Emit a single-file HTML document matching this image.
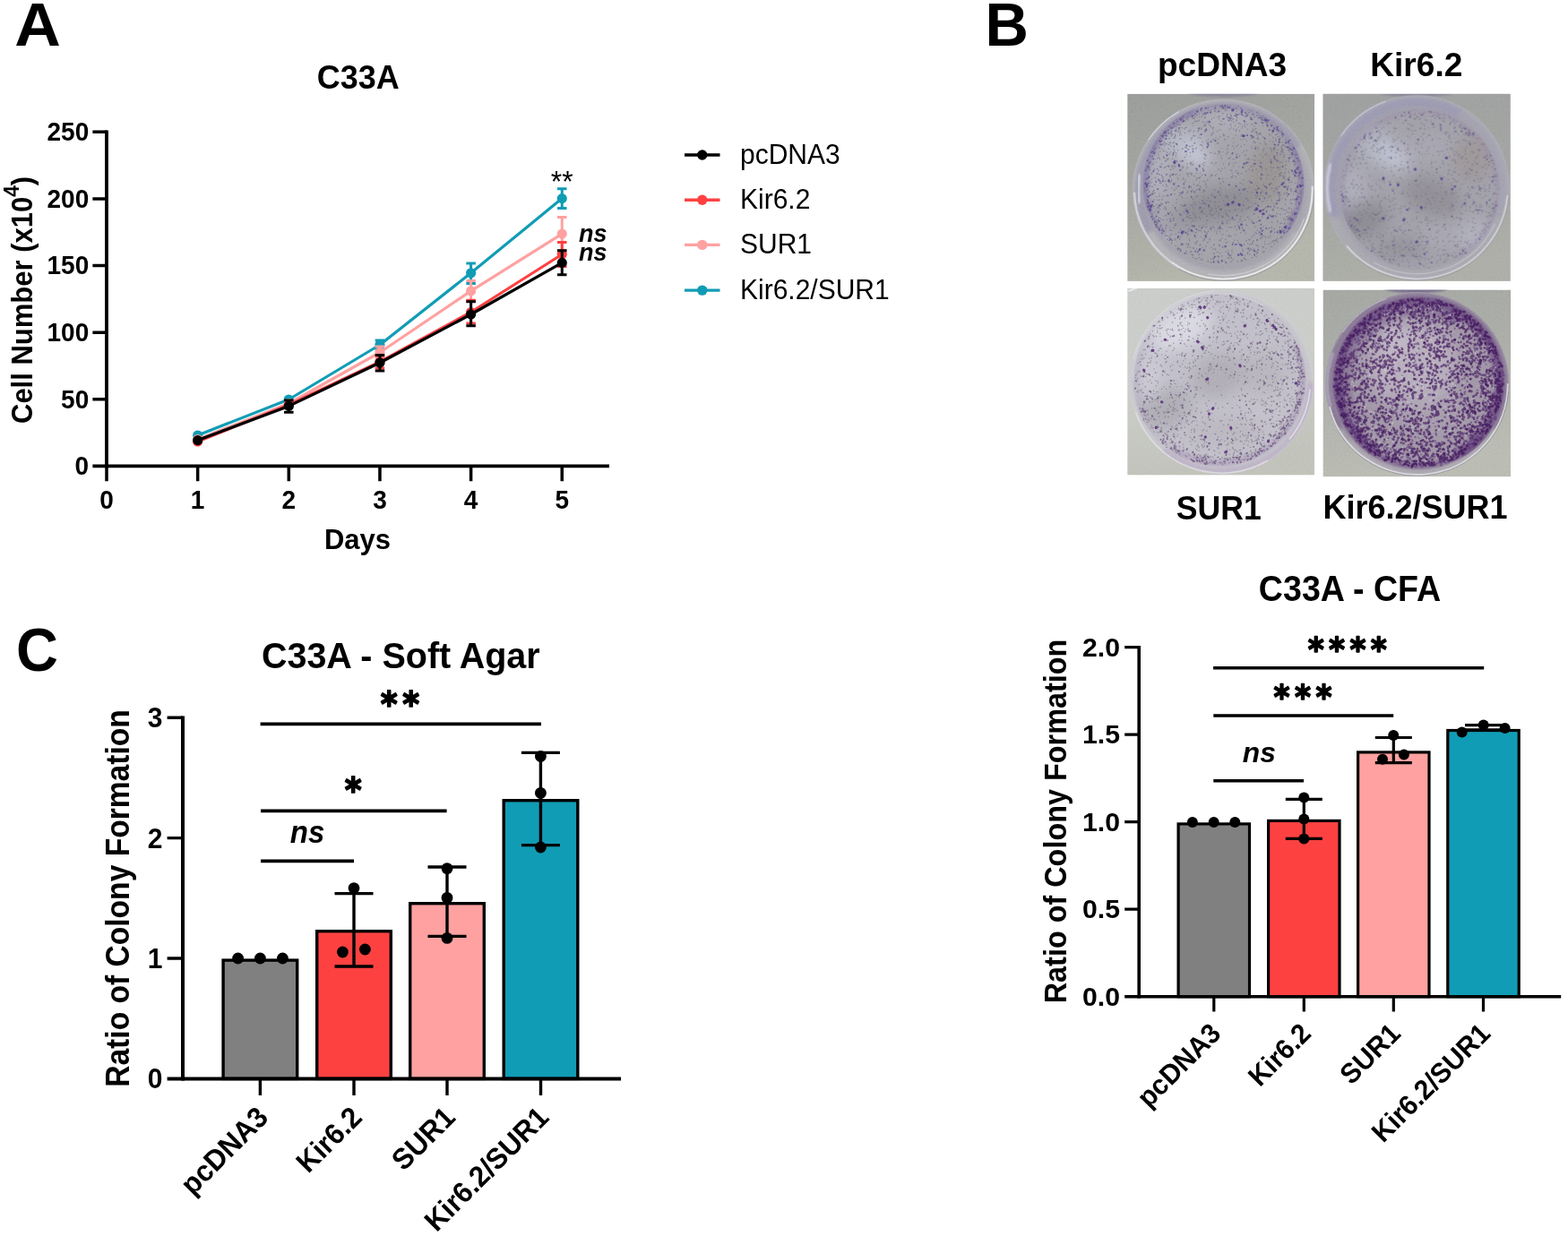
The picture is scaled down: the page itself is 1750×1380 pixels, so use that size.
<!DOCTYPE html>
<html lang="en">
<head>
<meta charset="utf-8">
<title>C33A proliferation and colony formation</title>
<style>
html,body{margin:0;padding:0;background:#fff;width:1750px;height:1380px;overflow:hidden}
svg{display:block;position:absolute;left:0;top:0}
text{font-family:"Liberation Sans",Arial,Helvetica,sans-serif;fill:#000;stroke:none}
.b{font-weight:bold}
.r{font-weight:normal}
.bi{font-weight:bold;font-style:italic}
.st{font-family:"DejaVu Sans","Liberation Sans",sans-serif;font-weight:bold;stroke:#000;stroke-linejoin:round;stroke-linecap:round}
</style>
</head>
<body>
<svg width="1750" height="1380" viewBox="0 0 1750 1380">
<rect width="1750" height="1380" fill="#fff"/>
<g id="panel-a">
<text class="b" transform="translate(16.2 51.4) scale(1.067 1.033)" font-size="67">A</text>
<text class="b" transform="translate(399.7 99) scale(1 1.04)" font-size="36" text-anchor="middle">C33A</text>
<g stroke="#000" stroke-width="3.8" fill="none">
<path d="M119 145.55V522.3"/>
<path d="M103.4 520.4H680"/>
</g>
<g stroke="#000" stroke-width="3.5" fill="none">
<path d="M103.4 445.78H119M103.4 371.16H119M103.4 296.54H119M103.4 221.92H119M103.4 147.3H119M119 520.4V537.3M220.65 520.4V537.3M322.3 520.4V537.3M423.95 520.4V537.3M525.6 520.4V537.3M627.25 520.4V537.3"/>
</g>
<text class="b" transform="translate(99.2 530.3) scale(1 1.04)" font-size="28" text-anchor="end">0</text>
<text class="b" transform="translate(99.2 455.68) scale(1 1.04)" font-size="28" text-anchor="end">50</text>
<text class="b" transform="translate(99.2 381.06) scale(1 1.04)" font-size="28" text-anchor="end">100</text>
<text class="b" transform="translate(99.2 306.44) scale(1 1.04)" font-size="28" text-anchor="end">150</text>
<text class="b" transform="translate(99.2 231.82) scale(1 1.04)" font-size="28" text-anchor="end">200</text>
<text class="b" transform="translate(99.2 157.2) scale(1 1.04)" font-size="28" text-anchor="end">250</text>
<text class="b" transform="translate(119 568) scale(1 1.04)" font-size="28" text-anchor="middle">0</text>
<text class="b" transform="translate(220.65 568) scale(1 1.04)" font-size="28" text-anchor="middle">1</text>
<text class="b" transform="translate(322.3 568) scale(1 1.04)" font-size="28" text-anchor="middle">2</text>
<text class="b" transform="translate(423.95 568) scale(1 1.04)" font-size="28" text-anchor="middle">3</text>
<text class="b" transform="translate(525.6 568) scale(1 1.04)" font-size="28" text-anchor="middle">4</text>
<text class="b" transform="translate(627.25 568) scale(1 1.04)" font-size="28" text-anchor="middle">5</text>
<text class="b" transform="translate(399 612.5) scale(1 1.04)" font-size="31" text-anchor="middle">Days</text>
<text class="b" transform="translate(36 335) rotate(-90) scale(1 1.08)" font-size="31" text-anchor="middle">Cell Number (x10<tspan font-size="22.5" dy="-13.6">4</tspan><tspan dy="13.6">)</tspan></text>
<g stroke="#119cb5" fill="#119cb5" stroke-width="3.2">
<polyline fill="none" stroke-linejoin="round" points="220.65,486 322.3,446 423.95,385 525.6,304.8 627.25,221.6"/>
<path d="M418.7 380H429.2M418.7 390H429.2M423.95 380V390" fill="none" stroke-width="3"/>
<path d="M520.35 294.1H530.85M520.35 316.5H530.85M525.6 294.1V316.5" fill="none" stroke-width="3"/>
<path d="M622 210.8H632.5M622 232.5H632.5M627.25 210.8V232.5" fill="none" stroke-width="3"/>
<circle cx="220.65" cy="486" r="5.6" stroke="none"/>
<circle cx="322.3" cy="446" r="5.6" stroke="none"/>
<circle cx="423.95" cy="385" r="5.6" stroke="none"/>
<circle cx="525.6" cy="304.8" r="5.6" stroke="none"/>
<circle cx="627.25" cy="221.6" r="5.6" stroke="none"/>
</g>
<g stroke="#ffa1a1" fill="#ffa1a1" stroke-width="3.2">
<polyline fill="none" stroke-linejoin="round" points="220.65,490.5 322.3,450.5 423.95,393.5 525.6,324.9 627.25,261.1"/>
<path d="M418.7 387H429.2M418.7 399.5H429.2M423.95 387V399.5" fill="none" stroke-width="3"/>
<path d="M520.35 313.5H530.85M520.35 336.3H530.85M525.6 313.5V336.3" fill="none" stroke-width="3"/>
<path d="M622 242.6H632.5M622 279.6H632.5M627.25 242.6V279.6" fill="none" stroke-width="3"/>
<circle cx="220.65" cy="490.5" r="5.6" stroke="none"/>
<circle cx="322.3" cy="450.5" r="5.6" stroke="none"/>
<circle cx="423.95" cy="393.5" r="5.6" stroke="none"/>
<circle cx="525.6" cy="324.9" r="5.6" stroke="none"/>
<circle cx="627.25" cy="261.1" r="5.6" stroke="none"/>
</g>
<g stroke="#fd4141" fill="#fd4141" stroke-width="3.2">
<polyline fill="none" stroke-linejoin="round" points="220.65,493 322.3,452 423.95,404 525.6,348.5 627.25,284"/>
<path d="M418.7 397H429.2M418.7 411H429.2M423.95 397V411" fill="none" stroke-width="3"/>
<path d="M520.35 335.2H530.85M520.35 361H530.85M525.6 335.2V361" fill="none" stroke-width="3"/>
<path d="M622 270.5H632.5M622 297.5H632.5M627.25 270.5V297.5" fill="none" stroke-width="3"/>
<circle cx="220.65" cy="493" r="5.6" stroke="none"/>
<circle cx="322.3" cy="452" r="5.6" stroke="none"/>
<circle cx="423.95" cy="404" r="5.6" stroke="none"/>
<circle cx="525.6" cy="348.5" r="5.6" stroke="none"/>
<circle cx="627.25" cy="284" r="5.6" stroke="none"/>
</g>
<g stroke="#000" fill="#000" stroke-width="3.2">
<polyline fill="none" stroke-linejoin="round" points="220.65,491.6 322.3,453.4 423.95,405 525.6,351 627.25,293.4"/>
<path d="M317.05 447H327.55M317.05 460.3H327.55M322.3 447V460.3" fill="none" stroke-width="3"/>
<path d="M418.7 396.5H429.2M418.7 414H429.2M423.95 396.5V414" fill="none" stroke-width="3"/>
<path d="M520.35 336.8H530.85M520.35 363.7H530.85M525.6 336.8V363.7" fill="none" stroke-width="3"/>
<path d="M622 279.8H632.5M622 306.7H632.5M627.25 279.8V306.7" fill="none" stroke-width="3"/>
<circle cx="220.65" cy="491.6" r="5.6" stroke="none"/>
<circle cx="322.3" cy="453.4" r="5.6" stroke="none"/>
<circle cx="423.95" cy="405" r="5.6" stroke="none"/>
<circle cx="525.6" cy="351" r="5.6" stroke="none"/>
<circle cx="627.25" cy="293.4" r="5.6" stroke="none"/>
</g>
<text class="r" transform="translate(627.2 214) scale(1 1.04)" font-size="32" text-anchor="middle">**</text>
<text class="bi" transform="translate(646 269.5) scale(1 1.04)" font-size="27">ns</text>
<text class="bi" transform="translate(646 290.6) scale(1 1.04)" font-size="27">ns</text>
</g>
<g id="legend">
<g stroke="#000" fill="#000">
<path d="M764 173H803.5" stroke-width="3.4" fill="none"/>
<circle cx="783.75" cy="173" r="5.7" stroke="none"/>
</g>
<text class="r" transform="translate(826 183) scale(1 1.04)" font-size="30">pcDNA3</text>
<g stroke="#fd4141" fill="#fd4141">
<path d="M764 223.2H803.5" stroke-width="3.4" fill="none"/>
<circle cx="783.75" cy="223.2" r="5.7" stroke="none"/>
</g>
<text class="r" transform="translate(826 233.2) scale(1 1.04)" font-size="30">Kir6.2</text>
<g stroke="#ffa1a1" fill="#ffa1a1">
<path d="M764 273.4H803.5" stroke-width="3.4" fill="none"/>
<circle cx="783.75" cy="273.4" r="5.7" stroke="none"/>
</g>
<text class="r" transform="translate(826 283.4) scale(1 1.04)" font-size="30">SUR1</text>
<g stroke="#119cb5" fill="#119cb5">
<path d="M764 324.1H803.5" stroke-width="3.4" fill="none"/>
<circle cx="783.75" cy="324.1" r="5.7" stroke="none"/>
</g>
<text class="r" transform="translate(826 334.1) scale(1 1.04)" font-size="30">Kir6.2/SUR1</text>
</g>
<g id="panel-b">
<text class="b" transform="translate(1099.4 51.3) scale(1 1.03)" font-size="67">B</text>
<g id="photos">
<defs>
<filter id="bl05" x="-30%" y="-30%" width="160%" height="160%"><feGaussianBlur stdDeviation="0.5"/></filter>
<filter id="bl06" x="-30%" y="-30%" width="160%" height="160%"><feGaussianBlur stdDeviation="0.6"/></filter>
<filter id="bl07" x="-30%" y="-30%" width="160%" height="160%"><feGaussianBlur stdDeviation="0.75"/></filter>
<filter id="bl09" x="-30%" y="-30%" width="160%" height="160%"><feGaussianBlur stdDeviation="0.95"/></filter>
<filter id="bl1" x="-30%" y="-30%" width="160%" height="160%"><feGaussianBlur stdDeviation="1"/></filter>
<filter id="bl2" x="-30%" y="-30%" width="160%" height="160%"><feGaussianBlur stdDeviation="2"/></filter>
<filter id="bl8" x="-30%" y="-30%" width="160%" height="160%"><feGaussianBlur stdDeviation="8"/></filter>
<filter id="grain" x="0" y="0" width="100%" height="100%" color-interpolation-filters="sRGB"><feTurbulence type="fractalNoise" baseFrequency="0.45" numOctaves="3" seed="7"/><feColorMatrix type="matrix" values="0.6 0.6 0.6 0 -0.4  0.6 0.6 0.6 0 -0.4  0.6 0.6 0.6 0 -0.4  0 0 0 0 1"/></filter>
<linearGradient id="pbg0" x1="0" y1="0" x2="0.3" y2="1"><stop offset="0" stop-color="#9c9e9c"/><stop offset="0.5" stop-color="#a5a7a2"/><stop offset="1" stop-color="#b5b7ac"/></linearGradient>
<radialGradient id="pwall0" gradientUnits="userSpaceOnUse" cx="107.3" cy="107.4" r="101.6"><stop offset="0" stop-color="#a3a2aa"/><stop offset="0.88" stop-color="#a5a3ad"/><stop offset="0.95" stop-color="#aeadb3"/><stop offset="1" stop-color="#b6b6b9"/></radialGradient>
<clipPath id="pclip0"><rect width="208.9" height="209.1"/></clipPath>
<clipPath id="pfl0"><circle cx="107.2" cy="100.8" r="90.2"/></clipPath>
<clipPath id="pout0"><circle cx="107.3" cy="107.4" r="101.6"/></clipPath>
<linearGradient id="pbg1" x1="0" y1="0" x2="0.2" y2="1"><stop offset="0" stop-color="#9fa2a1"/><stop offset="0.55" stop-color="#a3a6a2"/><stop offset="1" stop-color="#adafa8"/></linearGradient>
<radialGradient id="pwall1" gradientUnits="userSpaceOnUse" cx="104.7" cy="104.9" r="103.6"><stop offset="0" stop-color="#a2a2ab"/><stop offset="0.84" stop-color="#a3a2ad"/><stop offset="0.93" stop-color="#a9a8b1"/><stop offset="1" stop-color="#b0b0b5"/></radialGradient>
<clipPath id="pclip1"><rect width="209.5" height="209.1"/></clipPath>
<clipPath id="pfl1"><circle cx="108" cy="106.6" r="89.5"/></clipPath>
<clipPath id="pout1"><circle cx="104.7" cy="104.9" r="103.6"/></clipPath>
<linearGradient id="pbg2" x1="0" y1="0" x2="0.2" y2="1"><stop offset="0" stop-color="#cacdca"/><stop offset="0.5" stop-color="#cbcec9"/><stop offset="1" stop-color="#c2c4bc"/></linearGradient>
<radialGradient id="pwall2" gradientUnits="userSpaceOnUse" cx="105.2" cy="104.7" r="102.8"><stop offset="0" stop-color="#c1c0c8"/><stop offset="0.9" stop-color="#c3c1ca"/><stop offset="0.96" stop-color="#c8c7cd"/><stop offset="1" stop-color="#cfcfd1"/></radialGradient>
<clipPath id="pclip2"><rect width="208.9" height="208.7"/></clipPath>
<clipPath id="pfl2"><circle cx="102.8" cy="102.4" r="96.5"/></clipPath>
<clipPath id="pout2"><circle cx="105.2" cy="104.7" r="102.8"/></clipPath>
<linearGradient id="pbg3" x1="0" y1="0" x2="0.2" y2="1"><stop offset="0" stop-color="#a6a8a4"/><stop offset="0.5" stop-color="#adafaa"/><stop offset="1" stop-color="#bbbdb4"/></linearGradient>
<radialGradient id="pwall3" gradientUnits="userSpaceOnUse" cx="105.2" cy="105.2" r="102.6"><stop offset="0" stop-color="#8a7c92"/><stop offset="0.9" stop-color="#8d8095"/><stop offset="0.96" stop-color="#a39ea8"/><stop offset="1" stop-color="#b3b1b7"/></radialGradient>
<clipPath id="pclip3"><rect width="209.5" height="208.7"/></clipPath>
<clipPath id="pfl3"><circle cx="107" cy="103.5" r="97"/></clipPath>
<clipPath id="pout3"><circle cx="105.2" cy="105.2" r="102.6"/></clipPath>
</defs>
<g transform="translate(1258.2 104.8)" clip-path="url(#pclip0)"><rect width="208.9" height="209.1" fill="url(#pbg0)"/><ellipse cx="108" cy="-3" rx="42" ry="6.5" fill="#8a8399" opacity="0.85" filter="url(#bl1)"/><circle cx="107.3" cy="107.4" r="101.6" fill="url(#pwall0)"/><g clip-path="url(#pout0)"><path d="M24.2 155.4A96 96 0 0 1 190.4 59.4" fill="none" stroke="#9290ad" stroke-width="9" opacity="0.5" filter="url(#bl2)"/><path d="M189.6 154.9A95 95 0 0 1 25 154.9" fill="none" stroke="#b6b6b9" stroke-width="9" opacity="0.8" filter="url(#bl2)"/></g><g clip-path="url(#pfl0)"><circle cx="107.2" cy="100.8" r="91.2" fill="#a5a4ab"/><g filter="url(#bl8)"><ellipse cx="74" cy="67" rx="20" ry="11" transform="rotate(40 74 67)" fill="#d0d3e2" opacity="0.95"/><ellipse cx="66" cy="58" rx="30" ry="20" transform="rotate(30 66 58)" fill="#bcbfce" opacity="0.6"/><ellipse cx="112" cy="30" rx="30" ry="12" transform="rotate(0 112 30)" fill="#b4b4c0" opacity="0.6"/><ellipse cx="34" cy="90" rx="14" ry="30" transform="rotate(0 34 90)" fill="#b6b6c4" opacity="0.6"/><ellipse cx="40" cy="150" rx="20" ry="16" transform="rotate(0 40 150)" fill="#b1b0bc" opacity="0.6"/><ellipse cx="103" cy="124" rx="44" ry="20" transform="rotate(-12 103 124)" fill="#8b8990" opacity="0.85"/><ellipse cx="156" cy="90" rx="22" ry="36" transform="rotate(10 156 90)" fill="#96918f" opacity="0.75"/><ellipse cx="60" cy="141" rx="22" ry="14" transform="rotate(-20 60 141)" fill="#929097" opacity="0.6"/><ellipse cx="150" cy="150" rx="26" ry="16" transform="rotate(20 150 150)" fill="#a09ea5" opacity="0.6"/></g><path d="M40.6 156.7A87 87 0 1 1 173.8 156.7" fill="none" stroke="#877aad" stroke-width="6" opacity="0.4" filter="url(#bl2)"/><path d="M183.4 56.8A88 88 0 0 1 179.3 151.3" fill="none" stroke="#7361a0" stroke-width="5" opacity="0.35" filter="url(#bl2)"/><path d="M24.5 130.9A88 88 0 0 1 77.1 18.1" fill="none" stroke="#7361a0" stroke-width="5" opacity="0.35" filter="url(#bl2)"/></g><g clip-path="url(#pout0)"><g filter="url(#bl06)"><path d="M25.2 126.1l-0.2 0.8M136.4 167.9l-0.1 0.1M134.3 119l0.4 0.1M181 92.5l-0.4 0.9M154.7 173.1l0 0M169.1 112.6l-0.2 0.4M43.2 100.9l0.5 0.5M189.7 99.6l0.1 0.1M58.8 135.8l1.3 0M123.4 163.5l-0.4 0M42.2 149.6l0.9 0.2M68 169.4l0.4 0.1M147.4 116.7l-0.1 0.3M33.5 126.1l0.6 0.2M62.1 125.3l-0.7 0.1M135 21.2l-0.2 0.1M55.2 36.5l-0.1 0.1M93 127.1l0.5 0.1M44.9 65.2l-0.5 0.1M24.1 109.3l0.5 0.3M153.4 168l0 0M188 69l-0.4 0.2M79.7 79.9l1.3 1.2M84.2 22.3l-0.1 0.4M86.3 175.3l-0.1 0.4M138.5 59l-0.2 0.1M132.3 185l0.6 0.4M81.3 128.8l-1 0.1M68.1 41.7l1 0.5M185.8 118.4l0.6 0M56.2 42l1.1 0.3M25.8 76.6l-1.7 1.8M82.7 18.9l-0.6 0.2M162.7 42.6l-0.8 0.4M53.9 74.6l0.8 0.2M53.4 36.2l-0.3 0.4M53.1 146.4l1.2 0.3M107.3 16.4l-0.3 0.4M21.5 102.3l0 0M182.5 106.2l-0.1 0M61.9 29.4l0.2 0.3M75.7 46.9l-0.5 0.2M66.1 137.3l1.3 0.6M24.4 102.6l0.3 0.3M132.4 146.1l1.3 1M50.5 134.8l-0.5 0M32.8 123.7l-0.1 0.1M34.5 66.3l0.1 0M119.7 115.1l0.2 0.1M167.9 119.2l-0.2 0.4M58.2 28.7l0 0.2M95.7 50.5l0 0.6M62 61.2l-0.7 0.5M173.4 56.6l0.1 0.5M65.6 58.9l-1 0.8M176.9 75.3l0.5 0.4M94.3 28.2l-0.1 0M175.1 92.4l-0.4 0.3M71.6 175.9l0 0.2M44.7 80.4l0.2 0M139 19.3l-0.3 0.3M82.6 39.5l-0.1 0M165.4 135.7l-0.1 0.3M38.3 90.9l0.6 0.9M44.9 158.5l-0.4 0M62.3 93.9l-0.1 1.3M87.3 100.4l0.3 0.8M128 38.2l-0.1 0.1M163.4 125.5l1 1.1M23.5 115.1l0 0.6M77.5 167l-1.3 0.3M119.8 114.1l-0.1 0.1M75.4 166.1l0.4 0.2M97.1 17.4l0 0M50.6 124.5l0.3 0.2M61 50.8l-0.1 0M70.3 69.6l-0.1 0M72.7 179.3l1 0.8M145.6 100.4l0.1 0.1M157.9 136.2l-0.9 0.7M160.4 154.7l-0.3 0.4M137.8 81.7l0 0.1M111.1 25.1l0.1 0M172.6 116.5l-0.1 0.2M134.9 137.2l-1.1 0.3M167.3 141.8l0.6 1M46.1 113.7l-0.1 0.3M189.6 107.7l-0.2 0.2M72.5 124.3l0 0.7M187.7 108.6l-0.2 0.4M52.2 138.5l-1.3 0.1M136 20.5l0 0M37.5 147.8l-0.7 1M113.8 40.2l0 0M22.5 117.6l0.5 0.4M160.3 81.6l-0.4 0.7M52.9 75.4l-0.6 0.8M108.6 82.5l0 0M102.9 40.3l0.2 0.4M176.5 150.2l0 0.1M37.2 97.4l-0.8 0.6M177.4 137.2l0 0M165.9 73.2l-0.1 0.4M164.9 123l-0.1 0.7M64.2 70.4l0.3 0.4M104.1 86.1l0.5 0.5M183.3 121.7l-0.8 0.8M189.5 127.6l0.9 0.2M161.2 64.3l0 0.5M166.9 76l-0.1 0M121.9 67.9l0.4 0.3M142.4 112.8l0.1 0.5M82.2 56.6l-0.5 0.4M21.9 84.1l-0.2 0.3M59.2 159.4l-0.2 0.7M41.1 57.9l-0.2 0M127.1 89.1l0.5 0.1M97.6 173l0.7 0.2M166.4 136.6l-0.2 0.5M74.8 133.9l-0.6 0.3M178.8 136.9l0.7 0.5M35 138l0.3 0.8M75.6 55.1l-1.1 0.3M77.1 115.5l-0.3 0.1M179.5 139.7l0.2 0.3M121 15.3l0.6 0.8M99 49l-0.3 0.3M51 163.4l-1.4 0.3M176.5 58.9l0.4 0.5M71.7 179.4l0.2 0.4M67.2 145.9l0.1 0.3M134.6 176.7l-0.3 1.3M144.6 176.1l0.2 0.3M175.4 110.4l-0.8 1.5M134.7 23.5l0.1 0M104.6 69.2l-0.1 0.3M153 159l0 0M47.6 92.7l0.2 0.4M172 87.7l-0.7 0.9M177.7 59.1l-0.1 0.2M157 35.4l-0.6 1.2M27.2 88.7l0.3 1.1M30.3 142.8l1.9 1.1M122.2 151.7l0.1 0.2M167.1 153.5l0 0M172.7 127.9l0.2 0.1M126.6 145.3l-0.1 0.1M70.8 76.2l-0.1 0.1M76.4 176.3l0 0.4M101.6 186.1l-0.5 0.1M82 103.6l-0.7 0.1M128.8 36.4l-0.6 0M99.8 89.5l0 0.1M53.9 156.4l0.3 0.2M70.7 176.1l0 0.3M73.9 62l-0.3 0.3M189.9 101.5l-0.1 0M174.3 139l0.1 0.7M187.2 77.8l0.3 0.4M128.1 17.9l0.9 0.7M67.6 89.7l-0.6 0.4M95.8 128.9l-0.2 0.2M85.1 127.6l0.2 0.7M27.5 120.3l0 0.1M89.8 33.1l0 0.1M187.8 106.1l0.2 0.2M69.1 138.4l0.5 0.8M68 132.3l0.2 0.3M180.1 74.6l0.5 0.9M147.6 23.8l-0.1 0.2M142.3 175.3l0.2 0.2M163 128.2l-0.7 0.7M131.4 50.3l0 0.1M183.3 108.2l-0.6 1.1M39.3 45.6l0.5 0.2M49.5 156.7l-0.7 0.4M46.5 49.6l0.3 0.6M23 100.6l-0.5 0.7M151.5 26.4l0 0.1M79.5 151.8l0.1 0.9M134.6 127.9l-0.1 0.7M28 69.2l-0.5 0M122.4 67.1l-0.2 0.1M111.9 182.8l0.4 0.3M26.1 75.7l-0.1 0M66.3 37.8l0 0.1M134.6 22.8l0.1 0.4M46 72.2l0.1 0.1M40.1 70.2l0.9 0.4M169.9 84.4l0.1 0.2M50.9 45.3l0 0M139.4 48.8l0.2 0.8M45.1 73.5l-0.7 0.2M165.1 58.8l0 0M182.7 136.2l0.7 0.1M90.6 54.8l0 0M84.2 118.5l-0.8 1.3M161.4 40.5l0.7 0.6M105.4 15.8l0.9 0.4M103.3 99.9l0.5 0.5M98.7 127.4l0.3 1M92 120.1l0.8 0.1M160.5 61.3l0.2 1.8M130.3 183.4l-0.7 0.2M126.5 155l-0.4 0.2M180.5 98.7l0.1 0M166.2 45.5l-0.7 0.2M133.5 72.7l0.1 0.5M154.9 126.6l-1 1.2M123.2 146.6l0.2 0.6M69.8 40.2l0.8 0.7M83.6 171.9l0.2 0M174.8 93.6l-0.1 1M157.6 115.6l0 0M96.4 149l0.8 1M26.3 75.6l0 0.2M107.5 14.8l0 0M138.7 167.6l-0.5 0.4M25 92.1l-0.4 0.7M64.8 95.3l0 0.1M114.5 180.1l-0.3 0.3M124 37.1l0 0.2M182.4 117.8l-0.2 0.9M135.4 71.8l0.2 0.8M31.8 129.7l0.1 0M164.6 63l0.1 0.1M70.3 65.6l-0.2 0.1M126.7 137.2l-0.1 0.1M120.7 76.6l0.4 0.4M191.3 85.1l0.1 0.1M85.1 107.2l1.5 1.4M172.4 46.9l0.4 0.1M184.6 117.7l0 0M46.3 80.2l-0.5 0.1M49.4 167.2l0 0.1M55.6 30l-0.1 0.5M152.6 61.4l-1.2 0.6M72.9 132.6l0 0.3M131.3 140.8l0 0.4M75.4 183.3l0.5 0.4M49.7 152.8l0.4 0M132.1 155.5l-0.4 0.1M94.6 44.2l0.4 0.8M115.6 16l1.3 0.1M93.4 129.1l-0.3 0.3M22.8 90.5l0 0M35.4 51.8l0.7 0.3M86.3 26.1l-0.2 0.3M138.6 142.5l0.1 0.2M142.6 61.2l0.3 0.6M126.5 50.8l-0.1 0.1M173.5 63.8l-0.8 0.4M110.3 133.2l0.3 1.5M41.2 153.7l0.3 0.3M142.5 155.4l0.4 0.4M158.8 135l0.8 0.4M47 66.4l0 0M49.7 166.6l-0.2 0.7M58.1 110.5l0.3 0M67.1 158.1l0.1 0M21.8 117.5l0.4 0.9M36.5 64.1l0.2 0.7M36.4 142.3l-0.7 0.3M90.4 116.2l0.3 0.5M81.5 131.7l0.5 0.4M113.7 148.8l0.3 0.8M112.2 174.8l0 0M48.9 43l0.3 0.5M165.5 50.3l-0.1 0.1M75.4 25.4l0 0.5M58.7 80.3l-0.6 0.6M58.6 90.3l0 0.2M167.1 161.4l0.8 0.3M44.8 120.4l0.6 0.3M124.7 81.3l0 0M68.3 132.1l-0.5 0.6M70.5 170.8l-0.2 0.7M43.3 135.6l-0.9 0.6M133.2 22.9l0.6 0.4M193.4 108.2l-0.2 0.3M54.4 130.1l-0.1 0M195 94.6l0.2 0.3M102.9 64.4l0 0.1M53.1 106.6l-0.1 0.1M138.9 49.9l-0.9 0.1M54.3 145l-0.7 0.5M128.3 128.7l0 0.5M119.6 112.5l0 0.2M139.2 141.4l0 0.1M102.3 182.3l0.5 0.1M143.7 181.5l0.3 0.2M148.5 55.3l0.2 0M38 78.1l0.4 0.5M189.2 67.6l-0.8 0.9M145.2 176.4l0.1 0.2M108.7 33.6l0.2 0M110.6 113.9l-1 0.8M99.8 20.2l-0.2 0.1M111 66.9l-0.4 0.5M107.1 119.4l-0.1 0.2M115.6 158.8l0.3 0.6M73.5 61l-1 0.3M70.9 176l-0.7 0.7M65.9 88.4l0.1 0.3M28.7 137.3l-0.1 0.5M187.6 76l0.2 0.3M109.3 18.7l0 0M71 124.4l-0.2 0M81.9 152.7l-1 0M142.5 148.2l-0.1 0.3M162.8 53.4l0 0.4M30.9 66.2l-0.5 0.8M65.2 124.1l0 0.7M169.3 113.5l-0.2 0.5M73.7 78.2l-1.5 1.6M73.2 182.3l0.1 0.4M162 40.5l0 0M58.7 34.7l-0.2 0M177.9 131.3l0.6 0.6M131.3 36.7l0.2 0.2M54.2 33.6l0.1 0.1M131.8 25.1l-0.1 0.8M140.7 78.2l0.2 0M60.6 168.6l0.2 0.1M141.7 176.1l1.1 0.3M180.1 95.2l-0.9 0.4M96.7 26.5l0.1 0.1M86.4 148.5l0 0M94.4 65.4l0.2 0.1M161 148.9l0.3 0.7M132.4 172.6l0 0M37.7 146l0.3 1.1M23.9 124l0.3 0.5M86.9 33.1l0.2 0.2M146.2 50.2l-1.4 0.3M52.6 147.4l0.1 0.2M90.2 186.1l0 0.1M90.5 54.4l-0.3 0.1M106.6 157.5l-0.2 0.1M147.8 45.1l1.2 0.3M56.5 159.4l-0.4 0.8M58.9 172.9l0.1 1M71.8 142.7l-0.1 0.1M38 46.7l-0.6 0.4M55.1 29.1l0 0M34.9 118.3l0.3 0.3M59.1 152.1l0 0M60.7 37.7l0.2 0.2M137.2 26.8l0.6 0M161.1 35.4l0.5 0M66.7 155.8l0.6 0.8M25.6 97l0 0.2M93.7 148.4l0.1 0.2M167.2 122.1l-0.6 0.3M139.5 125.7l-0.3 0M35.8 89.5l0.3 1.1M188.6 106.3l-0.9 1M91.3 34.5l0.2 0.3M188.1 83.4l0.1 0M30.7 145.3l0.2 0.3M23 106.6l0 0.9M151.4 70.3l-0.2 0.2M104 163.1l0.1 0.6M23.5 127.5l-0.1 0.8M79.8 120.8l0.1 0.3M88.3 145l0 0M97.8 107l-0.2 0.8M176.6 83.3l-0.1 0.4M51.1 65.5l0 0.4M109.2 16.1l-0.2 0.2M53 128.2l0.2 0.1M162.7 95.2l0.6 0.9M138.3 33.9l1.1 0.2M46.3 40.1l-0.2 0.4M185.2 111.8l0 0M30.4 144l0 0M163.4 129.4l0 0M31 132.7l0 0M142 41.2l0.3 0.1M171.2 159.7l1.2 0.9M36.3 142.9l0.5 0.2M121.9 85.9l-0.3 0.5M175.6 67.7l0.1 0.3M123 13.7l0.3 0.3M74.6 147.9l0.2 0.7M55.6 74.8l-0.1 0.4M51.9 107.6l0.1 0.1M101 50.8l0.5 0.1M142.2 32l-0.2 0.9M170.4 91.1l0 0.4M111.2 134.9l0.5 0.1M85.2 35.2l0.6 1.1M153.2 165.4l-0.1 0.1M120.6 167.8l-0.1 0.3M158.6 149.5l-0.7 1.1M56.4 159.1l0.6 0.7M139.1 61l0 0M106.1 150.8l0.1 0.1M54.9 105.8l-0.1 0.1M151.7 171l-0.3 0.8M41.4 82.2l-0.6 0.5M75.7 137.6l-0.4 0.5M172.8 76.5l0.1 0.2M111.2 136l0.9 0.2M176.8 51.4l0.9 1.3M159.9 46.1l0 0.2M189.8 91.8l-0.1 0M23.2 89.5l0 0.1M30.5 101.3l0.7 0.2M19.8 108l-0.1 0.4M144.4 143l-0.5 0M186.4 75l-1.5 0.3M177.9 109.8l-0.1 0.4M181 67.9l0.2 0.1M120 87l0 0M139.6 41.6l-0.8 0.6M190.9 101.2l0.4 1.3M99.3 114l-0.2 0.1M102 168.5l0.1 0.5M111.4 143.6l0.8 0.4M105.5 180.9l-0.1 0.2M104 150.9l-0.4 0.2M128.7 150.1l-0.3 0.5M114.9 71l-0.7 0.7M109.3 162.2l0.3 0.6M157.8 69.1l0 0M121.1 46.1l0.1 0.1M53 64.8l-0.6 0.4M166.3 105.9l1.3 0.6M131.2 184.6l-0.6 0.1M85.7 133.7l0.3 0.2M162.6 164.2l-1.1 1.2M163 82.4l-0.4 0.1M158.6 125.6l0.4 0.1M94.2 135.5l-0.2 0.8M113.9 14.3l0.1 0M51.3 99.5l-0.2 1.1M83 185.1l-0.8 0.4M22.7 119.7l-0.2 0M167.1 110.1l0.3 0.2M105.7 83.6l0.1 0.1M129.8 30.1l0.4 0M77.8 183.6l0 0.5M66.1 60.3l-0.4 0.2M47.3 67.4l-0.6 0.2M115.9 183.4l-0.1 0.1M153.2 176l-0.1 0.1M111 141.7l-0.4 0.1M40 102l0.2 0.6M158.5 101.3l0.1 0.9M162.5 135.8l-0.2 0.4M169.3 89l0.8 0.7M131.1 56.7l-0.6 0.2M37.8 99.1l0 0.8M90.4 165.3l0.1 0.2M134.3 178.4l-0.6 0.2M76.7 30.1l-1.5 1M133 23.5l-0.2 0M163.4 108.9l-0.4 0.3M41 45.7l-0.1 0.1M171.9 153.9l0.1 0.2M138.2 173.5l0.9 0.4M94.4 13.9l-0.1 0.1M40.4 69.8l0 1.2M93.5 113l0.5 0.4M63.8 38.2l-0.1 1.1M89.4 141.2l-0.6 0.1M65.8 175.4l0.5 0.7M190.6 74.9l0.1 0.1M85.4 97.7l-0.6 0.3M30.7 83.5l0 0M108.8 130l0.5 0.1M53.9 169.3l0.1 0.4M115.2 187.6l0.5 0.2M34.9 133.2l-0.9 0.2M163.4 61.3l-0.3 0M29 87l-0.1 0.4M96.2 177.7l0.1 0.1M115.4 24.5l0.7 0.2M23.8 114.1l0.2 0M175.9 133.7l0.1 0.3M52.8 73.8l-0.1 0.1M96.9 78.4l0.1 0M22.8 114.9l0.6 0.2M170.1 82l-0.1 0.5M92.5 134.4l-0.2 0.1M46.8 97.5l-0.4 0.2M103.6 177.5l0.1 0.6M37.5 122l0.1 0.2M86 161.1l0.2 1.4M44.7 162.5l-0.2 0.1M43.5 146.2l-0.3 0.1M72.2 48.8l-0.5 1M117.5 168.6l-0.4 0.5M186.2 109.1l0.1 0.1M61.5 61.2l-0.4 0.1M183.2 130.8l0 0M47.5 149.4l0 0.1M106.5 170.5l-0.2 1.1M194.6 93.7l-0.6 0.1M96.8 168l-0.2 0.4M148.7 68l0 0M34.2 140.9l-0.5 0M55.1 76.5l0 0M77.9 24.2l0.1 0.3M97.1 168.5l-0.3 0.6M157.1 168.2l-0.1 0M107.3 137.2l-0.7 0.8M100.3 176.7l0.6 0.1M126.7 58.7l0.2 0.3M154.1 55.8l0.6 0.9M41.7 125.9l1.2 1M114.1 140.5l-1.3 0.1M73.3 153.3l-0.4 0.6M143.6 168.4l1.1 0.9M142.6 68.7l-0.2 0.3M133.9 109l-0.3 0.2M75.1 91.9l-0.6 0M84.6 84.3l0.2 0.1M149.9 106.4l-0.1 0.1M84 148.3l-0.2 1M76.5 139.9l0.1 0M88.2 148.4l0.5 0.2M145.3 45.5l-0.4 0.4M52.6 47.8l0 1.4M50.2 135.4l-0.1 0.8M118.6 54.6l0.2 0M80 182.6l0.8 0.5M158.5 45.2l0.1 0.4M40 151.3l-1.1 0M133.2 85.8l0 0M24.2 93.1l-0.1 1.9M194.7 95.5l0 0M59.1 43.1l-0.5 0.4M71.4 77.5l-0.8 1.3M121.5 168.1l0.2 0.3M92.6 93l0.1 0.1M157.6 125.6l-1 0.1M27.4 69.9l-0.3 0.3M111.3 23.1l0.2 0.2M171 112.9l0.4 0.4M141.7 36l-0.1 0.2M183.5 68l0.2 0.2M92.8 36.2l0.3 0.4M132 86.7l0.1 0.1M113.9 183.2l-0.3 0.5M53.6 45.2l0 1.9M162.7 122.3l0.2 0M162.8 94.8l0 0M70.9 76.9l-0.6 0.6M66.5 83.2l0 0M126.2 111l-0.3 0.1M49.4 46.7l-0.5 0.6M145.1 113.5l0.1 0M130.1 78.5l0.2 0M155.9 30.5l0.2 0.3M139.1 182.8l0.2 0.1M68 91.9l-0.1 0.3M42.3 97.6l0.8 0.5M48.6 64.8l0.1 0.3M87.2 26.7l-0.1 0M158.6 114.3l0 0M160.7 73.4l-1.1 0.5M114.9 22.6l0.1 0.1M40.3 48.6l-1.3 0M153.6 26.9l0.6 0.3M75.9 122.5l0 0M93.8 171.6l0.2 0.1M23.7 129.4l0 0M123.9 142.8l-0.1 0.7M95.6 173.4l0 0M93.3 36.9l-0.2 0M54.1 129.6l0.8 1.1M103.2 25.1l-0.7 0.1M119.3 140.6l1 0.1M40.5 140.8l-0.9 0.1M186.2 131.1l-0.7 1.1M51.1 83.4l0.3 0.1M51.5 32l0.2 0M29.3 85.1l0.7 0.3M67.2 26.7l-0.8 0.4M83.9 53.5l-0.2 0.2M98.2 90.9l-0.2 0.5M80 99.2l0.1 0M38.1 45.8l0 0.2M47 98.6l-0.5 0.1M42.2 107.4l1.7 0.3M51.1 141.7l0.1 0.2M56.5 62.9l0.2 0.3M75.8 135.2l0.1 1.5M106.7 14.1l-0.1 0.4M160.6 118.5l0.7 0.3M170.2 115.8l-0.9 0.3M113.4 77.2l0.4 0.5M171.2 64l0.5 0.1M171.6 67.3l-0.5 0.1M129.4 24.3l-0.6 0.1M153 48.8l0.4 0.6M146 169.7l-0.2 0.3M102.1 64.7l0.6 0.2M139.3 158.8l0.2 0.4M139.5 165.1l0.5 0.2M86 31.6l-0.1 0M179.9 86.8l0.4 0.9M44.6 140.2l-0.3 0.2M132.6 22.2l0.2 0.5M73 58l-1 0.2M95.4 135.1l0.7 0.3M86.8 76.7l0 0M153.9 55.7l1 0.7M94 151.2l0 0M121.6 58.7l0.2 0.1M170.7 134.4l-0.2 0.7M72.1 146.9l-0.3 1.2M130.1 124l-0.1 0.6M177.3 149.9l-0.1 0.2M170.3 53.2l-0.4 0.3M74.2 41.3l0.2 0.6M31.6 93.4l-1 0.6M177.5 146.9l0.5 0.8M42.4 126.9l1 1.2M122 19.4l0 0M131.5 116.9l0 0M116 26.4l0.6 0.4M34 118.4l0.4 0.1M151.5 152.7l0 0M128.3 65.4l0 0M185.3 89.4l0.5 0.4M142.2 133.9l-1.4 0.5M138.9 80.6l-0.1 0.3M95.4 39.1l0.1 0.4M44.6 113.6l0.2 0.4M34.4 68.3l0.5 0.1M183.2 142.2l-0.4 0.2M164.7 111.8l0 0.1M130.1 64.3l0.3 0.1M155.1 105.4l0.2 0.1M137 174.5l-0.8 0.9M88.4 155.3l0.8 0.9M133.8 34.2l-0.2 0M189 67.2l0.4 0.1M80.4 178.8l-0.6 1M131.1 180.8l0.1 0.2M84.4 184.3l0 0M144.6 20.7l0.9 0.7M182.9 132.5l-0.1 0.5M88.6 118.7l0.3 0.5M82.9 178.8l-0.1 0.1M63.9 153l-0.3 0.2M53.9 81.1l0 0M24.9 99.2l-0.5 0.8M38.6 117.7l-0.1 0.7M118.1 77.3l0 0M174.4 57.1l1 0.6M35.2 70.7l0.6 0.9M172.6 41.9l-0.1 0.1M97.7 19.6l0 0.3M66.3 167l0.2 1.1M102 135.8l0 0.4M27.8 135l-0.6 0.1M147.2 74.4l0 0M37.8 46l0.4 0.6M192.7 111.3l1.1 0.1M113.8 180.8l0.4 0.1M182.7 84.8l0 0.3M105.9 33.8l-0.1 0.1M89.3 136.4l-0.8 0.1M128.1 185.5l-1.3 0.7M147.8 43.8l0.5 0.1M97.8 18.9l-0.2 0.2M19.1 107.5l0 0.1M72.8 32.8l0.7 0.1M172.7 53.3l0.1 0.7M128.2 173.4l0.3 0M68.9 129.4l0.1 0.1M33.5 143.9l-0.1 0M51.1 55l0.1 0.1M168.3 62.6l-0.2 0.1M192.7 78.7l0 0.1M60.6 45.5l0 0M180.1 103l-0.8 0.4M116.2 37.1l-0.1 0M38.6 152.8l0.2 0.5M102 134l0.2 0.1M41.1 54.1l0.3 0.6M174.6 91.1l0 0M159.3 60.6l0 0.1M104.3 129.1l-0.3 0.2M116.2 29.9l-0.4 0.2M102.6 19.3l-0.8 0M118.3 31.6l0.6 0.3M157.5 90.7l-0.7 0M42.5 158l0.3 0.4M48.7 54.2l-1.7 0.6M179.3 62l1.2 0.3M40.7 63.2l-0.6 0.8M20.4 85.9l-0.2 0.1M87.3 101.3l0 0.1M139.5 84.4l-0.1 0.1M83.4 24.8l-0.1 0.6M93.6 184.2l0.2 0.3M113.1 56.8l-1.3 1.3M134.9 97.6l0 0M176.5 122.9l0.4 0.4M122.9 186.6l0.3 0.7M185.3 76.1l0 0M170.2 148.3l-0.5 0.7M116.2 182.5l0.1 0M191.2 83.2l-0.1 0.5M188.1 127.8l0.5 0.1M130.1 79.4l0.1 0.2M128 170.2l0 0.2M183.4 128.8l0.2 0.2M133.7 46.8l0 0M22.7 81l0 0M118 165.3l0.2 0M98.4 76.9l0.8 0.3M184.5 67.5l1.3 0.8M100.3 55.2l1.3 0M136.3 126.3l0.8 0.4M40 55.8l0.1 0.1M119.6 116.6l-0.3 0.1M79.8 41l-1 0.6M126.8 47.3l0.7 0.1M115.1 13l-0.2 0.1M189.8 84.4l-0.7 0.2M103.4 128.7l0 0.8M124.5 123.4l0.2 1.5M178.7 140.2l0 0.1M35.8 128.5l0.6 0.3M24.1 122.9l0.6 0.3M146.2 26.9l-0.1 0.3M151.5 170.3l-0.4 0.8M166.9 119.4l-0.5 0.2M154.6 83.2l0.2 0.8M148.7 81.5l0.3 0M189.6 115.8l0 0.1M109.1 186.1l-0.1 0.1M97.3 152.8l0 0M82.4 49.5l-0.5 0.1M42.9 64.3l0.1 0M81.1 79.1l-0.2 0.2M139.6 141l-0.9 0.5M143.6 38.8l-1.2 0.2M67.4 62.2l0.5 0.5M58.6 40.6l0.5 0.4M168.9 111.7l0 0.5M47.8 54.3l-0.1 0.7M72.1 88.7l-1.3 0.2M89.1 165.8l0.1 0.5M121.1 129.4l0.1 0M141 164.1l-0.2 0.5M85.7 173.6l0.4 0.4M98 13.5l-0.5 0.4M92.2 161.5l-0.4 0.4M90.5 15.4l-0.8 0M84 78.7l0.1 0M46.3 61.5l-0.1 0.1M52.4 58.8l-0.4 0.6M28.8 69.8l-1 0.1M40.6 108.8l-0.2 0.1M125.9 138.8l0 0.3M195.5 99l-0.1 0M46.4 121.2l0.1 0.3M164.4 39.7l-0.7 0.5M36.6 49.9l0 0.2M96.1 183.7l0 1M95.8 147.7l0.1 0.3M61.8 125l-0.5 0.3M136.7 18.1l-0.1 0.5M68 167.1l0.7 0.7M160.7 36.4l0.1 0.4M52.2 140.2l-0.8 0.1M103.3 14.6l-0.2 0.1M93 188.2l1.3 0.1M152 176.9l-0.3 0M64.7 43.7l-0.7 0.2M80 48.7l-0.3 0.1M41.6 107.9l0 0M102.4 133.2l0 0M78.2 30.6l-0.1 0.4M107.5 44.7l0 0.8M172.6 150.2l0.3 0.3M111.5 61.1l-0.4 0.9M35.1 126.7l-1.8 1M125 22.8l0 0.3M128.2 148.9l-0.2 0M28.1 136.1l0 1.1M38.2 151.4l0.5 0.8M47.9 91.4l-0.4 0.3M174.2 103.6l0.5 0.5M48.4 141.6l0.2 0.9M74.8 27.5l0 0.3M105.6 187.5l0 0.1M102.1 27.8l0.3 0.1M193.5 114.4l0.1 0.3M181.7 106.7l1.1 0.2M115.6 179.8l0.2 0.2M35.4 97.1l0.4 0.1M134.4 166.9l0 0.1M58.7 45l-0.1 1.1M167.1 44.8l-0.5 0.5M89 54.7l0.6 0.6M52.4 54.1l0.1 0.6M112.3 176.9l0.3 0.4M37.8 124.4l-0.3 0.3M115.8 23.7l0.1 0.7M59.6 34l0 0.1M52.7 80.4l0 0.6M191.4 74.1l0.8 0.9M136 104.3l0.1 0.2M183 70.1l0 0.2M162.1 137.8l-0.3 0.2M97.6 138.8l0 0M54.3 68.9l-0.2 0M92.8 18.2l0 0.2M46 56.7l0.5 0.1M150.3 85.1l-0.1 0M45.8 80.3l0.1 1M83.2 133l0 0M47.3 91.2l-0.3 0.1M66.3 67.6l-0.5 0.2M110 176.4l0.3 0.2M100.3 41.6l0.2 0.4M124.8 128.8l-0.3 0.3M69.4 150.3l-0.9 1.1M153.8 28.4l0.1 0.2M36.2 53.9l0.5 0M109.4 18.5l-0.2 0.3M136.3 139.6l-0.5 0.1M55.5 117.9l-0.5 0.1M67.6 156.5l0.8 0.2M75.5 158.9l-0.8 1.2M68.4 25.2l0.1 0.1M180.5 140.8l0 0M87.5 97.9l-0.3 0.2M161.2 143.2l0.6 0.3M184.4 139.7l-0.6 0.7M73 75.5l0 0M85 109.1l-0.1 0.1M27.9 111.3l0 0.3M105.6 107.1l-0.2 0M169.7 41l0 0.1M73.5 27.3l-0.2 0.3M81.7 139.2l-0.1 0.7M179.8 127l0 0M35.8 111.4l-0.1 0M47.2 152l1.2 0.1M39 114.4l0 0.2M79.8 29.4l0 0.9M64 97.8l0.3 0.2M113.5 78.9l-0.5 0.9M125.7 140.3l0 0.9M57.7 113.5l0.2 0M76.7 61.3l-0.4 0.1M31 140.6l-0.3 0.3M105.4 71.6l-0.4 0.5M106.7 64.5l0 0M85.5 79.9l0.2 0.4M98.4 18.8l-0.1 0.2M110.7 113.2l1 0.6M97.8 120.8l-0.4 0.4M176 87.8l-0.4 0.9M139.8 42.7l-0.6 0M35.8 118.3l-0.2 0M95.8 184.1l0.4 0.8M178.7 113.8l-0.6 0.7M111.7 26l0 0.2M119.5 157.6l0 0.1M181.3 127.6l-0.8 0.4M126.9 15.7l-0.7 0.4M131.6 184.1l0 0.1M83.9 82.9l0.5 0.6M118.2 165.4l0.1 0.3M62.6 74.3l-0.3 0.3M129.4 175.6l-0.3 0.2M20.7 83.8l0.1 0.1M49 41.5l0.3 0.8M167.2 68.5l0.3 0.5M73.3 172.2l0.9 0M186.3 90.9l1.7 0.4M88.6 104l-0.5 0.1M91 127l-0.2 0.2M170.9 76.6l0.1 0M120.8 21.9l0.5 0.3M101.1 125.3l0 0M170.4 67.5l-0.1 0.3M75.6 124l-0.1 0.2M142 25.4l-0.4 0.9M112.2 115.2l-0.1 1.3M180.5 135.2l0 0M97.4 124.8l0.4 0.2M98.7 133l-0.6 0.2M112.6 130l1.4 1M139.3 167.1l0.4 0.2M116.6 148.8l-1 0.4M123.3 57.1l0.1 0.2M48.2 57.9l0.4 0.3M182.4 145l-1.2 0.2M151.4 158.8l0.7 0M66.8 137.2l0.5 0M61.5 116.2l-0.2 0.1M168.2 47.6l-0.5 0.5M72.9 146.8l0.8 0.5M30.5 143.5l-0.4 0.3M43.9 55.8l-0.2 0.3M172.3 64.3l-0.2 1.1M54.7 89.4l0.2 0.3M105.7 94.3l0.6 0.5M51.9 49.4l-0.2 0.3M194.1 86.2l0 0.7M23.5 97.3l0.1 0.6M138.5 26.1l0.2 0.2M116.8 186.1l0 0M30.1 107.9l-1.2 0.3M151.8 129.5l-0.3 0.7M108.2 46.6l-1 0.1M172.2 144.3l-0.7 0.1M102 67.1l-0.1 0.2M70 176.6l0.5 0.2M49.4 95.8l-0.1 1.2M137.5 25.4l0.4 0.8M79.5 102.2l-0.9 0.1M145.2 152.5l-0.4 0.3M83.4 90.7l-0.2 0.2M175.1 144.7l0.5 0.3M184.9 139.8l-0.1 0.3M180.8 59.8l-0.1 0.4M41.5 43.7l0.5 0.1M36.2 72.5l0.3 0.5M144.6 102.6l0.1 0M112.2 64.8l-0.3 0.8M130 124.7l0 0.2M75.3 54.5l0.3 0.7M122 157.3l0 0.1M149.3 31.1l0 0.4M53.9 70.8l0 0M106.2 157.2l0.2 0.2M28.8 60l-0.5 0.3M92.3 65.6l0 0.2M149.1 28.8l0.6 0M168.6 111.5l0.6 0.3M145.8 61.6l0 0M156.2 31.8l-0.2 0M94.4 44.6l-0.7 1.6M18.9 108.3l-0.2 0M43 45.9l-0.8 0.9M62.1 27.7l0 0.4M21.8 107.1l-1 0.6M73.4 127.2l0.4 0.1M38.7 149.9l0.3 0.1M102.8 153.9l0.7 0.2M73.6 117.4l-0.4 0.5M65.3 128.5l-0.4 0.4M167.7 133.7l-0.6 0.2M166.9 164.3l0.5 1M124.8 33l-0.4 0.3M113.1 72.4l-0.1 0.4M102.3 83.8l-0.6 0.8M66.8 171.4l0.7 0.2M96.2 37.4l-0.9 0.3M125.4 150.7l0 0.3M109.4 15.5l-0.8 0.9M101.1 25.9l-0.3 0.1M85.4 123.2l0 0M69.2 163.6l0.4 0.1M82.1 39.6l0 0.2M84.7 115l0.1 0.1M80.9 147.3l-0.9 0.8M170.8 144.4l0.3 0.6M49.6 44.8l0.1 0.9M188.4 120.1l0.2 0.3M119.7 147.4l-0.1 0.2M159.7 52.7l-0.2 0.1M141.6 52.4l-0.7 1.5M84.9 77l0.1 0.2M116.1 174.6l1.1 0M176.4 59.1l-0.2 0.2M88 169.8l-0.3 0.5M193.9 116.8l-0.4 0M51.8 65.7l-0.2 0.4M66.4 134.7l0.1 0M172.7 160.1l-0.8 0.7M84.8 60.7l0 0.1M194 118.6l0.3 0.3M180.5 139.6l1.4 0.6M111.9 115.7l0.1 0.1M56.3 31.6l-0.2 0.3M188 66.8l-0.4 0.3M121.4 40.5l-0.3 1.4M189.9 114.1l-0.4 0.6M28.7 109.5l-0.2 0.1M169.7 103.4l-1 0.5M161 105l-0.2 0.1M86.1 71.8l0.6 0.8M43.6 146.2l-0.1 1.4M102.8 33.4l0 0.1M132 68.1l-0.9 0.6M136.5 174.2l0.2 0.1M148.2 161l0.6 0.5M125.6 69l-0.8 1M47 81.4l-0.4 0.2M97.9 120.5l-0.3 0.1M193.4 111.2l0.1 0.4M167.8 127.1l-0.7 0.5M154.1 111.5l0.1 0M47.7 158.3l-0.1 0.1M110.9 158.4l0.1 0M44.2 112.9l-0.2 1M82.6 37.9l0.4 0.3M163.5 167l0.3 0.9M162.7 48.3l0 0.8M177.4 79.2l-0.5 0.7M59.2 49.7l-0.7 0.6M120.8 149.2l-0.5 0.1M20 106.1l0 0.3M129.3 123.4l0.4 1.3M23.5 127.5l0.3 0.2M81.1 45.5l0 0.1M47 139.1l0.6 0.6M38.5 61.5l-0.2 0M103.8 34l0.7 0.5M70.1 135.8l-0.7 0.3M89.8 95.6l-0.1 0.6M55.6 31.5l0 0.1M59.6 151.2l0.1 0.1M183.2 139.5l-1.4 0.7M134.3 39.5l0 0.1M151.1 24.5l-0.3 0.2M47.8 84.2l0.9 0.6M154.5 67.2l-0.5 0.5M48.5 132.4l-1 0.4M30.7 110.3l-0.6 1M150.3 130.2l0.2 0.2M106.3 170.7l-0.3 0.1M57.1 39.4l-0.3 0.5M130.2 183.4l-0.4 0.2M150.8 119.7l0.3 0.6M136.6 162.6l-0.1 0.7M27.5 95.1l-0.2 0.1M72.1 107.5l1 0.3M60.8 115l0 0.6M67.3 108.8l0.1 0.1M69.4 58.4l0.2 1M31.2 59.9l1.1 0.4M80.2 22l0 0.1M153.4 27l2 0.2M103.1 168.6l0 0.4M41 113.8l-0.1 0.4M50.1 72.4l0.4 0.1M86.9 158.7l1.3 1M151.4 47.9l0.1 0.3M159.5 158.4l-0.2 0.1M181.3 71.2l-0.3 0M78.4 101.8l-0.7 0.4M28.1 103.2l0.2 0.7M98 66.3l-1 0.4M109.3 123.5l0 0.8M87.9 157.1l-0.5 0.5M82.5 63l0.2 0.2M76.4 159.9l0.1 0.1M104.1 111.5l-0.8 1.8M176.3 117.4l0.9 1.3M182.7 109l0 0.1M142.8 68.7l-0.3 1.1M54 89.7l-0.5 0.7M44.8 69.3l-0.6 0.1M161.3 105.9l0 0M163 163.6l1.2 0.2M190.7 110.8l0.2 0.8M41.8 71.7l-0.2 0.2M29.5 117.8l0.3 0.5M136.4 96.9l0 0M60.1 123.9l-0.6 0.3M103 169.6l-0.1 0.4M43.2 128.7l0.1 0.6M100.8 151.3l0.1 0M49.4 166.2l0.1 0.2M100.1 153.4l-0.1 0M187.8 122.5l-0.1 0.2M74.1 140.6l-0.1 0.5M77.3 60.4l-0.8 0.3M22 111.5l0.1 0.4M48.5 140.2l-0.4 1.1M56.8 95l0.1 0.2M188.9 105.3l-0.1 0.1M174.2 154.3l1.8 0.6M136 73.1l-0.1 0.3M150.7 109.1l-1 0.5M21.4 81.1l-0.1 0M90.4 18.3l-0.2 0.1M24.8 68.8l0.4 1M144.1 84l-0.3 0.2M53 162.2l0.4 0.3M71.8 90.1l-0.2 0.5M188.9 133.4l-0.2 0.3M151.3 148.1l0.4 0.2M151.3 35.8l-0.1 0.1M63.3 132.1l-0.3 0.3M99.1 131l0.6 0.1M139.3 109.6l-0.3 0.2M61.8 157l0.1 0M69.1 21l0.1 0.1M115.3 34l-0.1 0M106.3 186l0.1 0.7M129.3 48l0.1 0.2M187 99.8l0 0.2M106.6 21.7l-0.3 0.3M80.6 25.8l0 0.5M164.6 154.9l-0.3 0.2M164.3 105.6l0.3 0.6M90.5 50.7l-0.4 0.1M183.4 98.3l-0.3 0.5M141.2 80.4l0 0.1M47.5 142.6l0.1 0.1M170.8 128.1l0.9 0.2M73.6 141.7l0.2 0.1M143.5 176.2l0.2 0.5M171.5 42.3l-0.3 0.2M70.9 23.7l0.1 0.1M156.1 112.2l-0.2 0.3M27.8 134.2l-0.3 0.3M149.8 82.5l0.4 1M73.5 172l0.8 0.4M82.2 160.1l0 0M99.6 12.8l0 0M115.6 34.5l-0.3 0.3M68.3 168.7l-0.3 0.1M45.1 112.8l-0.8 0.1M78.5 164.3l-1.1 0.6M135.4 162.5l0.1 0.4M173.1 159.5l0.1 0M93.4 129.7l0.3 0.8M87.8 122.4l-0.2 1.1M113.5 158.6l0.1 1.3M145.3 178.1l-1 0.7M33.2 83.2l0.5 1.2M179.5 138.4l-0.1 0M148.5 113.3l0.1 0.1M116.4 177.2l0.6 0.1M188.6 120.6l0.2 0.1M145.8 48.1l-0.4 0.3M117.1 122.1l-0.3 1.6M85.7 163.8l0 0.2M51.9 36.9l-1.5 1M88.8 60l0.2 0.2M116.9 86.1l0 0M179.3 61.9l0.3 0.3M126.2 33.7l0.4 0.3M83.7 57.4l-0.8 0.7M127.8 130.2l0.2 0.3M173.1 92l0.2 0M100.3 186.6l0.2 0.1M104 47.8l0 0.2M31 65.2l-0.2 0.3M145.5 176.8l0.5 0M78.1 137.8l-0.6 0.3M177.6 103l-0.1 0.8M120.9 115.5l-1 1.6M116.6 84.9l-1.1 0.6M97.2 181.6l0.5 0.2M172.4 43.5l0 0.4M151.6 114l-0.3 0.1M33.7 71.4l-0.1 0.6M30.2 125.4l-0.5 0M66.5 110.1l0.2 0.5M46.9 35.9l-0.6 0.8M96.1 183.4l0 0.1M61.6 80.9l0 0.4M73.8 62l0.1 0.1M63 125.3l1 0.3M138.4 160.8l0.1 0M60.5 27l0.9 0.3M55.6 93.6l0.3 0.1M88.5 52.5l0 0.3M79.1 19l-1.4 1.7M19.9 95.9l0 0M150.6 137.3l0.1 0.4M21.1 83l0.3 0.5M160.8 99.8l0.1 0.2M90.2 153l0.2 0.2M159.2 113.6l0.4 0.5M147.2 44.3l-0.9 0.8M189 109.8l0 0.6M127.9 142.4l-0.5 0M85.9 23.6l-0.2 0M163.5 150.8l1 0.1M155.4 67l-0.1 0.2M144.7 115l-0.7 0.4M118.4 27.8l-0.8 1M174.1 129.3l1 0.7M164.9 107.8l-0.3 0.1M152.2 100.6l-0.3 0.4M141.4 157.8l0.4 0.3M131 31.6l1.1 0.3M170.2 161l0 0M161.3 42.5l0.4 0.9M83.6 31.1l0.3 0.3M26.8 133.6l0.4 0.1M121.1 129l-1 0.5M165.9 51.4l0 1.1M72.6 138.5l-1.5 0.4M53.8 163.4l0 0M176.6 95.8l-0.2 0.4M96 42.6l0.2 0.4M125.7 22l-0.6 0.4M58.9 162.2l-0.4 0.3M178.5 111.6l-0.7 0.4M152.4 27.1l0.7 0.3M110.9 152.9l0 0.2M105.4 136.2l0.3 1.4M28 125.3l1.2 0.2M92 162.9l-0.1 0.1M81.2 88.5l0 0.2M33.9 141.7l-0.1 0.2M151.2 90.6l0 0.1M26.2 103.3l0 0M110.5 166l-0.4 0.4M49.7 104.5l0 0.6M142.8 106.4l0 0M24.9 84.9l0.4 0.5M155.8 31.6l-0.8 0.9M180.9 64l-0.3 0.4M29.3 78.3l-1.6 0.4M65.3 147l-0.3 0.1M142.7 54.4l-0.2 0.4M52.7 49.1l0.9 0M30.1 111.3l-0.2 0M187.4 85l0.4 0.3M133.2 163.9l-0.5 0.1M148.5 26.4l-0.6 0.5M117.2 88.9l0 0M175 69.6l-0.6 1.6M164.6 92.7l0.1 0.1M39.2 94.6l0.4 0.2M112 165.5l-0.1 0M96.6 178.4l0.3 0.4M32.5 145.3l0.4 0.3M131.1 35.1l-0.1 0.1M103.1 13.3l0.9 0.1M134.9 126.6l0.7 0.3M115.6 180.6l-0.6 0.6M32.6 52.9l-0.2 0M130.4 167.7l-0.4 0.7M84.5 163.2l-0.2 0.1M51.1 79.8l0 0.1M180.5 111.6l-0.4 0M42.3 74.9l0.5 0.5M125.8 99.2l0.5 0.4M30.1 138.4l-0.1 0.6M39 56.7l0 0.1M174.5 65.3l-0.6 0M138.3 26.6l-1 0.4M80.5 37.5l0 0M68.1 89l0.9 0.2M77.5 88.5l-0.1 0.1M90.2 15l0 0.6M54.7 121.5l-0.6 0.4M42.8 81.4l-0.3 0.2M106.4 97.8l1.2 0.5M133.5 116.2l0.2 1.1M153.1 53.9l0.1 0.1M132.5 128l-0.2 0.3M155.8 94.3l-0.5 0M29.6 57.8l-0.3 0M173.3 47.8l0 0.3M87.9 158.2l0.4 0.1M140.1 73.4l0 0.1M26.8 130l-0.1 0M58.4 37.9l0.2 0.1M75.3 175.6l-0.4 0.7M169.6 91.5l0.2 0.2M191.1 93.4l1 0.7M48.6 90.1l1 0.2M111.6 121.8l-0.6 0.2M136.2 179.3l0.3 0M54.3 103.9l0.4 0M166.2 104.3l0.5 0.5M89.5 30.9l-0.9 0.2M42.8 74.7l0.6 0.1M118.8 80.9l0 0M33.7 143l-0.8 0.2M115.1 38.8l0 0.1M86.8 34.7l1.2 0.9M89.7 187.1l0.4 0.3M129 51.1l0.1 0M72.9 35.5l0.2 0M119 60.4l0.3 0.9M188.3 92.4l-0.2 0.1M144.8 24.2l-0.3 0.2M135.7 84.2l0.5 0.3M59.7 167.8l0.3 1.1M31.6 147l0.3 0.3M136.9 172.2l0.4 0.3M104.5 30.5l0.7 0M25.2 81l-0.1 0M57.3 34.2l-1.5 0.3M175.1 144l-0.1 0.3M92.1 130.5l0.6 0.4M103.5 65.1l-1.2 0.2M115.9 92.8l1.4 0.8M35.6 60.1l0.9 0.2M109.9 13.8l-0.2 0.2M122 28.7l-0.3 2M43.9 102.9l-0.4 0.8M187.1 88.2l0.8 0.3M26.8 99l0.4 0M145.8 59.6l-0.1 0.2M52 149.3l0.2 0.5M19.1 103.9l-0.1 1.4M124.8 90.8l0 0M48.5 38.3l0 0.2M67.3 131.2l-0.6 0.1M54.3 39.4l0.2 0.6M79.8 93.7l-1 0.2M179.8 140.9l0.6 0M150.4 160.2l-1.1 0.9M142.2 74.2l0 0.2M55.7 172.9l0.9 1.6M128.6 100.8l0 0.1M128.8 175l0.2 0M91.7 133.1l0.6 0.2M37 147.5l0.2 0M118.8 72.7l-1 0.3M78 107l-1.1 0.3M109.3 18.3l0.3 0.3M44.5 72.5l0.5 0.5M193.9 109.3l-0.4 0.6M105.2 161.8l0 0M39.4 46.7l-0.5 1M130.6 34.2l-0.2 0.1M99.6 155.3l0 0.8M159.6 166.9l-0.1 0.4M65.7 37.3l-0.1 0.1M52.2 59.4l0 0M185.3 88.3l0 0.1M193.1 121.3l-0.3 0.1M67 28.4l-0.1 0.5M53.2 111.9l-0.2 0M68.8 161.9l0.2 0.2M39.7 46.4l-0.2 0.1M117.3 57.9l-0.2 0.2M122.1 39.4l0.1 0M93.6 77l0.9 0.6M120.6 92l0.9 0.2M110.8 17.6l-0.2 0.1M66.1 178.2l0 0.2M35.8 60.1l-0.4 0.4M169 52.7l0.4 0.3M128.2 186.5l-0.2 0.5M94.2 151.5l-0.1 0M83.4 122.1l-0.1 0.1M108.7 124.4l0.1 0.2M161.1 85.4l0 0M130 96l-0.4 0.3M124.4 32.3l-0.2 0.8M63.7 104.7l0.2 0.6M47.5 35.7l0.1 0.4M76.8 96l0.1 0.3M183.5 65.5l-0.6 0.2M190.3 88.4l0.2 0.5M147.6 157.8l0 0.2M51.9 62.3l0.4 0.6M172.1 88.1l0.2 0.1M53 36l0.1 0.1M113.1 137l0 0M133.7 62.6l-0.8 0.7M103.6 104.3l0 0.7M77.4 113.7l1.3 0.7M142.9 58.8l0.1 0.4M118.6 49.8l-0.4 0M123.9 165.9l0.1 0.8M118.8 39.2l-0.2 0.3M151.8 64.3l0 0.5M183.6 70.6l-0.1 0M70.9 103.3l0.5 1.2M106 141.8l-0.1 0.4M112.7 47.9l-0.3 0.4M129.8 24.4l0.3 0.1M98.1 173.7l0.6 0.1M182.8 138.6l-0.1 0M180.4 132.4l-0.1 0.1M119.6 163l-0.1 0.3M186.9 78.2l-0.5 1.5M151.5 175.9l-0.1 0.2M51.5 99.5l-0.3 0.3M33.6 144.6l0 0.2M32.5 114.9l0.6 0.3M71 51.4l0 0.1M146.3 137.7l-0.3 0.4M105.3 60.8l-0.2 0M59.2 112.9l0.1 0.1M154.2 160.3l0.5 0.2M101.2 143.5l-0.2 0M111.2 94.3l0 0.1M36.4 99.6l0.2 0M107.2 78.2l0.2 0.2M161.5 170.5l-1.3 0M149.3 90l0 0M81.4 92.7l0.2 0M171.3 90.5l0.1 0.5M49.4 80.5l1 1.2M59.6 75.3l-0.8 0M73.9 100.6l0.6 0.5M176 87.9l-0.5 0.4M77.3 172.8l0 0.1M51 68.4l-0.1 0.6M111.8 13l0.3 0.2M164.7 73.9l0.1 0M113.9 157.6l-0.6 0.1M144.3 155.6l0.3 0.1M48.7 98.8l-0.5 0M65.2 60.3l0 0.1M77.2 94.2l0.3 0M172.1 58.3l0.3 0.2M119.9 35.4l0.4 0M67.1 77.8l-0.5 0.2M86.2 153.3l0.7 1.3M95.3 111.5l-0.2 0.5M76.1 154.8l0.6 0.3M172.2 60.1l-0.3 0.3M122.2 16.6l0.2 0.1M39.8 92.8l-0.2 0.5M29.5 107.8l-0.3 0.4M111.7 26.7l0.3 0.2M32.2 76.5l-0.1 0.3M76.4 174.9l-0.4 0.2M175.3 93.1l0.4 0M170.1 48.1l0 0M68.3 61.5l0.4 0M121.2 25.7l1.4 0.7M80.2 137.7l0.3 0.2M103.4 147.1l0.7 0.2M73.9 121.2l0.3 0.1M135 127.6l-0.5 0.6M143.2 122.3l-1.6 0.6M176.1 140.6l0.1 0.4M68.1 153.4l-0.4 0.5M41 128.2l0.1 0.1M178.4 59.6l0.8 0.3M67 25.8l-0.1 0M177.5 129.2l-0.2 0.1M54.3 66l0.5 0.3M31.7 55.9l-0.2 0.1M52.2 58.2l-0.5 0.5M47 160.1l0.2 1.2M161.9 129.8l0.8 0.6M125.2 147.2l0.5 0.8M39.4 122.7l-1.2 0.3M179.9 59l-0.1 0.1M60.4 28.6l-0.9 0.7M109.9 144.9l0.1 0M179.6 104.6l-0.9 0.3M143.3 107.1l1 0.5M35.7 113.7l0 0.6M80.3 93.9l0.4 0.2M118 91.2l-0.3 0.6M74.6 46.5l-0.9 0.2M124.6 40.8l0.4 0.3M63.8 53.5l-0.1 0.3M101.5 63.5l-0.1 0.3M48.5 43.5l-0.3 1.1M169.7 75.5l0.3 0.3M84.8 146.7l0.1 0M31.2 72.8l-0.3 0.3M139.1 85.6l0.8 0.2M156.9 159.4l1.2 0.6M191.7 103.2l0.2 0.4M31.3 142.1l0.8 0.2M36.8 139.4l0.4 0M118.3 184.7l-0.1 0.4M42.8 55.6l-0.3 0.7M23.6 84.4l0.1 0M45.5 134.5l0.1 0.3M106.2 28.1l-0.3 0M57.8 154.3l-0.9 0.4M147.3 26.4l0 0M127.2 45.6l0.9 0.5M140 39.4l0.2 1.1M141.2 172.9l0 0.3M62.4 82.3l-0.8 0.5M102.4 163.2l0.2 0.3M109.4 50.3l-0.7 0.9M168.1 155.4l0.4 0.2M102.1 125.6l-0.6 0.7M133.2 52.3l0 0.1M45.2 41.2l-1.6 0.1M88.1 68.9l-0.4 0.6M62.1 104.9l0 0M66.9 81.5l0.3 0.2M56.5 171.4l0.1 0M21 93.8l0.1 0.2M34.7 85.6l-0.1 0.2M184.2 134.2l0.2 0.4M166.2 162.8l-0.8 1.3M170 152.2l-0.9 0.4M44.9 133.1l-0.2 0.2M156.4 30.7l0.5 0.7M195.8 101l0.2 0.4M37.4 49.9l-0.4 0.5" stroke="#6a647e" stroke-width="1.3" stroke-linecap="round" fill="none" opacity="0.55"/><path d="M107.6 27.8l0 0.2M79.6 38.7l0.4 0.1M185.5 74.5l0.4 0.9M43.1 121.3l0.2 0.4M193.8 102.4l0.4 0.6M90.7 124l0.3 1.3M57 158.8l-0.7 2M149.2 76.9l0 0.1M97.7 181.7l-0.4 0.8M118.4 16.7l0.3 0.6M64.9 154.9l0.5 0.2M20.2 85.6l0.2 0M122.9 23.2l-0.6 0.6M184.6 141.3l0.2 0.4M148.6 150.2l0.7 0.3M24.1 82.4l-0.1 0.3M195.7 102.3l-0.7 0.3M164.2 72l0.2 0.3M101.2 181.4l0 0M113.5 26.4l0 0.1M168.4 41.4l0 0.1M105.2 186l0.2 0.2M168 82.3l0 0.1M46 43.9l0.1 0M30.1 66.2l-0.5 0.4M28.6 120.1l0.1 0.3M167.5 154.4l-0.1 0.2M124.8 107.1l0.4 0.3M89.6 20.8l-0.2 0.4M167.3 74.5l0.1 0.2M35.8 151.4l0.1 0.9M62 140.5l0.4 0.8M49 112l-0.3 0.9M34.7 95.7l0.6 0.4M117.3 137.9l0.2 0.3M157.6 29.4l-0.8 0.1M161.1 35.2l-0.7 0.1M155.2 149.9l-0.3 0.2M163.8 69.5l0.2 0.6M27 124.1l-0.9 0.2M191.6 91.3l-0.3 0.2M57.4 172.9l-0.2 0M169.5 110l0.1 0.5M23.1 100.2l-0.4 0.2M86.4 67.7l0 0.2M103.6 149.3l0.2 0.5M35 150l0.4 0.8M139.5 47.2l1.3 1.1M59.5 85l-0.6 0.3M87.2 158.4l0.6 1.4M178.3 106.4l0.3 0.5M167.1 65.8l0 0.2M140.1 143.8l1.2 0.5M93.3 20.4l-0.6 0.7M167.8 39.6l-0.4 0.3M59.4 175.2l0.1 0.1M161.1 153.1l-1.1 1M110.1 188.3l-0.1 0.2M51.3 67.3l0 0.2M71.4 109.1l0 0.1M43.4 46.8l0.4 0M137.8 28l1.4 0.6M40 96.9l-0.5 0.6M159.3 100.5l-0.3 0.3M187.2 91l-0.3 0.8M87.7 21.8l0.1 0.3M191 81.8l-0.3 0.1M179.7 95.9l1 0.6M156 34.3l0.1 1.1M135 172.4l0 0.5M22 94.6l-0.5 0.3M113.1 29.4l0.3 0.3M61.4 74.9l-0.2 0.3M26.7 137.2l0.2 0M77.2 83.3l-0.4 0.3M94.2 90.6l-0.2 0M179.6 95.3l-0.1 0.1M149 145.9l0.1 0M186.3 61.3l0 0.2M89.9 56l0.5 1.2M43.9 67.9l0.3 0.5M143 60.8l0 0.1M85 174.6l0.5 0.2M127.7 17.6l0 0.2M57.7 38.1l0 0.2M147.4 117.4l0.2 0.1M130.6 30.2l0.1 0.4M174.2 45.5l0 0M98.1 15.7l0.2 0.5M117.8 19l0 0M146.9 105.2l-1 0.8M87.4 15.8l0.5 0M96.5 187l0.1 1.2M109.3 12.9l-0.6 0.7M140.2 22.9l-0.2 0.1M173.4 80.8l-0.1 0.6M65.5 64.2l0.4 0.2M25.7 130.5l-0.2 0.9M195.1 93.7l0.4 0.3M87 41.4l-0.4 0.3M102.3 94.5l0.6 0.6M150.6 32.4l0.7 0.2M124.5 148.9l0.5 1.2M149.9 89.7l-0.1 0.7M153.3 103.4l1.2 0.3M134.7 76.5l-1.7 0M179.7 53.7l0.3 0.8M87 21.1l-0.9 0.9M181.6 61.4l0.7 0.5M101.6 109.6l-0.3 0M69.1 103l-0.2 1.6M183.9 66.2l0.3 1.2M87.4 16.1l0.4 0.3M137.9 46.3l0.4 0.6M66.1 57.2l0.3 0.5M143.1 32.6l0.9 0.2M137.5 98.6l1.4 0.8M117.6 65.9l-0.6 1M148.2 80.9l1 0.3M170.3 50.4l-1 0.9M117 139.2l0.1 0.3M179.9 112l0.2 0.3M117.7 167.4l0.1 0.2M60.1 110.8l0.1 0M23 80.3l0 0.1M104.6 128.7l0.2 0.2M189 83.3l0.7 0.6M25.5 113.1l0.2 0.2M157.2 125.6l-0.5 0.5M47.3 163.2l-0.2 0.3M132.5 77.6l-0.2 0.2M169.2 54.2l0.5 0.1M30.7 61.8l-0.4 0.3M40.6 43.7l0.2 0M167.9 36.6l-0.9 0.8M81.1 168.8l0 0M127.6 22.6l0.5 0.6M29.3 86.2l-0.3 0.2M166.6 122.6l0.3 0M158.9 40.3l-0.7 0.1M133.7 24.7l-0.6 0.2M23.9 92.3l-0.5 1.2M144.8 163.2l0.1 0M106 144.2l0.5 0.7M33.3 148.1l-0.5 0.7M178.3 153.8l0 0M182.6 140l0.4 1M77.2 151.2l-0.2 0.2M173.2 61.9l0 0.2M190.9 115.1l0.3 0.1M45.7 133.3l0.4 0.7M80.6 80.8l0 0.3M22.7 121.5l-0.4 0.7M93 150.3l-0.1 0.1M144.2 42.8l-0.2 0.5M83.5 130.9l0 0.6M145 129.4l-0.6 0M184 139.6l0.2 0.1M53.8 41.1l0.3 0.5M89.7 58.6l-0.5 0.8M131.7 20.8l-0.1 0.3M113.1 14.7l0.9 0.8M26.6 125.5l0 1M105.9 13.2l-0.9 0.5M175 155.4l0.1 0.1M41.7 42.1l1 0.5M60.7 167.5l0.9 0.3M75 109.3l0.1 0.4M102.2 149.3l0 0.5M64.1 123.9l-0.1 0.1M183.9 62.7l0 0M111.7 15.2l0 0.1M37 56.4l0.7 0.3M191.6 121.6l-0.1 0M78 19.4l-0.3 0.3M155.4 110.3l-0.8 0.7M97.3 114.9l0.6 0.8M147.5 154.4l0.2 0.1M106.9 14.9l0 0.2M38.1 52.5l-0.2 0.2M81.8 126.9l-0.9 0.1M62.8 100.5l0.5 0.3M181.6 137.8l-0.6 0.7M191.9 123.1l0.1 0M83 149.8l0.1 0M27.2 111.8l1 0.1M39.8 47.1l-0.6 0M134 46.1l-0.5 0.5M149.2 94.4l-0.1 0.5M51 89.5l-0.3 0.9M56.9 102.8l0.7 0.2M34.9 131.5l-0.6 0.1M179.6 53.8l-0.1 0.1M43.7 90l0.2 0M67.8 132.7l-0.2 0.3M155.2 104.3l0.2 0.5M184 85.5l-0.2 0.9M33.3 88.9l0.1 0.2M20.7 99.1l-1.2 0.8M121.8 70.5l0.4 0.8M63.1 30.1l0.4 0.2M189.1 72l0.9 0M32 97.9l0.1 0.3M181.4 149.2l-1.1 1.2M54.8 55.7l0.6 0.9M166.9 39.3l-0.2 0.4M93.1 53.3l0.4 0.1M49 37.7l0.5 0.5M179.9 52.9l0 0M180.2 71.3l0.8 1M85.5 121.6l0.2 0.3M30.5 142.6l-0.1 0.2M59.3 27.7l0.3 1.5M24.3 121.9l0 0M113.3 101.4l0.6 0.3M123.4 88.6l0.2 0M153.4 116.5l-0.1 0.1M185.5 60.2l0 0.4M192.9 103.6l0.3 0.1M186.5 133.9l0.2 1M145.6 124.4l0.9 0.7M169.9 118.4l-0.8 0.4M164 60.6l-0.3 0.4M121.5 168.1l-0.7 0.1M53.2 127l0 0M33.8 106l0.5 0.5M141.7 77.7l1.1 0.6M153.3 49.8l0.2 0.3M28.9 72.5l-0.1 0.1M80.2 106.7l0.2 0M163.2 136.4l-0.3 0.7M141.8 179.5l0.1 0.2M114.8 27.6l0.5 0.1M145.9 174.2l0 0.1M36.2 124.2l-0.6 1M32.5 136.7l0 0.1M52.5 100.3l-0.5 1.1M20.3 100l0.3 0.1M121.1 102.6l0.5 0.7M59 134.3l-0.1 0.2M130.6 77.6l-0.9 0.3M177.9 54.6l-1.6 0.3M78.9 176.2l-0.5 0.2M62.6 30.2l-0.3 0.1M48.7 162.1l-0.2 0.1M75.8 22.6l0 0M71.5 115l-0.1 0.2M72 25.4l0.5 0.2M179.9 150.4l0.2 0.5M73.3 24.1l0.1 0.1M151.5 129.3l0.8 0M42.9 43.4l0.1 0.3M88 39.5l0.4 0.7M77.9 84.6l-0.1 0.6M148.3 141.4l-1.3 0.3M23.2 114.2l-0.1 0M168.5 56.8l-0.3 0.3M43.5 50l-0.7 0.3M149 110.7l-0.1 0M27.9 123.5l-0.2 0.2M164.3 38.3l-0.5 0M24.3 76.5l0.4 0.1M120.6 24.2l-0.4 0M190.2 81.6l0.3 0.6M102.1 19.6l-0.1 0.1M181 51.8l0.3 0.2M22.8 74.2l-0.8 0.3M19.8 100.6l0.3 0.3M159.7 126l0 0M164.1 56.4l1 0.5M22.5 81.4l0 0.1M36.7 81.5l0.7 0M150.8 28.9l0.4 0.4M74.8 147.5l-1 0.3M101.5 188.1l0.6 0M40.5 152.8l-0.6 0.1M185.7 60.5l0.1 0.1M65 64.1l-0.4 0.3M51.6 33l0.1 0.6M131.3 106.2l-2.2 0.8M85.1 85.6l0.1 0.2M22.7 114.4l1.3 0.2M64.2 177.9l-0.1 0M82.6 16.1l-0.4 1.6M160.5 75.5l-0.2 1.8M155.4 130.9l-0.2 0.7M97.7 51.8l0.9 1M129.6 152.4l0.9 0.4M189 88.4l-0.6 0.2M75 157.8l0 0.1M82.5 44.9l0 0.6M61.8 109.4l-0.5 1.4M61.7 31.1l0.3 0.1M149.2 26.6l0.3 0.1M113.1 178.7l0 0.8M173 44.2l0.2 1.1M28.1 139.6l0.3 0.5M28.1 64.4l-1.4 0.8M23 120l-0.2 0.2M160.3 136.6l0.8 0.3M87.5 40.5l-0.1 0.3M38.7 155.4l0.1 0M178.8 59.3l0.5 0.5M142 175.1l-0.7 0.1M32.1 146.2l-0.3 0.2M150.9 152.6l-0.7 0.7M73.1 64.3l0.1 0.4M193.5 87.3l-1.1 0.1M128.7 82l0.4 0.2M141.9 129.8l1.4 0.2M154.8 29.2l1.3 0.1M29.5 64.8l-1.2 0M188.2 108.7l-0.3 0.1M80.8 106.6l0 0.3M174.5 152.8l-0.6 0M35.9 52.8l1.5 0.4M86.9 90.5l0.2 0.2M35.4 141.7l-0.3 0M122.2 135.8l0.1 0M62.4 25.3l0.2 0.1" stroke="#5e4f8e" stroke-width="1.8" stroke-linecap="round" fill="none" opacity="0.7"/><path d="M25.6 128.6l-0.7 0.6M66.3 130.5l-0.2 0.3M189.7 103.6l0.2 0.4M71.5 152.5l0.2 0.1M187.7 133.4l0.5 0.2M149.7 156.4l0 0.3M125.8 168.4l1.4 0.7M21.8 101.7l0 2M189.3 117.6l-0.9 0M192.4 88.7l0 0M162.8 41.2l-0.3 0.2M153.9 29.2l0.4 0.8M123.9 179.8l0.2 0.1M117.9 18.1l-0.8 0.2M25.8 125.7l0.5 0M175.7 103.8l0.1 0M192.9 102.1l0.7 0.7M127.2 145.8l0.3 0.2M23.1 125.7l0.3 0M91.5 31.2l-0.1 0M57.6 79.1l0.2 1.3M126.6 178.6l1.3 1.3M127.8 19.8l-0.1 0.7M81 173.5l-0.4 0.6M174.3 99.5l-2 1.7M186.9 85.9l0.7 1.4M156.9 138.6l-0.4 0.2M144.7 110.1l0.1 0.5M109.5 170.3l-0.2 0.1M46.2 96.6l0.1 0.4" stroke="#563f90" stroke-width="2.4" stroke-linecap="round" fill="none" opacity="0.75"/><path d="M176.5 149l-0.5 -0.2M171 153.5l0 1M148 131l0.5 -0.2M144.5 128l-0.4 0.5M52.5 76l0.3 0.9M61 155l0.8 -0.9M112 124l0.8 -0.8M125 124l-0.4 -0.4M130 47l-0.5 -0.2M152 134l-0.6 0M118 121l-0.5 0.1" stroke="#523a8e" stroke-width="3" stroke-linecap="round" fill="none" opacity="0.8"/></g></g><path d="M206.4 103.9A99.2 99.2 0 0 1 50.4 188.7" fill="none" stroke="#eeeeee" stroke-width="2" stroke-linecap="round" opacity="0.9" filter="url(#bl05)"/><path d="M208.7 107.4A101.4 101.4 0 0 1 56.6 195.2" fill="none" stroke="#8e8e90" stroke-width="1" stroke-linecap="round" opacity="0.6" filter="url(#bl05)"/><path d="M197 140.1A95.5 95.5 0 0 1 90.7 201.4" fill="none" stroke="#d9d9dc" stroke-width="1.3" stroke-linecap="round" opacity="0.6" filter="url(#bl05)"/><path d="M57.6 193.6A99.5 99.5 0 0 1 7.9 110.9" fill="none" stroke="#dcdcdf" stroke-width="2.4" stroke-linecap="round" opacity="0.75" filter="url(#bl07)"/><path d="M23.7 51A100.8 100.8 0 0 1 56.9 20.1" fill="none" stroke="#d6dae8" stroke-width="1.1" stroke-linecap="round" opacity="0.9" filter="url(#bl05)"/><path d="M13.2 120.6A95 95 0 0 1 13.7 90.9" fill="none" stroke="#e6e5f2" stroke-width="3.5" stroke-linecap="round" opacity="0.7" filter="url(#bl1)"/><path d="M107 190v16" fill="none" stroke="#e2e1e4" stroke-width="3.5" stroke-linecap="round" opacity="0.8" filter="url(#bl1)"/><rect width="208.9" height="209.1" filter="url(#grain)" opacity="0.12" style="mix-blend-mode:soft-light"/></g>
<g transform="translate(1476.5 104.8)" clip-path="url(#pclip1)"><rect width="209.5" height="209.1" fill="url(#pbg1)"/><ellipse cx="104" cy="-3" rx="44" ry="6.5" fill="#8a8399" opacity="0.85" filter="url(#bl1)"/><circle cx="104.7" cy="104.9" r="103.6" fill="url(#pwall1)"/><g clip-path="url(#pout1)"><path d="M14.5 137.7A96 96 0 0 1 152.7 21.8" fill="none" stroke="#9895b6" stroke-width="11" opacity="0.6" filter="url(#bl2)"/><path d="M153.2 20.9A97 97 0 0 1 195.9 138.1" fill="none" stroke="#a19fb4" stroke-width="8" opacity="0.45" filter="url(#bl2)"/><path d="M195.9 138.1A97 97 0 0 1 13.5 138.1" fill="none" stroke="#abaab2" stroke-width="9" opacity="0.8" filter="url(#bl2)"/></g><g clip-path="url(#pfl1)"><circle cx="108" cy="106.6" r="90.5" fill="#a4a3ac"/><g filter="url(#bl8)"><ellipse cx="75" cy="68" rx="24" ry="14" transform="rotate(35 75 68)" fill="#c6c9d8" opacity="0.9"/><ellipse cx="60" cy="60" rx="30" ry="20" transform="rotate(30 60 60)" fill="#b8bbca" opacity="0.5"/><ellipse cx="35" cy="110" rx="14" ry="30" transform="rotate(0 35 110)" fill="#b8b8c6" opacity="0.6"/><ellipse cx="170" cy="158" rx="22" ry="18" transform="rotate(0 170 158)" fill="#b6b6c3" opacity="0.7"/><ellipse cx="44" cy="141" rx="30" ry="20" transform="rotate(-20 44 141)" fill="#8b8990" opacity="0.85"/><ellipse cx="122" cy="115" rx="34" ry="20" transform="rotate(20 122 115)" fill="#8f8c92" opacity="0.8"/><ellipse cx="166" cy="72" rx="22" ry="26" transform="rotate(0 166 72)" fill="#9c9594" opacity="0.7"/><ellipse cx="88" cy="172" rx="30" ry="12" transform="rotate(0 88 172)" fill="#908e95" opacity="0.75"/><ellipse cx="120" cy="60" rx="26" ry="14" transform="rotate(0 120 60)" fill="#aeaeba" opacity="0.5"/><ellipse cx="130" cy="160" rx="24" ry="12" transform="rotate(0 130 160)" fill="#b0b0bc" opacity="0.5"/></g><path d="M32.2 150.3A87.5 87.5 0 1 1 151.7 182.4" fill="none" stroke="#9a84ae" stroke-width="4" opacity="0.4" filter="url(#bl2)"/></g><g clip-path="url(#pout1)"><g filter="url(#bl06)"><path d="M182.7 68.4l0.2 0.8M25.6 90.8l0.1 0.5M193.5 120l-0.5 0.5M54.6 172l-0.3 0.8M185.2 92.3l0.2 0.5M59.1 82.8l-0.4 0.5M46.4 67.2l0.3 0.2M143.1 179.4l0.1 0M175.7 123.5l-0.3 0.2M82.5 152.4l-0.1 0.4M95.1 60l-0.4 1.4M190 77.3l0.4 0.1M34.9 149.1l-0.8 0.6M191.1 78.9l0 0M86.5 127.6l0.1 0.6M136.3 188l0 0.1M147 177.3l0.2 0.2M52.7 136.2l-0.7 0.4M156.1 69.4l-0.7 1M131.3 64.1l-0.2 0.1M31.9 78.1l0.7 0.2M61.1 55.9l-0.3 0M168 138.9l0.3 0.3M49.5 83.1l0 0M127.4 21.3l0.3 0.2M78.6 116.3l-0.6 0.8M40.5 115.1l0.5 0.6M176.7 55.9l-0.4 0.3M83.6 59.9l0.3 0.5M57.4 176.8l0.1 0.4M135.9 43.7l0.4 0.4M24.7 105.3l0.1 0.6M159.8 42.6l0.4 0.4M131.5 104l0.1 0.2M127.6 132.3l-0.4 0.4M66.2 138.8l-0.6 1.2M148.9 180.7l0.6 0.4M146.4 111.2l-0.1 0.1M34.6 72.2l-0.2 0.7M76 85.9l0.9 0.7M43.4 138.7l-0.1 0.8M144.5 62l-0.7 0.2M74.9 187.4l-0.9 0.1M162.4 164l0 0.1M97 39.7l0.1 0.1M36.8 153.8l-0.2 0.7M61.3 134.5l0.3 0.2M145.8 28.5l-0.1 0.7M56.8 56.6l-0.8 1.5M36 140.3l0.5 0.1M193.1 125.1l-0.3 0.3M94.9 57.1l0.5 0.1M50 70.8l0.8 0.3M143.9 122.8l-0.1 0.4M108.1 39l0.4 0.3M78.8 148.3l0 0.2M129.9 22.8l0.8 0.1M129.1 25l-0.6 0.1M68 37l-0.3 0.2M184.8 148.4l-0.1 0.3M38.4 101.5l-1.7 0M80.9 70.9l0.1 0M127.9 64.5l1.1 0.2M62.1 31.6l0 0M35.4 72.8l-0.2 0.1M67.5 159.5l-0.3 0.1M81.4 122.5l-0.2 0.5M147.7 36.8l-0.7 0.6M153.8 164.1l0.2 0.9M40.9 103.7l-0.9 0.2M123.8 58.4l-0.1 0.2M146.2 29.3l0 0.3M66.7 158l-0.2 0M118.1 19.3l0.1 0.7M134.5 148l-0.9 0M114.5 66.9l0 0.2M67 58.9l1 1.1M102.2 27.5l0.3 0.5M162.2 142.2l-0.1 0.2M77.7 136.4l-0.6 0.3M184.4 78.8l0.9 0.3M100.2 34.6l-0.7 1.5M183.4 68.2l-0.8 0.1M60.6 52.2l-0.2 0M50.3 148.3l0.5 0.2M161.2 110.2l0.4 0.1M23.1 114.4l-0.2 0.1M116.7 167.6l0.4 0.1M73.2 70.9l-0.3 0.1M194.1 91.9l-0.3 0.3M106.6 50.5l0 0M86.3 93.2l-0.3 0.3M170.6 162.9l-0.5 0.2M56.7 172.6l-0.3 0.3M38.7 126.3l-0.7 0.4M114 28.9l-0.1 0.1M125.7 26.6l-0.7 0.4M84.9 100.5l-1.1 0.3M135.6 67.7l-0.1 0.1M95.6 87.9l0.6 0.2M186.3 101.6l-0.5 0.4M106.4 148.9l-0.4 0.3M152.2 146l0.5 0M39 152.5l0.4 0.4M111.4 159.3l1 0.7M146 129.3l0 0.2M109.8 114.2l0 0.1M101.6 23.5l-0.1 0.3M152.7 131.1l0 0M137.4 186.1l-0.2 0.1M42.7 94.8l-0.2 0.1M192 131.5l0 0.1M157 38.8l0.3 0M109.7 38.1l-0.6 0.3M121.5 77.7l-0.9 0.7M138.2 61.4l0.5 0.8M118.9 59.2l-0.1 0M164.3 127l-0.9 0.3M113.7 141.2l0.8 0.1M104.6 139.4l-0.4 0.3M178.6 56.4l0.4 0.1M106.6 56.5l-0.3 0.1M123.9 23.8l-0.4 0.4M147.4 95.7l0 0M62.5 96l0.1 0.1M40.1 124.3l0.9 0.6M134.6 30.3l0.1 0.4M31.3 86l-0.2 0.1M64.1 176.5l0.5 0.9M168.1 45.4l-0.5 1.3M114.7 127.6l-0.3 0.3M117.8 60.5l0 0.4M66.1 169.4l0.1 0.1M66 181.4l0.2 0.3M75.8 181l0.4 0.3M94.4 38.2l0.8 0.5M48.7 53.6l0 0M72 130.1l-0.2 0.3M134.8 124.1l0 0M60.2 60.4l0.4 1M175.7 62.7l-0.2 0.3M110.7 66.7l0.1 0.6M93.1 139.3l0 0M179.9 115.1l0.4 0.1M182.3 82.6l0.4 0M105.4 124.2l-0.4 0.9M42.5 64.3l0.1 0M114.1 171.7l-0.4 0.4M146.8 64.1l0.1 0.3M150.8 68.9l-0.1 0M110.5 55.9l-0.4 0.2M31.5 100.4l0.7 0.6M44.6 72.6l0.5 1M122.5 50l-0.6 2.1M114.8 168.7l0.2 0.1M68.1 52.4l0.1 0.8M157.6 51.6l0.2 0.7M95.5 80.5l0 0M187.5 134.4l0.4 0.3M113.6 158.9l0 0M183 136.7l0.3 0.7M188.1 92.8l-0.5 0.3M185.4 125.9l1.1 0.3M164.2 83.5l-0.8 0.5M65.6 97l0 0.1M180 151.1l0.4 0.7M159.9 112.5l0.2 0.1M82.7 99.9l1.2 1.1M81.4 65.1l-0.1 0.8M101.9 169.6l-0.5 0M119.1 19.4l0.1 0.1M157.9 39l1.2 0.6M45.4 155.5l-0.4 0.2M135.9 138.4l0.3 0.1M81 186.6l-0.1 0.1M111.7 51.9l0.4 0M104 131.8l0 0.3M110.6 129l0.1 1.1M118.5 119.9l-0.1 0M142.4 31.2l0.1 0.7M37 64.7l0.4 0.6M37.5 78.1l0.2 0.5M148.4 103l-0.2 0.7M95.8 191.7l-0.1 0.2M33.8 82.1l0 0.5M159.3 177.7l-1 0.5M167.9 65l-0.1 0.9M66.7 158.1l0.7 0.1M142.1 26.8l0.1 0.7M39.6 133.8l0.1 0.1M155.2 149.1l-0.2 0.1M148.4 110.2l-0.1 0M40.4 71.8l-1 0.1M168.2 47.5l-0.1 0.3M51.3 103.3l-0.4 0.1M96.9 146.3l0 0.1M187.8 117l-0.3 0.2M64.9 174.7l-0.4 0.4M86.9 151.8l0.6 0.5M64 102.9l0.1 0.1M152.9 173.6l0 0.1M89.6 83.2l0 0M79.8 177.3l1 0.6M56.1 151.1l0.1 0.2M145.8 86.6l-0.3 0.2M62.7 62l0.6 0.7M46.7 130.3l0.1 0.4M64.8 164.2l0.1 0M51.9 150.2l0.3 0.2M21 104.2l0.1 0.2M81.7 65.6l-0.3 0.4M23.3 90.7l0 0.3M69.7 117.3l0.2 0.1M97 73.6l0.4 0M114.4 126.5l-0.1 0.1M135.3 30.6l0 0M120.9 25.3l-0.3 0.1M105.9 184.2l0 0M28.6 120.1l0 0.8M158.9 61.5l-0.3 0.2M151.1 164.6l0 0.2M107 28l0.9 0.9M104.4 181.3l0.8 0.3M121.8 111.8l0 0M151.3 53.6l-0.5 0.6M22.9 85.8l-0.1 0.1M85 190.3l0 1.8M90.9 144.9l0 0.2M174.7 162.5l0.1 0.4M147 73.4l0 0M159 67.2l-0.4 0.1M98.9 171.2l-0.4 0.3M108.9 99.9l0.4 0.2M120.4 142.1l1.3 0.6M44.1 105.8l-0.9 0.5M172.8 95.4l0.3 0M84.2 189.7l0 0M31.3 147.7l0.2 0.3M81.3 26.5l-0.3 1.2M96.8 48.2l0 0M56.6 58l0 0.5M87.3 125.7l0.6 0.1M150.9 170.2l-1.3 0.4M80.3 38.4l1.2 0.3M164.2 107.5l-0.2 0.3M172.4 87.2l-0.3 0.4M115.1 111.3l0.3 0.8M153.9 37.8l0.1 0.5M61.8 112.9l0.2 0.5M22.8 117.8l0.1 0M139.2 178.6l-1 0.6M45.1 133.6l-0.1 0M156.8 37.8l-1 0.2M69.7 135.8l-0.4 0.4M146 37.7l1.3 0.1M54.7 107.2l-0.1 0M78.3 54l0 0M39.3 83.5l0.1 0M127 110.5l-0.9 0.2M115.9 159.9l-0.1 0.1M129.5 152.6l-0.6 0M178.5 56.5l-0.1 0.3M120.6 158.7l0.1 0.1M60.4 77.8l-0.3 0.2M99.9 140.8l0.4 0M108.3 160.7l-0.5 0.8M111.1 164.1l-0.2 0.7M63.3 160.5l0.4 0.1M102.1 191.6l0 0M184.8 144.3l0.5 0.1M20.6 108.7l-0.5 0M33.4 105.2l1.2 0.1M140.9 164.8l-0.2 0.2M68.9 76.2l-0.2 0.1M29 104.6l0.2 0.5M102.6 40.3l0.1 0.8M128.2 186.6l0.1 0.1M61.9 132.8l1 0.3M50.5 100.6l0.5 0.2M48.1 61.7l0.1 0.6M54.8 43l0.5 0.3M142 26.2l-0.2 0M116.8 117l0.2 0.5M180.9 144.2l-0.5 1.5M147.4 97.4l-0.1 0.2M125.9 75.9l0 0M64.6 105.5l-0.2 0.3M180.7 152.2l0 0.4M26.1 117.5l0.4 0.5M96.2 173l0 0.1M56.7 63.5l-0.4 0.9M193.7 96.5l0.1 0.3M110 182.5l0.2 0.2M49 120.8l0.6 1.3M62.9 176.9l-0.1 0M165.6 123.8l-0.1 0M59.6 159.3l0.7 0.7M75.4 32.4l0.5 0.2M75.1 137.8l0.8 0.5M51.8 163.3l0 0.2M46.7 44.2l0.1 0.6M53.9 59.8l1 0.9M92.4 157.2l-0.1 0M45.2 124l0.7 0.1M43.6 115l0.2 0.6M105.3 102.1l0.3 0.7M124.9 146.1l0.1 0.1M77.8 163.9l0.2 0.2M144.9 30.6l0 0M148.2 42.5l-0.1 0.3M160.2 58.8l-0.2 0.1M57.2 140.3l-1 0.5M136.6 44.7l0.9 0.7M21.5 117.3l-0.1 0.1M111.6 45l0.4 0.1M38.9 143.8l0 0.2M97.8 26.6l-0.2 0M96.3 128.2l-0.6 0.5M104.4 113.6l-0.3 1.5M155.3 125.6l-0.8 0.6M43.1 92.2l0.8 0.7M26 80.8l0 0M161.3 86.8l0.1 0.5M138.5 43l0.8 0M146.9 182.3l-0.1 0.5M76.9 58.3l-1 0.3M106.3 169.1l-0.4 0.4M159.6 53l0.3 0.1M177.3 116l0.2 0M164.1 56.3l0 0M71.1 170.4l-0.2 0.6M85.4 151l0.6 0.1M58.1 172.9l0.1 0.2M121.5 127.6l-0.2 0.3M111.4 50.4l0 0M32.1 99.8l-0.3 0.2M171.1 111l1.7 0.3M89.3 109.8l0.4 0.5M157 51.1l0.4 0.9M160.3 112.4l-0.2 1M138.3 182.1l-0.4 0.1M63.3 180.8l-0.4 0.3M62.5 41l0.3 0.6M116.9 160.3l-0.3 0.2M62.8 48.1l-0.1 0.1M63.8 121.9l-0.7 1.2M66.9 60.1l-0.1 1.2M167.7 122.2l-0.1 1.4M162.5 112.1l0 0.9M182 106.9l-0.2 0.3M158.5 172.7l0.3 0.5M174.8 62.2l-1.1 0.1M60.5 41.4l-0.2 0.3M132.1 120.5l-0.6 0.1M74 42l0.1 0.7M142.9 129.9l0.4 0.3M79.3 160.1l0.2 0.3M134.3 164.2l-0.5 0.7M150.5 114.3l0.2 0.4M123.9 20.7l0.1 0M146.8 67.6l-0.3 0.4M73 170.2l-0.2 0.1M69.6 183.7l0.2 1.1M60.6 37.8l-0.6 0.3M178.3 131.4l-0.2 0.4M29.3 137.4l0.1 0.4M193 111.5l0.7 0.3M73.2 117.4l0.6 0.5M55.8 174.7l-0.1 0.2M144.7 30.8l0.6 0.4M66.7 177.3l-0.1 0.1M181.6 79l-0.1 0.2M170.3 166.1l0.1 0.3M71.7 44.7l-0.9 0.7M86.6 131.5l-0.3 0.7M110.6 142.8l-0.8 1.2M45.5 48.1l0 0M36.1 60l-0.2 1.1M141.7 50l0.5 0.4M180.5 102.5l0.2 0M117.9 66.6l0.2 0.3M47.8 50.5l-0.3 0.3M74.5 126.3l0 0M155.5 153.7l-0.2 0.3M115.4 122.3l0.2 0.2M146.9 158.8l0 0M133.3 116.4l0.4 0.7M130.9 91.6l0 0.1M156.1 172l0 0M139.9 89l-0.2 0.2M163.1 44.4l-0.2 0.6M158.6 117.9l1 0.4M181.7 145.8l0 0M130.7 82.4l0.6 0M171.3 156.9l-1 0.3M84.6 182.6l0 0M128.3 155.2l-0.1 0.1M72.4 29.9l0 0M108.3 180.2l0.1 0M86.7 83.3l-0.6 1.2M40.2 161.8l0 0M173.5 132.7l-0.2 1M73.7 113.5l0 0.4M78.7 165.3l-1.2 0M65.2 29.7l0.2 0M182.4 83.4l0.1 0.1M115.9 137.3l0 0.2M41.1 131.8l0.2 0.1M141.6 69.9l-0.1 0.5M28.1 120.4l0.1 0.1M89.1 154.5l0.5 0.4M178.4 82.1l-0.5 0.6M169.1 105.2l0.1 0.7M122.1 181.9l-0.5 0.8M169.5 144.3l0.4 0.1M95.7 39.2l-0.3 0.3M90.6 138.2l-0.8 0.5M47.8 77.7l-0.6 0.4M142.4 127.1l-0.5 0.6M80.4 181l0 0.1M186.4 105.2l-0.9 0.1M41.9 77.1l0.8 1.2M151.9 146.2l-0.8 0.2M68.7 54.7l-0.1 0.1M69 62.8l0 0.1M120.2 122.6l-0.6 0.8M119.1 89.5l0.3 0.1M45.6 53.6l-0.3 0.2M107.2 159.3l0.7 0M60.5 63.2l0.7 0.6M127.5 167.5l-0.2 0.1M27 109.4l-0.9 0.4M68.8 115l0.7 0.7M74.1 97.7l1 1.1M32.5 145.6l-0.2 0.4M122.3 96.9l1.3 0.7M181.7 146.1l-0.1 0.1M134.1 179.6l0.8 0.2M175.6 112.2l-0.2 0.6M90 173.7l-0.6 0.4M154.1 70.9l0.7 1.8M159.7 155.6l0.1 0M118.3 193.6l-0.3 0.3M108 151.9l-0.1 0M117.6 38.2l0.1 0M84.4 28.3l-0.1 0M166.3 64.4l-0.4 0.4M78.9 172.4l-0.6 0.1M147.2 160.2l0 0.3M64.3 157.2l0.3 0.8M107.9 185.7l-0.3 0.1M158.2 165.3l0.4 0.1M87.8 53.3l-0.5 0.2M42.7 141.8l0 0.3M107.4 64.7l0.1 1.3M27.1 119.7l-0.4 0.1M94.4 47.2l-0.1 0.1M191.8 91.9l1.1 0.8M104.9 25.1l-0.4 0.3M134.2 174.4l-0.3 0.3M161.4 46.1l-0.8 0.1M53.1 70.8l-0.1 0.8M144.4 110.5l0.3 0M33.6 96l0.5 0.9M97.3 23.8l0.6 0.2M80.5 167.4l-0.1 0.1M108.1 167.9l-0.1 0.2M186 76.2l-0.1 0.1M112.2 21.6l0.1 1M163.7 54l0 0.1M51.5 47.1l-0.4 0.2M30.5 142.8l0.2 0.2M78.4 50.1l0.1 0.5M178.8 80.7l0.5 0M112 191.7l0.8 0.4M79.2 91l-0.6 0.7M137.1 42.7l0.4 0.1M106.1 53.8l0.3 0.4M174.3 101.9l-1 1M68.2 98.6l0.6 0.3M74.9 59.7l-0.4 0.2M41.8 50.2l0.1 0.6M128 179.9l0.2 0.5M84.1 85l0.6 0.8M54.6 156.7l-0.1 0M136 184.9l0.2 0.1M98.8 164.1l0 0.2M109.9 182.4l-0.2 0M30.7 141.6l-0.1 0M106.3 25.1l-2.3 1.2M51.8 49.6l0.1 0.5M88.8 187l0.3 0.1M25.2 132.1l0 0.4M36.3 154.5l-0.7 0.4M164.2 130.6l0.4 0.8M101.3 75.7l-0.6 0M169.5 151.8l-0.4 0.2M44.8 50.6l-0.1 0M27.2 83.1l-0.2 0.2M116.4 138.1l0.4 0M99.9 41.2l-0.4 0.4M70.7 177.9l0.7 0.9M82.5 98.9l-0.1 0.2M140.2 24.7l0.8 0.3M191 96l-1.2 0.3M184.7 70.9l0.4 0M166.2 152.7l-0.6 0.6M61.8 114.2l-0.7 0.7M22 119.6l0 0.8M96.2 101l-0.3 0M176.8 125.5l0.1 0.6M102.9 27.4l0.6 1.3M152.8 37.1l0.1 0M53.5 106.2l0 0.2M158.4 113.3l-0.2 0.3M166.9 142.8l-0.2 0.3M85.3 98.5l-0.3 0.3M88.7 108.9l0 0.2M78.8 123.6l0.1 0.1M130.8 50.3l-0.4 0.2M151.5 145.9l0.4 0.1M140.6 156.6l0.4 0.4M54.7 138.9l0 0M142.7 53.5l0.1 0.5M182 153.9l-0.3 0M91.4 152.5l0.8 0.9M185.9 103.2l0.2 0.1M186.9 142.9l0.3 0.3M148.3 54.1l0.3 0.2M139.2 184.6l0.4 0.3M180.6 149.6l0.5 0.2M65.2 31.4l0.2 0.1M147.8 32.7l-0.6 0.3M186.2 132.6l-1.1 0.2M68.9 63.1l0.2 0.6M139.3 52.4l-0.1 0.2M170.6 124.7l1.1 1M117.7 184.2l1.1 1.2M98.2 35.6l0 0.1M55.8 133.2l-0.4 0.4M94.2 65.4l0.3 0.6M65.8 59.5l-0.7 0.3M125.3 126.8l0 0M99.9 124.3l0 0M52.1 165l-0.3 0.1M102.5 22l0.5 0.1M78.8 105.3l0 0.4M83.9 63l1.1 0.2M98.5 166.3l-0.3 0.4M86.1 147.6l-0.1 1.2M116.2 146.8l0.6 0.4M31.1 79.7l0.9 1.1M190.7 122.3l0.6 0.2M131.3 183.2l0 0M155.3 178.4l0.1 0.4M55.7 167.4l0.7 0.3M91.7 63.1l0.1 0.2M50.5 172.3l-0.2 0.7M64.1 46.7l0.4 0.1M192 126.6l-0.4 0.1M191 132l-0.5 0.1M151.3 45.3l0 0.2M34.3 152.1l-0.2 0.1M110.2 59.9l0.2 0M171.6 87.7l-0.1 0M136.1 169.7l-0.3 0.2M90.6 20.4l1 0.6M31 137.9l0.2 0.1M162.2 40.1l0.2 0.3M113.3 38.9l0.6 0.5M173.8 63.6l0.7 0M123.4 35.9l0 0.6M140 95.3l-0.4 0.3M136.2 174.1l-0.1 0.7M60.7 48.6l0.9 0.3M131.4 180.4l0 0.4M115 189.9l0 0.1M101.2 27.5l0.1 0.1M78 44l0.1 0M155.5 133.4l-1.3 0.6M178.2 130.4l-0.3 0.7M32.5 148.8l0.5 0.2M143.3 99.1l0 0.1M164.1 88.9l-0.5 0.1M162.5 113.8l-0.5 0.3M107.4 142.6l0.3 0.6M32.9 145.5l-0.1 0.1M36 149.6l-0.2 0.9M143.7 112.1l0 0.2M54 168.6l0.3 0.9M148.6 76.8l-1.2 0M114.8 138.7l-0.2 0.1M183 137.7l0.3 0.2M149.1 30l0 0.6M83.2 153.6l-0.9 0.1M159.9 130.4l-0.5 0M185.1 108.4l-0.3 0.5M107.9 91.2l1.1 0.3M181.9 88.7l-0.7 1M89.6 111.1l0.1 0.3M113.2 20.5l-0.1 0.2M58.4 37.7l1.2 0.8M181.9 62.1l-0.2 0.1M97.4 67.4l-0.6 0.8M34.3 116.5l-0.1 0.6M50.5 124l1.5 0.9M47.9 155.1l1.2 0.3M182.1 113.2l-0.1 0.5M79.5 110.6l0.3 1M79.6 137l-0.1 0.3M34.7 102.9l0.3 0.1M24.4 122.6l-0.1 0.1M116.3 63.4l-0.1 0.1M43.2 110.7l0.4 0.2M80.2 175.4l0.3 0.8M141 84.6l-0.8 1.3M145.9 139.2l-0.2 0.1M73.5 139.9l0.1 0.4M81.1 80.1l0.3 0.8M103.8 155.7l0 0.2M115.8 48.6l-0.2 0.2M169.2 96.4l-0.4 1.1M140.9 48.4l0 0.4M126.4 160.4l0.3 0.6M160.9 90l-0.2 0M36.1 61.7l0.3 0M175.5 155.6l-0.4 0M184.7 75.6l1.2 0.8M36.5 140.6l1.2 0.1M125.7 23.3l0 0M23.8 95.9l0.1 0.1M76.8 188.2l0.1 0.8M113.3 25.6l0.1 0.2M134.8 22.9l1 0.2M112.8 44l0.1 0.2M163.8 55.2l-1 0.1M147.4 74.1l0.1 0.7M166.7 148.9l1 0.5M104.6 178.3l0 0.1M170.9 90.8l-0.1 0.1M56.1 53.6l0 0M87.2 63.4l0 0.6M189.7 122.9l0.3 0.4M124.8 118.7l0 0.2M156.1 123.9l-0.6 0.6M156.3 175.1l-0.8 0.6M168.5 96.8l0.1 0.1M72.6 172.3l-0.2 0.1M120.9 75.7l0.6 0.2M165.8 153.1l0.3 0.3M195.4 106.2l-0.1 0.1M22.8 115.7l-0.2 0.1M100.6 44.8l-0.7 0.1M43.4 51.8l0 0.2M95.7 174.3l0.9 0.4M80.2 41.5l0.2 0.1M53.3 103l1.2 0.3M74.5 119.9l0.1 0.8M163.4 93l0 0.1M66.9 165.9l-0.4 0.5M116.1 87.9l0.7 0.4M37.1 110.4l0 0M46 162.1l-0.6 0.1M161.4 166.9l0.1 0.7M76.4 155l0.1 0.2M135.6 27.2l-0.1 0.6M48.8 171.1l-0.5 0.2M191.8 90.2l-0.1 0.2M168 55.4l-0.1 0M116.8 144l1 0.1M24 117.3l-0.6 0.5M122.2 24.7l0.2 0.3M96.5 33.5l0.2 0.1M39.9 140.3l-0.1 0.5M164.1 40.6l-1.8 0.8M184.5 79.3l0.7 0.5M135 187.8l-0.5 0.3M155.6 155.4l0.5 0.1M109.7 76.6l-0.4 0.1M65.6 119l-0.7 0.6M73.4 32.5l-0.8 0.7M125.2 171.2l-0.5 0.4M47.7 45.2l-0.6 1.1M159.4 165.5l1.7 0.9M95.8 188.4l0 0M143.1 90.6l0.6 0M92 24.2l0 0.7M133.8 75l-0.3 0M170.3 71.7l0.7 0.5M114.2 183.9l-0.4 0.7M106 132.1l-0.5 0.1M151.8 90l-0.2 0.4M146.2 42.5l0.2 0.6M114.1 126.3l0 0.3M159.3 94.4l0.3 0.2M177.4 94.5l-0.4 0.6M117.9 46.2l-0.2 0.1M169.3 75.9l0 0.1M103.7 61.3l-0.1 0.3M136.6 151.5l-0.1 0M48.7 132.3l0 0.4M88.5 180.9l-0.2 0.3M138.1 56.1l0.2 0.5M159.2 122.1l0 0M114.4 164.7l0.3 0.2M139.8 79.4l0.3 0.3M161.7 43l1.7 0M35.3 59.7l1.4 0.9M95.1 33.6l0.1 0M127.3 24l0.3 0.7M160.6 89.1l-0.4 0.1M41.4 122.8l0.3 0.7M90.3 165l0.6 1.2M191.8 129.3l-0.6 0.1M108 181.7l0.1 0.1M126.7 188.6l0 0M84.2 128.3l0.5 0.2M178 152.5l0 1.4M36.2 147.2l-0.8 0.5M38.9 90.9l0.3 0.4M63.7 61.4l0 0.3M50.4 128.1l-0.1 0.1M172.9 70.2l-0.9 0.2M84.9 84.7l0 0.1M69.5 82.9l0.2 0.5M94.3 185.2l0 0.2M53.4 159.1l-0.5 0.6M191.2 92.1l1.1 0.5M69.2 66.2l-0.7 0.9M161.8 76.3l-0.1 0M128.6 99.3l0.2 0.8M188.3 122.8l-0.3 0.2M62.7 140.5l0.6 0.3M96 114l0.1 0.3M86 170.3l-0.2 0M40.4 142.9l0.2 0.4M153.3 177.4l0.5 0.3M110 32.1l0.9 1.4M64 141.8l0.2 0.4M169.8 148.6l0 0M144.9 73.3l-0.4 0.9M65.8 172.4l0 0.3M109.1 27.1l0 0.1M37.1 154.7l0.2 0.1M39 106.2l-0.3 0.4M189.2 130.3l0 0.2M133.9 63.6l-0.3 0.4M141.7 45.8l-0.7 0.5M81.5 50.9l0.2 0.8M158.4 81.1l0.1 0M183.3 123.8l-0.7 0.4M136.6 175.1l0 0M154.5 100.9l0.1 0.1M148.7 181.3l-0.4 0.2M121.7 82l-0.4 0.3M68 180.9l0.8 0.2M109.5 47.7l-0.2 0.2M176.1 106.7l-0.4 1.5M142.7 147.3l-0.1 0M101.1 181.3l-0.7 0.1M175.6 156l0.5 0.6M52 123.5l-0.3 0.1M115.8 29.1l0.1 0.5M177 105.5l0.4 0.1M55.9 170.5l0 0.8M149 120.8l0 0.1M87.1 111.4l1 0.2M76.1 129.7l0.5 0.6M178.1 144.5l0.3 0.3M105.7 147.3l0 0.1M131.3 34.4l0 0.4M42 58.8l0.6 0.8M161.9 104.2l0.2 0.5M51.8 54.6l0.2 0.1M134.2 77.4l0.4 1.1M109.3 155l-1 0.1M185 144.1l-0.4 0.2M130.8 184.8l0.6 0.7M80.1 162.7l-0.4 0.9M140.5 88.9l-1.2 0.9M144.7 180.3l0.1 1M170.1 55l0 0M86.9 78.9l0.6 0M67 182.5l0.2 0.2M101.8 179.7l-0.6 0.6M182 74.3l-0.1 0.2M30.1 141.7l-0.2 0.6M25.3 113.8l0 0.2M145.7 165.1l0.3 0.3M26.9 78.5l0.2 0.6M177.2 129.6l-0.2 0.3M98.7 152.3l0.3 0.3M95.7 86l0.2 0M139.2 159.2l0.2 0.4M185.1 136l1.5 0.3M60.1 53.2l-1.4 0.6M89.3 32.2l0.6 0.6M74.2 186.7l0.3 0.1M103.8 116.7l-0.1 0.1M59.3 99.9l0 0.2M86.6 69.5l-0.2 0M49 119.1l0 0.6M149 64.6l0.5 0.5M94.4 111l-0.1 0.3M164.9 112.2l0 0.3M52.3 49.5l0 0.1M51.7 91.1l0.6 0.6M189.4 98.7l0.3 0.5M45.6 63.9l-0.4 0.3M134.7 135.2l0.3 0.2M43.4 67.6l0.9 0.5M42.6 101.1l0.2 1M60.9 101.5l-0.1 0.1M95.8 127.4l1.1 0.7M42.9 106.9l0 0M62.4 155.1l0 0M127.7 145.9l-0.8 0.6M166.5 79l0.8 0.1M173.4 49.6l-0.6 0.2M73.8 184.3l0 0M122.9 116l-1.1 0.2M152.2 67.7l-1 0.5M64 172.1l0 0.6M143 111.3l0.2 0.6M180.5 155.4l-0.5 0.7M57.3 174l0.2 0.1M159.5 72l1 0.7M25.9 109.2l-0.4 0.1M29.2 68.7l0.9 0.5M153.8 139.5l1.3 0.1M165.2 46.1l-0.5 0.5M55 114.7l-0.5 1M79.4 80.7l0.2 0.3M42.8 135.2l0.6 0.2M168 131.9l-0.7 0M89.6 85.2l0.5 0.4M103.6 83.3l0.5 0.6M79.3 128l0.9 0.7M134.2 26.2l-0.4 0.3M57.3 71.9l0.3 0M136.9 149.6l0.2 0M63.1 48.2l-0.5 0.5M133.8 29l0 0.7M79.6 37.9l-0.6 0.2M91.6 125.5l-0.2 0.2M193.1 125.4l0.3 0.2M135.4 178.9l-0.2 0.5M99.9 179.4l0.4 0.2M173 61.9l0.1 0.8M41.7 159.7l0.7 0.4M74.8 125.5l-1.2 0.3M179.7 55.7l-0.3 0.2M49.1 82.5l0 0.1M170.1 158.1l0 0M70.1 155.3l0.3 0.3M176 97.2l-0.2 0.2M98.9 23.7l-0.2 0M164.2 84.6l0.1 0.3M124.3 37.5l-0.5 0.1M61.1 176.4l0.7 0.8M45.4 106l0 0.1M81.1 170.2l0.2 0.1M163.9 170.5l-0.1 0.4M153 105.7l0.5 0.2M189.4 81l0.3 0.2M142.9 60.5l-0.9 0M69.5 170.8l0.1 0.6M133.3 99.6l-0.6 0.4M67.7 142.9l0.1 0.1M158.8 63.6l0.6 0.6M112.1 173.2l0.3 0.6M68.2 184.7l0.2 0.1M188.4 135.6l0.5 0.6M43.8 63.7l-0.5 1.4M147.6 87.3l-0.4 0.9M118.9 46.2l0.8 0.3M41.9 71.7l-0.1 0.2M140.6 46.7l-0.9 0.8M120.1 31l1.1 0.5M76.3 62.9l0 1.1M62.3 50.8l0.4 0.2M130.1 173.7l0.1 0.1M57.6 134.6l-0.3 0.2M183 147.7l0.1 0.6M83.8 48.5l-0.3 0.2M38 63.6l0.3 1.3M123.1 68.7l0.2 0.1M149.1 138l0.5 0.1M123.6 91l-0.1 0.1M137.7 111.9l0 0.7M126.9 49.3l0 0M58.3 107.8l0.4 0.1M22.8 102.8l-0.4 0.1M64.4 60.9l0.6 0.7M36.2 138.1l0.6 0.7M126.2 87.7l1.5 0.3M116.8 104.1l0.6 0.1M48.5 77.2l0.4 0.1M79.2 51.9l0 1M147.8 82.7l0 0M150 167.8l0.6 0.4M159.6 124.7l-0.7 0M63.2 66l0.4 0.4M55 49.5l-0.2 0M128.2 176.2l0.2 0M81.3 58.2l0 0.1M157.8 45.4l-0.7 0M146 37.7l0.9 1M148.3 159.1l0.4 0.7M76 82.3l0 0M168.6 130.6l0.1 0.2M125.5 141l0.3 0.3M85.8 176.2l0.3 0.3M35.3 125.3l-0.4 0.5M88.7 97.9l0 0.1M127.2 160.5l-0.4 0.1M109.3 127.9l-0.1 0.4M50 158.8l-0.2 0.2M30.1 119.5l0.1 0.4M155.1 160l-0.2 0.3M133.4 96.5l-0.1 0.6M87.9 52l-0.2 0M52.1 46.2l0 0M94.9 62.7l0.1 0.2M104.5 137.3l0.8 0.8M117.2 140.9l1 0M181.9 131.4l0 0.1M135.5 93l0 0.2M192.2 101.2l0.6 0.4M194 90l-0.5 0.4M164.1 167.5l0.9 0.5M64.6 126.7l0.1 1M44.6 70.5l-0.2 0.1M150.1 97.8l-0.7 0.7M167.6 118.5l0 0.1M180.9 108.8l-0.8 0M65.5 38.3l0 0.2M177.2 94.1l-0.8 0.2M72.7 150.3l0 0M113.2 34.8l0.1 0.9M115.3 140.2l0.1 0.1M64.2 72.6l-0.1 0.7M110.5 158.5l0.2 0.1M97.4 19.4l-0.2 0.2M49.5 150.1l0 0M128.9 127.7l0.1 0.1M176.5 158.7l-0.6 0.8M60.4 64.7l-0.3 0.6M156.1 176.4l-0.3 0.1M128.1 164.6l0.2 0.8M179.4 105.2l0.1 0.3M65.4 130.9l-0.6 0.4M110.9 85l-0.5 0.4M36.4 69.5l0.1 0.2M144.9 94.5l0.7 0.6M143 163.4l-0.2 0.2M24.8 123.2l0.4 0.1M159.3 88.4l-0.8 0.7M89 164.3l0 0.3M33.2 100.7l-0.1 0.3M63 124.9l0.3 0.6M87.3 75.3l0.4 0.2M21.9 110.9l-0.2 0.9M64.9 168.1l0.3 1.1M189.4 112.1l0.9 0.4M79.7 181.7l0 0.2M151.8 138.3l0.7 0.7M170.8 166.4l-0.2 0.1M53 123.6l0.2 0.4M164.3 126.4l0.2 0.1M181.5 108.2l-0.4 0.8M63.5 43.4l0.8 1.1M30.2 87.2l0.1 0M104.4 54.9l-0.5 1.1M151.8 35.9l0.3 0.6M97.4 121.4l-0.5 1.3M153.1 140.8l0.9 0.1M123.2 162l-0.3 0.2M29.1 145.1l-0.3 0.7M170.9 50l0.2 0.1M77.4 119.5l0.5 0.2M26.3 86.1l0.5 0.1M175.3 126.6l-0.2 0.1M183.1 68.8l-0.2 1M157.5 36.1l0 0M129.8 68.2l-0.5 0M126.6 154.4l-0.5 0.3M87.5 94.5l0.1 0M32 149.2l0 0M107.8 21.6l-0.5 0.1M163.5 53l-0.3 0.1M143.7 101.7l-0.1 0.5M21.5 92.8l0.3 0.4M28.6 116.6l0.1 0.5M80.9 116.8l-1.1 0M46.5 167.2l0 0M94.3 143.3l-0.3 0.2M138.8 178.2l0 0.5M66.6 81.5l0 0.9M92.2 67.6l-0.4 0.3" stroke="#6c687c" stroke-width="1.3" stroke-linecap="round" fill="none" opacity="0.5"/><path d="M88 24.3l0.2 0.2M40.8 157.5l0 0.5M29.8 124.7l-0.4 0.8M60.2 42.2l-0.3 0.1M106.7 51l-1.1 0.1M83.6 61.7l-0.4 0M80.1 152l0.7 0.8M109 190.3l-0.1 0M175 129.6l-0.1 0.1M185.6 118.4l0.4 0.4M45.9 48.7l0.3 1M160.1 43.8l-0.3 0.5M88.2 179.9l-0.5 0.6M174.3 161.5l0.6 0.3M190.6 92.5l0 0M141.9 33.7l0 0M77.6 59.3l0.4 0M147.4 169.3l0.2 0.2M37.4 59.7l-0.7 0.8M38.7 151.2l-1.2 0.8M172.1 78.1l0.1 0M156 174.1l1 1.1M116.9 164.6l-0.9 1.4M167.1 45l0.8 0M171.2 129.3l1.7 0.9M77.5 107.6l0.8 0.6M40 56.6l0 0.7M96.8 25.7l0.4 0.2M55 175.3l-1.1 0.1M163.3 44.1l0.9 0.1M31.4 146.9l0.7 0.4M148.2 41.6l0 0M174.6 104.7l0.7 0.2M93 171.3l0 0M183.2 72.8l-0.2 0.1M152.8 178.6l-0.1 0.2M193.8 124.4l-1 0.2M96 20.7l0 0.6M137.4 109.6l0 0M22.5 114.9l-0.3 0.5M140.1 180.3l-0.1 0.5M188.7 97.4l0.5 0.1M78.9 184.8l-0.3 0M34.7 138.5l0.6 0.7M40.6 153.4l-0.3 0.1M153.7 34.8l0 0M131.8 40.3l-0.2 0.2M101.6 173.4l-0.6 0.2M120.6 20.1l-0.2 0.4M29 74.2l-0.1 0M75.8 70.9l0.5 1.2M180.6 70.4l-0.2 0.4M21.9 119.5l0.2 0.2M104.4 96.6l-1.4 0.5M81.1 26.2l-0.4 0.1M38.1 139.9l-0.1 1.7M74.7 185l0 0.1M166.2 85.1l-0.3 0M191.3 110.8l0 0M174.8 106.8l-0.2 0.1M189.8 92.5l0.1 0.4M107.6 189l1.1 0.7M119.3 151l-0.7 0.4M154.6 41.2l0.5 0.9M65.4 181.2l0.1 0.2M110.5 23.1l-0.6 0.7M127.1 83.8l-0.3 0.2M144.7 124.8l-0.2 0.7M169 121.1l-0.8 0.2M123.3 33.2l-1 0.8M20.7 112.5l0.5 0.5M92.6 29.5l-0.2 0.1M167.9 43.6l-0.1 0.1M190.6 127.6l-1.2 0M52.2 44l0.7 0.9M166.6 104l0 0.7M96.1 151.9l0 0.3M186.8 68.7l0.3 0M143.5 136.7l0.8 0.1M130.2 27l0.2 0.3M23.1 119.7l0.1 0.2M79.1 168.8l-0.9 0.3M94.6 76.4l-0.2 0.1M94.8 82.2l0.1 0.1M66.5 164l0 0M59.2 51.5l-1.5 0.6M159.7 38.4l-1.3 0.3M46.4 115.3l0 0M164.6 55.9l-0.3 0.7M162.3 46.3l0.4 0.2M182.8 120.7l0 1.4M27.6 73l0.1 0.1M192 84l0 0M159.7 177.3l-0.4 0.1M163.3 114.9l-0.1 1.1M91.2 180.7l-1.3 0.1M135.8 145.7l-0.2 0.3M25.3 115.1l0.6 0.4M103.3 181.7l0.4 0.1M46.6 47l0.3 0.6M54.2 48.3l-0.5 1.2M131.7 37.7l-0.4 0.6M46.4 151.8l1 0.3M59.1 134.8l0.2 0.4M131.2 34.2l0.3 0.9M91.1 55.1l-0.7 0.5M189.1 74.3l0 0M97.5 67.1l-0.1 0M116.1 176.6l-0.1 0.1M120.7 188.1l1 0.4" stroke="#5f538c" stroke-width="1.8" stroke-linecap="round" fill="none" opacity="0.7"/><path d="M143.9 106.2l0.7 0.5M147.2 103.3l-0.2 0.3M75.2 101.1l-0.2 0.1M113.4 178.4l0.1 0.7M158.3 122l-0.3 0.5M93.7 129.5l0.6 0" stroke="#563f90" stroke-width="2.3" stroke-linecap="round" fill="none" opacity="0.75"/><path d="M137.5 71.5l0.7 0M103 84.5l-0.3 -0.5M67.5 94l-0.1 1M132.5 94.5l-0.1 0.3M110 127l-0.4 -0.4M67 139l0.6 0.2M90 141l0.6 -0.6M105 165l-0.8 0.5M84 102l-0.2 -0.4" stroke="#543c8e" stroke-width="2.9" stroke-linecap="round" fill="none" opacity="0.8"/></g></g><path d="M205.9 113.8A101.6 101.6 0 0 1 26.9 170.2" fill="none" stroke="#dcdce0" stroke-width="1.8" stroke-linecap="round" opacity="0.85" filter="url(#bl05)"/><path d="M207.6 113.9A103.3 103.3 0 0 1 38.3 184" fill="none" stroke="#8a8a8d" stroke-width="1" stroke-linecap="round" opacity="0.5" filter="url(#bl05)"/><path d="M191.7 145.5A96 96 0 0 1 56.7 188" fill="none" stroke="#cfcfd4" stroke-width="1.3" stroke-linecap="round" opacity="0.6" filter="url(#bl05)"/><path d="M8.1 130.8A100 100 0 0 1 8.1 79" fill="none" stroke="#dfddee" stroke-width="3" stroke-linecap="round" opacity="0.75" filter="url(#bl1)"/><path d="M20.7 46.1A102.6 102.6 0 0 1 69.6 8.5" fill="none" stroke="#d3d6e4" stroke-width="1.2" stroke-linecap="round" opacity="0.8" filter="url(#bl05)"/><path d="M105 192v14" fill="none" stroke="#e2e1e4" stroke-width="3.5" stroke-linecap="round" opacity="0.7" filter="url(#bl1)"/><path d="M105 5v14" fill="none" stroke="#9d95b5" stroke-width="3" stroke-linecap="round" opacity="0.5" filter="url(#bl1)"/><rect width="209.5" height="209.1" filter="url(#grain)" opacity="0.12" style="mix-blend-mode:soft-light"/></g>
<g transform="translate(1258.2 321.8)" clip-path="url(#pclip2)"><rect width="208.9" height="208.7" fill="url(#pbg2)"/><circle cx="105.2" cy="104.7" r="102.8" fill="url(#pwall2)"/><g clip-path="url(#pout2)"><path d="M204.7 104.7A99.5 99.5 0 0 1 41.2 180.9" fill="none" stroke="#b39fc2" stroke-width="5" opacity="0.6" filter="url(#bl2)"/></g><g clip-path="url(#pfl2)"><circle cx="102.8" cy="102.4" r="97.5" fill="#c2c0ca"/><g filter="url(#bl8)"><ellipse cx="60" cy="44" rx="36" ry="22" transform="rotate(-25 60 44)" fill="#dbdbe5" opacity="0.95"/><ellipse cx="101" cy="98" rx="30" ry="24" transform="rotate(-20 101 98)" fill="#aeabb4" opacity="0.85"/><ellipse cx="43" cy="134" rx="30" ry="22" transform="rotate(-25 43 134)" fill="#adaab3" opacity="0.85"/><ellipse cx="150" cy="95" rx="26" ry="26" transform="rotate(10 150 95)" fill="#b4b1b9" opacity="0.6"/><ellipse cx="155" cy="134" rx="26" ry="18" transform="rotate(0 155 134)" fill="#c5c3cd" opacity="0.5"/><ellipse cx="26" cy="95" rx="14" ry="30" transform="rotate(0 26 95)" fill="#cfced8" opacity="0.7"/><ellipse cx="110" cy="160" rx="40" ry="14" transform="rotate(0 110 160)" fill="#b7b4bd" opacity="0.6"/></g><path d="M187.1 63.1A93 93 0 0 1 49.5 178.6" fill="none" stroke="#a088b4" stroke-width="5" opacity="0.5" filter="url(#bl2)"/><path d="M23.1 148.4A92 92 0 0 1 16.3 70.9" fill="none" stroke="#ab9bbc" stroke-width="5" opacity="0.3" filter="url(#bl2)"/></g><g clip-path="url(#pout2)"><g filter="url(#bl06)"><path d="M39.3 96.4l-0.1 0.9M163.2 151l-0.1 0.1M14.7 134.8l-0.6 0.3M181.4 153l-0.6 0.3M32.6 73.2l0.7 0.5M148 172.8l-0.1 0M119.3 183.1l-0.6 1.4M88.3 171.8l0.1 0.1M38.6 43.8l-0.1 0.3M155.3 134.9l2.6 0.5M132.9 147.4l0 0.5M29.3 114.5l-0.1 0.1M20.1 142l0.5 0M97.7 131.5l0 0M112.3 128.6l-0.6 0.4M79.6 23.3l-0.5 0.1M181.2 123l0.6 0.4M113.6 100.1l0.1 0M51.5 69.1l-0.6 0.6M36.7 41.6l-0.9 0.5M44.2 47.7l-0.1 0.2M194 124l-0.1 0.2M143.1 127.1l-1 1.3M82.2 61l0.1 0M139.3 89.4l0 0.6M154.1 139.1l0.6 1M82.9 75.2l0 0M154.7 85.6l-0.1 0.1M131.2 18.8l-0.1 0.2M26 122.1l0 0.4M59 116.7l0 0M55.3 74.3l0.4 0.2M161.7 169l0 0.1M103.4 194.2l0 0M105.2 159.8l-0.2 0.1M38.3 58.8l-0.2 0.7M175 132.4l-0.1 0M60.8 41.8l0.8 0.2M23.2 104.2l-0.2 0.1M103.4 170.5l-0.3 0.1M75.1 18.3l0.4 0.3M171.3 161.5l0.7 0.1M98.7 128.5l0 0.7M120.6 42.8l0.6 0.3M124.7 17.5l0 0.2M50.6 172.7l-0.3 0.3M153.3 40l0.1 0.3M174.8 47.4l-0.7 1.1M181.6 136.2l-1.6 0.6M129.4 23.5l0.5 0.2M167.7 64l0 0M149.4 95.5l0 0.5M18 130.2l0.1 0.3M61.3 84.5l0.1 0.2M173.7 163.7l0 0M58.4 176.6l0.2 0.2M84.9 177.7l-0.4 0M73.2 87.4l0 0.1M152.6 128.7l0.2 0.4M86 170.2l0.3 1M165.2 99.6l0 0M26.3 145.4l0 0.3M18.3 127.8l0.5 0.8M62.3 26.5l-0.1 0M70.6 135.8l0.1 0.5M132.7 42.6l-0.2 0.3M69.3 91.1l0.1 0.4M78.3 193l-0.5 0.4M110.3 76.4l-0.9 0.5M178.7 99.5l0.5 0.5M34.9 154.7l0.2 0.3M49 106.8l-0.1 0.6M179.3 49.7l1 0.4M96.6 180.8l1 1M77.8 190.8l-0.3 0.9M138.5 64.9l-0.4 0.5M141.7 153.2l0.7 0.2M19.7 93.4l-0.8 0.3M119.3 31.7l0 1M81.2 28.7l0.1 0.4M122.9 23.6l0.3 0.6M95.5 195.1l-0.1 0.8M101.4 76.4l-0.2 1.2M183.5 94.1l0.3 0.7M183.5 88.6l0.4 0.6M64.6 163.8l1 0.3M53 165.5l-0.8 0.6M78.9 78.2l-0.6 0.7M69.5 186l-0.7 0.2M105.8 197l0.4 0.3M51.4 127l-0.3 0.6M148 19.7l-0.9 0M153.7 149.2l0.4 0.4M109.6 94.7l-0.1 0.3M120.6 167l-0.2 0.6M71.3 114.1l-0.1 0M164.3 114.4l-1.2 0.5M69.5 29.9l0.1 1.4M132.5 126l-0.9 0.5M64.7 78.6l0 0M165.3 113.7l-0.2 0M36.6 67.2l-0.3 0.1M100.6 7.7l-0.1 0M184.6 104.7l-0.1 0.8M87.6 13.3l0 0.1M31.8 136.3l0.8 0.3M122.6 182.5l0.2 0.2M17.5 116.5l0.7 0M63.8 48.4l0.1 0.2M150.9 77.2l0.1 0.4M171.3 52.5l0 0M51.3 132.6l-0.1 0.3M168.2 40.1l0.5 0.2M52.4 137.4l0.1 0.1M132.8 92.7l0.1 0.3M152.2 106.9l0.1 1.4M144.4 81.5l0.2 0.9M163.7 126.1l0.2 0.3M153.1 38.6l0.1 0.1M94.3 139.9l0.2 0.1M137.4 146.6l-0.4 0.2M33.5 44.2l-0.1 0.2M69.2 92.5l-0.4 0.3M60.6 23.6l-0.1 0.1M178.4 152.7l-0.7 0.4M147.9 59.5l0 0M146.5 180.9l0 0.3M58.6 73.8l0 0.4M125.6 146.7l0.1 0.2M180.3 148.3l0.3 0.2M139.7 86.2l0.8 0.6M141.3 34.4l-0.6 0.1M123.6 62.2l0.5 1.4M114.6 22.4l0.1 0.4M55.7 27.6l0 0M53.1 173l0.7 0.3M18.7 97.7l-0.1 0M141.7 74.4l0 0.1M8.9 99.7l0.3 0.1M94.1 7.9l-0.5 0.6M22.3 149.4l0.5 0.4M122.9 189.7l0.8 0.2M151.7 181.4l-0.3 0.1M125.8 56.6l0.9 0.9M138.4 138.9l0.1 0.2M143.5 169.3l0.1 0M132.8 90l1.1 0.9M55.1 110l0 0M71.7 157.7l0.1 0.5M154.4 44.8l-0.5 1.1M37.7 157.4l0.4 0.1M87.5 192.2l0.3 0.2M126.8 27.1l-0.2 0.4M190.8 115.8l0.2 0.2M29.5 117.6l0.2 0.2M186.3 143.2l-0.6 0.3M148.4 60.7l0.7 0.8M47.5 122.1l-0.1 0.3M16.2 116l0.3 0.2M147.1 168.6l-1.2 0.5M18.3 145.8l-0.3 1.5M68.9 19.9l-0.1 0.3M89.2 16.9l-0.3 2M94.6 193.4l-0.5 0.7M161.7 142.8l0.4 1.3M161.4 41.9l-1.1 0.5M174.4 151.9l0 0M125.9 180.6l0.8 0M69.3 27l0.1 0.1M50.6 85.6l-0.2 0.1M93.3 146.6l-0.5 0.1M176.1 59.8l-0.2 0.3M28.1 126.4l-0.1 0.1M22.4 135.9l0.6 1.3M99.5 57l0.3 0.1M159.9 135.8l-0.6 0.6M178.9 89.1l0.3 0.9M93.2 85.3l-0.3 0.5M88.9 189l0 0.1M69.9 89l0.7 0.9M68.3 53.6l1.1 0.9M36.5 121.4l0.7 0.3M23.3 146.3l-0.4 0.2M92.7 188.2l-0.5 0.7M58.7 87.1l0.4 0.7M50 45l0 0.1M177.1 98.2l0 0.7M132.8 39.8l-0.2 0.2M112.9 24.7l0.1 0.3M78.3 52l0.3 0.3M67.3 147.3l-0.8 1.4M194.8 79.2l-0.7 0.5M130 191.5l0.4 0.5M61.7 72.1l-0.9 0.6M172 164.6l-0.1 0.7M48 168l0.3 0.7M87 191.3l-0.9 0.5M83.9 144.2l-0.4 0.1M189 64l0.2 0.1M149.9 123.8l0.2 0M168.5 113.8l-0.9 0.2M125.2 18.1l-0.2 0M137.2 177.5l0.4 0.2M122.7 186.7l0.3 0.1M71.1 18.5l0 0.1M122.7 130.6l0 0M187.5 114l0.3 0.5M195.6 90.7l0 0.1M77.5 113.1l-0.9 0.6M192.7 130.4l0 0.1M192.7 78l0.3 0.3M74.9 186l0.2 0.1M130 191.2l0.2 0M118.6 194.9l0.1 0.1M116.5 141.4l0.3 0.2M78.1 23.7l0 0M154.4 126.7l0.5 0.4M77.4 127.4l-0.2 0.2M87.5 101.8l-0.4 0.8M75 160.9l-0.3 0.2M147.3 164.3l0 0.1M142 183.5l0.2 0.1M90.3 32.1l-0.6 0.1M120.4 22l-0.1 0.1M133.5 167.3l-0.4 0.4M79.9 11l0.8 0.1M172.9 107.4l0 0M143.5 179.8l-0.4 0.5M161.7 139.2l0.5 0.1M79.7 185.4l0 0.2M43.6 163.5l0.7 1M38.6 155.6l-0.9 0.3M123 22.6l0.8 0.6M77.7 180.5l-0.3 0.1M50.7 136.7l-0.4 0.4M15.8 74.5l0.7 0.3M109.4 190.4l-0.2 0.8M32.1 108.8l-0.1 0.4M85.4 157.6l0.2 0.2M112 189.2l0.4 0.8M157.6 164.1l0.2 0.1M47.9 26l0.6 0.2M180.1 76.8l-0.2 0.6M111.3 174.8l-0.7 0.4M114.9 97.3l1 0.5M81.8 24.1l-0.7 0M88.9 66.4l0 0.6M42.5 74.8l0.2 0.3M80.5 16.1l-0.2 0.4M75.5 118.7l0.6 0.4M103.4 194.4l-0.8 0.7M164.6 72.8l0 0M112.1 161.5l-0.6 0.3M114 185.3l-0.2 0.5M88 185.3l0.2 0.5M126.9 151.5l0.7 0.9M149.8 175.8l0.4 0.2M153.4 116.5l-0.2 0.2M89 131.4l-0.3 0.1M107.1 20l-0.1 0M139.3 151.7l-0.2 1.3M49.5 121.6l0.8 0.1M154.3 99.1l0 0.1M74.1 157.2l0.8 0.4M64.1 141.4l-0.1 0.1M67.6 184.4l0 0M121.4 188.5l-1.2 0.2M20.1 109.7l-0.3 0.5M153.4 181.2l-0.8 0.9M123.4 12.8l-0.2 0.6M190.6 118.6l0.1 0.3M150 147.6l0.5 0.9M166.5 104.1l-0.1 0.1M30.9 71.7l0.1 1.1M141.7 71.1l0.4 0.6M46.1 96.9l0.1 0.1M56.3 42.2l0.4 0.3M60.4 99.7l-0.4 0.2M71.8 150.2l0.1 0.1M139 124.3l-0.2 0.1M49.1 169l-1 0.1M105.9 147.7l-0.9 0.5M154.4 97.8l0.1 0.3M14.1 133.7l0.2 0.1M196.9 94.3l0.5 0.5M104.3 48.5l0 0.1M136.4 152l0.7 0.8M43.9 96.1l0.6 0.2M114.6 80.5l-1.4 0M145.2 155.1l0.7 0.3M75 32.6l-0.8 0.1M72.1 168.1l0.3 0.4M23 82.9l-0.3 0.9M171.2 119.5l-0.2 0.4M170.4 136.9l-0.5 0.8M137.8 71.7l-0.2 0.4M61.1 74.7l-0.4 1M67.5 16.1l0.4 1.5M149.3 48l-0.8 0.4M181.9 145.9l0.3 0.2M163.5 53.3l-0.1 0.5M20.3 145.4l0.5 0.9M152.2 137.3l-0.1 0.4M90.4 143.2l0 1.6M178 157.5l0.2 0M175.1 53l-1.6 0.6M159.9 78.8l-0.7 0.2M94.6 193.8l-1.1 0.2M22.2 86.1l0.8 0.3M155.5 48l0.3 0.3M114.8 67.5l0.6 0.1M69.7 126.3l0.1 0.3M176.8 150.2l-0.1 0.2M120.4 93.1l0.1 0.7M12.1 114.3l0.2 0M78.1 39.1l-0.5 0.9M34.8 69.6l0.3 0.2M54.8 181.6l-0.2 0.2M174.9 142.4l0.7 1M112.7 14.6l-0.2 0.5M86.8 186l0.7 0.4M99.8 60.4l-0.1 0.1M143.8 44.1l0 0.4M157.3 180l0 0.1M49.3 154l0.6 0.9M77.8 193.2l0.4 0.3M19.6 68.6l0.5 0.2M106 189.1l0.4 0.2M130.8 142.2l0.1 0.1M65.8 149.9l0.3 0.1M149.7 149.2l-0.1 0.1M162.1 83.7l1.2 0.5M182.6 153.5l0.3 0.1M128.4 162.7l0 0M145.6 40.2l0.1 0.4M90.3 195.7l-1.2 0.8M59 31.8l0 0M34.8 120.6l-0.5 0.6M188.4 139.1l-0.1 0.6M74.4 121.3l0.7 0.5M52 133.8l-0.5 0.8M187.3 88.8l0 0.1M51.6 163.8l-0.1 0.5M58.6 185.5l-0.2 0.2M25.3 121.2l0.5 0.3M117 147l0 0.4M64 163.9l-0.3 0.2M109.2 194.6l0.1 0M77.2 148l0 0M61.1 18.4l0.4 0.1M119.9 15.9l-0.2 0.3M115.4 191.4l0 0.3M110.1 49.6l0.8 0.9M96 12.9l0.1 0M194.7 86.4l-0.2 0.2M60.4 155.5l-0.8 1.1M135.4 171.1l-0.1 0.3M131.1 151.8l1 0.4M111.9 58.6l0.9 0.4M93.5 90.1l-0.4 0.1M118.5 99.5l0.4 0.6M53.5 118.7l1.8 1.2M151.5 103l0.2 0.5M49.4 169.8l-0.1 0.1M189.7 109.4l0.4 0M166 113.2l-0.2 0.1M179.6 83.8l0.1 0.4M54.9 136.2l0.8 0.4M51 171.4l0 0.1M133.7 170l-0.5 0.1M160.8 121.6l-0.1 0M63.3 123.4l-0.2 1.5M105.6 188.9l0.2 0.1M73.1 148.4l-0.7 0.1M194.3 87.4l0.1 0.2M162 48.7l-0.4 0.3M149.1 51.5l-0.7 1.1M80.2 52.6l0 0.1M190.2 71l-0.5 0.6M161.3 28.8l0.3 0.3M39.3 35.5l-0.3 0.4M130.1 24.1l-1.3 0.7M90.9 91.1l-0.2 1.6M54.9 180.7l0.1 0.2M184.5 137l0.1 0.1M24.7 65.3l0.4 0.1M161.2 126.3l-0.6 0.2M48.6 63.7l-0.2 0.3M155.5 45l0.2 0.2M64.5 125l-0.2 0.1M40.7 109.6l-0.1 0.5M69.1 87.9l0.5 0.8M28.6 52.6l1.2 1.7M48.4 132.1l-0.5 0.7M96.2 78.7l-0.1 0M172.8 160.1l0 0M80 193l0.6 0.7M181.5 57.4l0 0M107 59.7l0.9 0M125.2 132.9l0.6 0.6M166.8 90.8l0.6 0.1M153.8 40.4l0.2 0.3M73.8 70.3l-0.9 0.3M183.2 147.5l-0.8 0.1M179.8 84.2l-0.5 0.5M57.7 119.7l-0.6 0.1M174.9 69.1l0.5 0M56.1 82.8l-0.7 0M79.9 189.6l0.1 0.6M95.4 59.5l0 0M11.8 93.1l0.8 0.1M190.2 139.5l0.8 0.1M101.1 166.2l0.2 0.4M31.5 93.9l-0.3 0.3M179.1 119.6l-0.3 0.5M69.8 141l-0.3 0.3M111.5 72.1l0.3 0.3M91.6 146.4l-0.1 0.9M175.6 159.4l0.4 0.8M76.4 190.3l1.2 0.7M70.3 30.6l0 0.8M103.6 38.9l0.3 0.2M121 181.2l0.4 0.1M180.5 153.4l-0.1 0.5M95.6 44.1l0.6 1.1M52.2 174.5l0.2 0M171.7 161.6l-0.1 0M44.8 45.6l-0.2 0M112.9 43.9l0.9 0.3M90.6 71.4l0.5 0.1M68.7 110.9l0 0.7M27.2 154.8l0.2 0.4M189.7 82.2l-0.3 0.3M112.7 42.8l-1.3 0.2M165.9 168.2l-0.2 0.1M191.2 93.8l0.1 0.8M65.7 143.4l-0.2 0.4M115.5 17.8l-0.3 0.5M27.8 62.4l0.1 0.5M130 31.1l0.1 0.1M28.1 68.6l-0.5 0.7M115.7 172l0.5 0.5M25.5 51.4l0.1 0.4M151 130.6l-0.5 0.2M112.8 173.1l-0.4 1.1M14.7 85.6l0.5 0.3M43.8 81.7l-1.2 1.2M168.1 33.5l0.5 0.6M134.4 117.6l-0.7 0.3M132 190.7l-0.1 0M107.6 152.5l0 0.4M157.4 37.2l0.1 0.2M77.2 12.5l-0.1 0.1M179.6 58.4l0.2 1.4M177 126.1l0 0.1M147 41.4l-0.8 0.3M112.4 76.9l0 0M46.9 110.1l1.4 0.1M147.1 80.6l-0.1 0.1M48.2 28.1l0 0.1M14.5 82l-1 0.8M141.6 111.8l0.5 0.3M43.8 70.3l0 0.3M67.3 47l0.7 0M175 123.3l-0.1 0M144.7 84.5l-0.3 0.5M134.2 55.4l-0.1 0.3M194.2 90.5l0 0.5M131.8 139.3l0.1 0.2M170.8 115.7l-0.7 1M137.9 165.2l0.5 0.2M182.1 84.8l-0.1 1.2M145.2 124.6l-0.1 0.2M67.1 57.8l0.4 0.4M195.7 99.5l0.3 0.1M172.4 163.4l-0.7 1M132.1 164.4l-0.3 0M113.6 195.1l-0.2 0.1M63.9 155.4l0.3 0M90.3 103.2l0 0.4M123.5 103.2l0.1 0.3M64.2 87.8l0.6 0.2M116.6 142.7l0.2 0.5M165.2 154.3l-0.2 0.5M114.4 190.3l0.5 0.3M46 45.5l-0.4 0.1M103.2 173.4l0.8 0.8M54.5 154.3l-0.7 0.1M91.1 63.9l-0.3 0.2M100.2 109.1l-0.3 0.7M106.2 34.9l0.4 0.3M194.6 84.8l-0.6 0.4M110.8 18.6l-0.2 0M90.8 143.1l0 0.7M47.8 116.3l0.1 0.1M28.1 65.6l0.8 0.4M80.4 15.2l-1.1 0.5M166.2 56.6l0.4 0.7M115.7 53.8l0 0.1M76.4 179.2l-0.1 0M45.3 160l-0.7 0.4M175.3 49.3l-0.2 0.3M105.7 63l1.5 0.3M159.3 60.4l0.1 0.2M122.5 55.2l0.5 0.2M138.8 61.2l0.3 0.1M134.8 166.6l0 0.1M123.4 16l-0.5 0M110.1 190.1l-0.3 0.7M118.2 191.5l0.6 0.1M87.3 95.4l0 0.1M150.3 169.6l1.5 0.3M116.2 9l1.5 0.3M90.8 135.7l0.9 0.5M145.8 51.6l0 0.1M77.7 152.4l0 0.3M173 105.3l0 0M24.6 82.9l0 0M134.7 17.4l-0.3 0.2M179.7 64.4l0.4 0.3M159.7 120.5l2.2 0.5M170.5 127.1l-0.1 0.2M81.7 193.3l0.4 0.8M136.1 126.4l0.2 0M10.6 115.3l0 0M186.6 58.1l0 0.1M155 79l0.8 0.7M182.2 57.8l-0.2 0.5M173.3 64.6l0.3 0.4M60.8 109.6l0 0.2M96.8 42.1l0.1 0.2M65.6 73.1l-0.8 1.5M86.4 65.2l0 0.6M48.6 103l-0.4 0.6M134.9 185.7l-1.3 1.9M43.1 112.4l0.3 0.2M62.5 81l0.1 0M64.6 112.4l-0.6 0.3M171.5 76.7l0.1 1.8M9.3 97l0.3 0.4M108.5 140.6l0.3 1.1M71.7 99.2l-0.3 1.3M116.1 172.3l1.5 1M46.2 159.6l-0.3 0.9M69.6 39.4l-0.7 0.1M138.9 62.4l0.8 0.3M190.1 70.7l0.2 0.3M151.4 116l0 0M74.6 59.5l0 0M181.2 89.5l1.1 0.2M104.5 90.6l0.4 0.3M15 98.2l1 0.3M84.5 67.4l0 0M36.2 44.8l-0.4 0.3M70 109.4l-0.3 0.2M85.5 173.3l-0.3 0.3M122.6 15.3l-0.7 1.1M85.3 39.5l-0.5 0.4M27.1 152.9l0.2 0.3M70.1 171l0.3 0.4M181.4 142.4l-0.2 1.1M128.2 31.6l-0.2 0.9M43.1 78.9l-1.4 0M95 188.4l0.6 0.4M184.9 91.1l0.4 0M178.4 100.7l-0.5 0.2M37.5 132l-0.1 0.1M158.2 55.9l0.3 0.6M149.8 178.7l-0.5 0.2M107 35.7l-0.2 0.7M108.7 189l0 0.4M32.4 53.3l-0.1 0.8M63.4 20l-0.9 0.5M135.1 138.6l0.3 0.7M106.1 75.7l-0.1 1M53.1 167.9l0.1 0M84.9 119.5l-0.1 0.8M18.9 141.2l-0.1 0.5M41.3 139.3l0.5 0.4M129.8 107.2l0 0M134.7 187.3l0.3 0.1M104.8 194.7l-0.5 0.3M183.8 150.7l0.9 0.6M122.2 168.8l-0.9 0.4M60.5 46l0 0.2M144.9 104.6l0.8 0.5M74.5 148l0 0.1M59.5 151l0.2 0.8M129.5 163.9l0.3 0.3M25.9 156.4l0 0M114.9 65.7l0 0M186.5 127.5l0 0.1M166.9 153l0.1 0.3M91.1 125.4l0 0.2M96.7 90.4l0.2 0.3M127.3 79.1l0.1 0.1M113.4 36.2l0 0M178.9 53.9l0.1 0.3M58.4 33.6l0.1 0.8M172.3 162.1l0.2 0.1M146.8 18.7l0.6 0.3M123.4 12.6l0 0.1M155.3 67.1l-0.6 0.5M62.3 174.2l0.2 0M85.5 26.7l-1.8 0.5M109.2 170.7l-0.3 0M151.4 176.3l0.2 0.1M128.2 68.6l-0.7 0.4M166.4 148.1l-0.1 0M38.2 112.2l0.4 0.4M138.5 150l-0.2 0.3M53.2 33l0.1 0.7M152.7 149.4l0.1 0M149.5 27.7l0.2 0.4M110.9 190.8l0.1 0.1M124.6 120.8l-0.3 0M47.6 172.5l0 0.1M134.2 64.7l0.8 1M22.3 87.4l-0.4 0.2M120.3 50.2l-0.1 0M133.2 33.3l0.3 0.9M118.7 121l0.1 0.3M161.9 86.2l-0.2 0.5M111.3 128.7l0.6 0.1M56.5 41.2l-0.2 0.9M145.5 38.2l0 0.1M144.5 169.2l-0.1 0.4M130.4 173.9l-0.3 0.2M112.4 151.6l0.2 1.4M192.6 76l0 0.4M59.8 167.4l0.2 0.2M138.2 92l0.2 0.2M34.6 139.3l-0.8 1M63.3 95.6l-0.9 0.2M25.6 102.7l0 0.1M169.5 117.5l-0.6 1.9M117.3 11.1l0.1 0.1M91.3 175.2l0 0.1M51.4 28.2l0 0M33.9 153.1l0.1 0.1M104.7 21.6l-0.2 0.3M144.8 172.3l0.7 1M134.4 186.6l-0.8 0.2M160.1 146.8l0 0M44.5 151.2l-0.4 0.1M53.5 106.5l-0.4 0.1M37.4 85.6l-0.3 0.5M34.7 138.4l0.7 1M179.9 118.2l0.2 0.2M149.2 181.7l-0.1 0.1M132.1 144.9l0.1 0.2M76.7 136.9l-0.3 1M162.2 101l-0.7 0.1M107.8 190.6l0.1 0.1M90.3 106.9l-0.3 0.1M34.5 161.1l-0.3 0.3M29.3 155.9l-1 0.1M97.4 185.9l0.3 0.3M51.5 61.4l0.1 0.1M146.7 164.2l-0.2 0.2M36.6 50.6l-0.1 0.1M125.2 97.5l0 0.1M140.6 153.5l0.1 1.2M139.3 171.6l-0.2 0.3M128.7 118.4l-0.1 1.2M98.3 75.3l-0.3 0.1M149.4 129.5l0.1 0.1M134.6 175.3l-0.1 0.6M164.6 38l1 0.7M192.3 124.2l-0.2 0M157 122.7l0.8 0M183.1 73.5l0.1 0.2M50.8 140.7l-0.4 0.1M31.8 103.2l0.3 0.3M151.8 176.4l-1.4 0.3M25.5 127.3l-0.9 0.1M48.2 106l-0.2 0.9M176.6 84.8l0.6 0.5M117.4 37.4l0.1 0.9M126.2 170.4l-0.1 0.7M81.5 168.4l-0.1 0.1M76.9 117.7l0.1 0.6M134 183.7l-0.3 0.5M27.2 105.7l-0.4 0M113.3 69.1l0.3 0.3M176.6 84.5l1.4 1M60.8 51.7l-0.1 0.1M90.6 16.5l0.4 0.4M39.5 33.4l-0.9 0M87.5 47.4l0 0.1M65.5 22.5l0 0.9M167.4 83.1l0.9 0.4M72.1 18l0.9 0.6M20.7 95.3l0.1 0M78.6 55.4l0 1.1M62.2 44.6l0 0.1M70.6 100.2l-0.3 0.3M101.5 32.1l0.6 0.3M96.2 94.2l-0.2 0.5M101.5 133.8l-0.3 0.2M160.3 130.8l0 0.4M139.9 59.4l0.1 0.4M183.8 121.1l-0.3 0.1M93 64l-0.3 0.1M24.5 147.4l-0.3 0.4M170.3 131.9l-1.6 0.2M77.5 110.2l0.5 0.6M139.6 183.9l-0.6 0.5M160.7 88.4l0.3 0.2M175.6 132.6l-0.7 0.2M67.1 105.4l0.6 0.4M41.7 57l0.2 0.9M171 119.2l-1.8 0.6M55.7 165.2l0.1 0M88.1 104.5l0.2 0.3M126.3 48.2l0.3 0.3M58 176.1l0.3 0.2M56.2 82.4l-0.4 0.1M63.9 138.1l0 1.1M37.2 133.1l0 0.1M26.4 122.3l0.3 0.3M189 122.2l-0.1 0.8M28.9 61.1l-0.4 0.9M23.4 140.6l-0.8 0.7M44.5 177.3l-1 0.3M119.2 161.1l0.7 0.3M173.2 113.3l0 0.1M152.6 173.1l0 0.1M191.6 84.2l0 0M87.3 41.1l-0.6 1.4M45.6 143.5l0.3 0.6M79.2 29.3l0.5 0.2M48 86.9l0.3 0.9M115.5 50.3l-0.9 0.3M135.4 66.9l0.6 0M82.6 168.8l0.7 0.3M50.6 179.5l0 1M50.3 46.3l-0.4 0.3M37.1 158.7l-0.1 0.2M161.7 142.9l0.4 0.6M40.2 137.8l0 0.6M81.9 186.3l0.2 1.6M108.6 62.1l-0.4 0.5M43 174.4l-0.1 0.3M49.4 27l0.3 0.1M126.9 111.7l0.3 0.4M123.2 55.3l-0.5 0.2M79.1 11.2l-0.1 0.5M126.7 136.9l0 0.4M93 84.1l-1.5 0.7M154.5 137.5l-0.5 0.2M22.2 65.8l0.2 0.2M188.9 63.8l-0.4 0.2M33.7 126.1l0.1 0.3M56.9 46.6l0.5 0.4M47.7 54.6l0 0M57.8 57.8l0 0M96.3 54.7l-0.1 0.1M185.7 70.5l0 0M73.1 71.1l0.8 0.6M140.6 98.9l-0.7 0.6M82.3 189.2l-0.1 0.7M150.9 64.7l-0.1 0.3M82.7 138.2l-0.5 1.1M59.8 54.3l0.1 0.4M66.4 64.7l-0.1 0M157.9 71.4l0.2 0.5M75.2 188.2l-0.4 0.4M152.9 31l-0.1 0.4M96.2 148l0.1 0.3M78.8 175.2l-1.1 1.2M28.2 47.5l0 0.3M190.5 78l0 0.2M57.3 121l0.6 1.2M35 122.1l-0.8 0.9M91 105.2l-0.5 0.3M73.5 82.1l0.5 1.4M165.3 110.2l0 0M14.5 113.8l0.5 0.7M64.8 186.8l1.4 1.2M189.6 76.8l0 0M143.2 28.2l0.4 0.3M24.2 55.7l0.3 0.1M122.3 188.4l0 1.1M192.6 97.1l-0.2 0.1M148.4 48.3l-0.5 0M88.8 13.9l0.3 0.4M51.4 156.1l-0.2 0.1M48.1 46.2l0.1 0.2M111.8 21.6l-0.1 0M64.5 33.2l0.2 0.4M32 94.6l-0.3 0.1M43.9 58.6l0 0M167.4 164.6l0.1 0.3M24.4 126.2l0 0.3M63.5 61.8l0.6 0.7M173.4 85.2l0 0M86.7 150.3l0.1 0.1M62.5 177.4l-0.1 0.3M147.8 110.6l0.4 0.4M27.3 76l0.2 0M186.7 66.4l0 0.3M29.9 89.8l0.1 0.1M92.3 194.4l-0.6 0.4M123.2 48.1l-0.1 0.1M36.7 53.6l-0.1 0M118.8 64l-0.7 0.2M21.9 95.7l0.3 0.7M56.4 81.2l-0.4 0M118.3 162.4l-0.5 0.9M61.6 23l0.1 0.1M131.3 98l-1 0.3M25.7 83l0.2 0.1M96 20.3l0.1 0.4M59.4 151.9l0 0M97.9 162.5l0.6 0.7M70.8 27l1.3 0M159.7 39.8l-0.3 0.2M133.3 82.6l0.1 0.1M41.2 165.8l-0.2 0M137.8 32.6l-0.3 0M192.1 79.4l0.1 0.4M137.5 181.4l0.3 1.4M166 81.9l-0.1 0.1M126.8 159.9l-0.4 0.2M69.8 83.6l-0.6 0.8M65.6 107.2l-0.4 0.3M9.5 96.6l0.1 0.9M16.1 112.8l0 0.3M97.1 49.7l-0.7 0.5M156.9 108.5l0.1 0.6M38.6 34.2l0.3 0.1M133.6 89.9l-0.4 0.2M150.2 125.6l-0.3 0.4M103.6 35.7l0 0.1M83.9 158.8l-0.3 0.2M133.9 99.9l0 0.5M161.3 108.3l0.1 0.8M138.7 146.9l0 0M9.1 111.2l-0.2 0.6M33.8 47.1l0 0.1M67.7 38.2l-0.2 0.1M131.3 170.5l0 0.1M160.8 176.4l0.2 0.1M186.4 84.5l-0.8 0.4M170.2 119.3l0.3 0.1M48.5 53.2l0 0.5M188.5 72.1l0.2 0.3M187.5 79.5l0.2 0.1M181.4 66l0 0.1M52.6 67l-0.2 0.1M117.5 194.2l0.1 0.3M35.3 143.3l0.5 0.1M89.5 10.7l-1 0.6M77.9 186.4l-0.2 0.2M139 146.3l0.4 0.5M160.9 77l0.2 0.1M178.5 59.1l0.2 0.3M183.8 131.3l-0.3 0M35.3 132.9l0 0.5M83 174.8l1 1.4M31.9 77.2l0 0M80.3 187.1l0.2 0M150.9 176.3l-0.2 0.6M149.2 27.6l0.2 0.5M161.3 150.9l-1.3 0.2M118.8 185.1l-0.7 0M124.2 120.2l0 0M20.4 120.3l-1.2 0.4M88.7 193.6l-0.2 0.3M115.3 11.9l-0.6 0.1M102.6 25l0.4 0.1M79.6 177.5l0.1 0.2M125 180.8l-0.1 0.4M117.3 177.7l0.7 1.8M65.4 147.1l0 0.1M146.4 160.7l0.5 0.1M192.4 124.4l0.1 0.3M175.9 124.7l-0.6 0.6M91.7 22.7l-0.6 0.1M51.7 103.1l-0.2 0M45.1 58.1l0.2 0.5M18 138l-0.4 0.3M174.7 153.2l-0.6 0.5M104.1 26.6l0.3 0.1M164.7 95.6l0.1 0M110.3 48.8l0 0M32.7 123.7l-0.5 0.8M14.8 79.5l0 0M74.5 159.3l0.9 0M20.1 127l0.1 0.1M88.6 136.8l0.6 0.7M134.4 188.1l0.5 0.2M114.1 64.1l0.3 0.2M77 111.4l-0.2 0.1M106.2 132.6l0.1 0.1M116.1 158.8l-0.4 0.2M151.4 50.4l-1.1 0.4M68.4 57.5l0.5 0.9M127.8 75.7l-0.2 0.6M131.8 184.7l0 0.4M114.6 189.3l0.4 0.3M50.5 135.7l0 0.4M31.4 72.3l-0.1 0.3M130.8 16.8l-0.3 0.7M113.8 147.2l0.3 0.3M55.5 158.5l0.9 0.2M129.1 38l0.1 0.4M188.2 64.7l-0.4 0.6M57.3 22.1l-0.1 0M122.3 60.7l0.1 0.2M152.3 163.2l0.3 0.3M17.1 106.9l0.1 0M155.3 29.8l-0.6 0M138.1 185.8l-0.1 0.2M125.6 191.9l-0.1 0.3M139 130l0 0M33.8 104.4l0.8 0M115.2 61l1.1 0.4M74.2 183.4l-0.2 0.4M155 65.2l-0.1 0.4M131 187.3l0.2 0.5M139.3 21.8l-0.1 0M167.6 73.6l0.1 0.7M134.1 105l0.1 0.3M143.8 51.1l-0.5 0.6M93.2 191.7l0.1 0.2M71.6 174.6l0 0.1M143 170.2l-0.9 0.5M58 23.2l-0.9 0.3M52.4 162.5l-1 0.4M187.3 101.5l0 0M167.8 106.4l-0.3 0.2M147.2 37.2l-0.6 0.1M58.7 38.8l0.7 1.7M114.2 79l-0.1 0.1M133.6 51.2l0.2 0.2M74.2 14.2l0.2 0.3M37.6 67.6l0.1 0M60.9 58.4l0.1 0.1M19.7 127.4l0.1 0.6M88 14.3l-0.1 0.2M148.6 181.3l-0.2 0.4M185.1 126.7l0.3 0.1M67.3 88.8l-0.5 0.4M46.6 130l0.1 0.8M80 100.1l-1.1 0.3M193.8 109.4l0.8 0.7M60.1 38l-0.2 0.2M137.5 69.2l-0.4 0.1M75.4 79.9l0.8 0.8M45.3 164.2l-0.2 0.7M51.4 29.7l0 1M67.7 45.2l0.4 0.3M118.3 186.7l0.1 0.1M77.5 134l0.2 0.2M141.8 186.9l0.1 0.1M64.9 45.9l0 0M102 178.5l-0.2 0.2M149 79.9l0 0.7M161.5 70.7l-0.3 0.1M146.9 81.1l0.5 0.5M145.2 71l0.5 0.2M136 76.7l0.1 0.1M40 167.6l0.7 0.8M190.5 136.4l0.1 0M144.2 89.1l-0.2 0.3M158.4 168.6l-0.1 1.2M58.4 142l-0.3 1.1M127.5 113.8l0.2 0.2M143.2 182.1l0 0.4M116.6 133.6l1.1 0.3M171.5 101.4l-0.2 0.3M121.5 24.6l0.1 0M93.7 87.4l-0.3 0.2M127 170.9l0.7 0.1M88.9 11.1l-0.2 0.5M143.3 166l0.1 0M166.1 160l-0.5 0.5M27.3 133.8l0 0.6M116.5 53.2l0 0.2M139.3 170.4l0.3 1.1M56.7 163l0 0M145.5 183l-0.4 0M161.7 176.4l-0.6 0.4M189.7 137.8l-0.1 0.8M84.8 27.8l-0.1 0.1M61.4 20.3l-0.4 0M94 73.3l-0.5 0.3M83 35.8l-0.2 0.1M133.6 76.5l0.5 0.7M105.8 195.7l-0.1 0.1M88.1 20.1l0.2 0.3M92.5 13.8l0 0.2M60.3 31.9l0.1 0M79.9 26.2l-0.1 0.4M186.4 75.6l-0.8 0.5M141.4 123.8l0.4 0.4M166 70.7l-0.2 0.8M103.7 14.5l0.3 0.8M135.2 79.8l0.2 0.4M150.7 20.6l-1.2 0M111.2 38.4l0 0M164.4 71.8l0 0.6M145.2 72.1l-0.1 0.7M42.4 143.5l-0.5 0M62.8 23.3l-0.2 0.3M119.3 37.9l-0.2 0M46.5 63.7l0.5 1.3M146.4 23.8l-0.4 0.6M132.6 53.2l0 0M136.4 15.2l0.4 0.3M10.6 95.1l0 0M173.2 40.5l0.7 1.2M173.1 78l0.5 0.7M170.5 43.2l-0.6 0.6M182.1 65.8l0.1 0.1M183 129.5l-0.1 0.4M103.5 148l0.2 0.2M181.9 126.2l-0.3 0.5M193.2 87.9l0.2 0M38.4 74.1l0 0.2M52.3 134.7l1.2 0.4M86.9 166.6l0.1 0.6M100.6 178.1l0 0.2M192.5 75.3l0.3 0.3M57.5 183.2l0.4 0.8M153.7 175.5l-0.3 0.2M38.8 43.8l-1.1 1.2M107.6 14.9l0.1 0.2M13.3 107.4l-0.2 0.2M158.9 176.2l0.8 0.1M172.8 149.8l-0.3 0.3M159.9 135.7l0.4 0.3M84.8 68.8l0 0.4M54.2 179.7l0.3 1.1M187.2 92.9l-0.4 0.7M168.5 141.5l1.2 0.4M88.8 159.1l-0.4 0.2M67.5 40.9l0 0.3M141.9 185.8l-0.1 0.2M127.8 48.8l-0.2 0.5M168.1 87.4l-0.6 0M52.3 103.5l-0.1 0.1M108.7 195.7l-0.5 0.2M120.7 18.4l-0.2 0.2M84.5 99l-0.1 0.1M49.9 46.6l1 0.5M81.4 14.8l-0.4 0.6M84.6 21.7l0.1 0.3M167.9 120.1l-1.3 0M174 155.9l0.2 0.4M109.2 190.2l0.1 0.4M120 60.7l-0.1 0.3M109.7 9.3l0 0.1M83.3 97.1l-0.3 1M163.8 35.6l0.1 0.5M161.4 50.2l0.1 0.3M75.6 170.6l-0.3 0.1M189.2 124.6l0.3 0.2M156.2 75.2l-1 0.2M135.1 164.4l-0.8 0.4M190.1 102.5l0.5 0.3M55.1 183.2l-0.3 0.3M119.6 27.5l-0.1 0M148.6 158.3l0 0.2M100.1 85.2l0.4 0.1M33.2 49.1l0.4 0.5M153 67.3l-0.1 2.1M179.8 152.8l-0.4 0.3M157.7 33.3l0.8 0.3M54.2 180.7l0 0.2M26.6 77.8l0.4 0.5M99.7 14.1l0.2 1.9M34.3 37.3l0.2 0.7M122.6 155.6l-0.3 0.3M193 97.9l-0.6 0.6M66.2 118.6l0 0.1M31.8 147.1l0 0M98.1 7.8l0 0.1M169.8 40.3l-0.2 0M59.3 130.6l0 0.1M109.9 31.2l0 0.1M163 126.3l0.3 0.6M154.4 151.5l0.1 0M138.5 87.1l0 0.1M58 46l0.2 0.2M183.3 87.4l0.6 0.8M183.2 111l-0.1 0M101.4 43.4l0.4 0M38.7 87.3l-0.6 0M182.7 143.2l-0.3 1.1M191.3 116.9l1 0.7M194 91.9l0.8 0.7M162.1 44.8l0.5 0.2M158.7 37l0.2 0.2M122.9 26l0 0M182.9 146.5l0.1 0.3M44.5 32.6l0.4 0M41.9 161.3l0.3 0.8M30.3 124.7l-0.1 0.1M37.3 150l-0.5 0.2M146.5 61.1l0 0.5M155.5 100.5l-0.3 0.3M46.1 52l-0.5 0M151.8 180.6l0.7 0M89.5 176.5l0.1 0.3M181.7 51.1l-0.9 0.2M168.6 167.3l0.3 0M32.7 115.9l1.2 0M108.2 48.5l0 0.7M136.7 126.3l0.1 0.3M118.4 71.1l-0.8 0.1M167 54.1l0.4 0.9M20.5 73.6l-0.1 0.2M84.4 149.3l0.2 0.6M70.3 166.4l-0.4 0.3M154.5 98l0.6 0.4M53 178.3l0.9 0.4M79.7 95.1l0.6 0.2M69.2 99.3l-0.4 0.2M123.2 24.6l0.8 0.5M147.9 172.1l0.5 0.1M144.3 40.5l0.9 0.7M122.9 188.9l-0.4 0.7M87.4 186.4l-1.5 0.1M154 131.6l-0.2 0.1M20 58.2l0.4 0M83.2 13.1l0.1 0M26.1 81l0.3 0.2M90.1 137.3l0.1 0.1M166.1 134.7l-0.2 0.4M53.2 125.9l-0.2 0M166.5 58.3l-0.5 0.3M194.5 91.1l0.2 0.5M125.7 14.8l0.2 0.3M34 106.5l0 0.1M87.5 128.3l0.1 0.4M150.2 38l-0.1 0.3M68.2 151.7l0.6 0.7M184.7 123.8l0 0.4M190.4 92.6l0.1 0.1M57.9 47.3l0.1 0.2M102.9 183.8l-0.3 0.1M60.5 147.5l0 0M143.7 87.8l0.3 0.4M165.9 164.3l-0.1 0.1M97.2 194.3l0.1 0.2M179.5 143.4l-1.8 1.7M118.9 10.1l-0.2 0.1M193.8 100.7l-1.4 1.2M145 173.6l-0.6 0.5M179.8 75l0.7 0.3M85.3 50.5l-0.3 0.5M80.1 21.3l-0.3 0M134.7 90l-0.2 0.8M16.8 78.7l0.1 0.4M141.4 128.1l0.3 1.5M74.6 168l0 0M32.1 82.8l0.6 0.5M55.5 183.7l0 0M44.2 50.4l0 0M158.1 53.1l-0.2 0.5M163.8 169.9l0.3 0M165.7 56.8l0 1M54.9 157.1l0.3 0.9M85.8 10.6l0 0M43 162.9l0.9 0.1M43.1 46.6l-0.1 0.1M80.7 42.1l0.6 0.4M87.9 69.2l-0.7 0.8M60.9 73.5l-0.3 0.1M195.5 106.5l0 0M76.7 21.1l0 0M104.2 88l0.8 0.5M11.2 101l0.2 0.2M84.6 192.3l0.4 0M145.1 171l-0.1 0.1M145.4 185.7l-0.1 0.3M119.8 180.1l-0.2 1M137.3 14.1l0.2 0.2M108.2 33.9l-0.9 0.3M80.2 164.9l3 0.2M171.3 69.3l0 0M151.4 160.4l-0.2 0.2M167.9 110.7l-0.5 0.5M71.5 160.6l-0.3 0.1M169.8 156.1l0.2 0.8M35.6 36.7l0.6 0.8M82.6 65.6l-0.4 0.3M42.5 137.8l0.4 0.1M34.5 139.2l0 0M38.3 159.1l0.5 1.6M17.6 97.3l0 0.2M96.9 192.4l-0.3 0.6M42.1 93.6l-1.2 0.3M53.5 181l0.1 0.1M22.8 56.1l1.1 1M179.9 62.4l-0.3 0.4M138.7 169.1l-0.4 0.1M151.8 125.3l0.1 0.4M84.8 188l-0.2 0M122.4 53l0.1 0.1M167.1 38.3l0.2 0.1M105 169l-0.1 0.1M83.8 76.6l-0.1 0.1M123.3 188.7l0 0M79.7 181.5l0.1 0.2M29.6 160.4l0.1 0M18 68.5l0.1 0.2M190.5 129.4l-0.1 0.4M190.3 93l0 0.1M77.8 188.5l1.2 0.2M72.9 75.5l-0.2 0.2M141.5 159l-0.1 0.2M98.4 17.5l-0.1 0.1M185.9 58l-0.2 0M196.7 95.5l0.1 0.2M86.9 151.6l-0.1 0.2M107.2 27.9l0.2 0.6M126.1 165.5l-0.2 0.4M50.5 38.1l-0.3 0.3M18.7 78l-0.2 0.6M62 130.2l0.1 0.1M155.9 129.1l-0.2 0.3M13.6 92.6l0.1 0.8M184.3 131.2l-0.1 0.3M147.7 88.9l0.1 0.2M71.3 64.7l0.4 0.2M72.8 169.1l-0.4 0.5M195.7 104.9l0.2 0.3M160.7 146.2l-0.4 0.2M127.7 191.5l0 0.2M50 91.7l-0.7 0M11.5 115.8l0.2 0.2M171 154.2l-0.1 0.2M162.4 104.8l0.6 0.4M165.1 162.7l0.6 0.8M171.9 151.4l-2.3 0.5M80.2 11.1l-0.4 0.6M11.7 83.8l0.2 0.1M147.1 71l1.1 0.6M125.7 52.1l0.1 0M137.9 136.6l-0.3 0.5M81.9 111.1l0.3 0.8M45.3 134.5l-0.1 0.5M44.1 174.4l0 0M90.7 88.6l0.2 0.3M166 45.2l-1.2 0.7M192.4 104l-1.2 0.8M52.1 129.4l0.3 0.5M159.2 72l-0.1 0.9M111.6 180.2l0.1 0.3M111.2 59.4l-0.2 0.2M73.1 56.2l0.4 0.2M26.4 116.1l-0.3 0M87 72.3l-1.2 0.2M159.1 73l0.6 0.5M50.4 122.8l-0.3 0.2M27.8 98.8l0.2 0.3M169.8 117.4l0.1 0.1M24.2 78.4l0.3 0.3M125.6 70.9l0 0.3M120 84.6l0.5 0.7M190.4 104.5l-0.3 0.1M154.2 127.9l0.3 0.4M170.9 112.1l-0.3 0.7M105.3 119.2l-0.4 0.5M137.4 30.1l0.9 0.1M27.3 70.1l-0.7 0.5M62.7 179.9l0.7 0.7M55.1 152.5l0.4 0.2M86.4 176l-0.2 0.3M174.9 43l-0.3 0M159.1 107.5l-0.2 0.6M75.7 110.1l-0.4 0.1M80.2 191.9l0.2 0.3M79.6 177.3l0.6 0.7M168.3 40l0.1 0.1M114.6 180.5l0.1 0.1M79.2 21.5l0.1 0M173.2 106.9l-0.5 0.5M62.9 138.8l-0.1 0.1M161.2 48.3l-0.3 0.2M76.2 86.3l-0.7 0.5M149.4 148.1l-0.1 0.1M152.4 104.4l0.3 0.9M101.1 14.9l0.9 0.8M150.2 91l0.2 0.2M189.9 136.6l-0.5 0.8M129.8 27.7l-0.5 0.1M146.6 166.1l-0.7 1.5M176.7 61.3l-0.6 0.8M52.9 29.5l-0.7 0M147.6 35.1l0.3 0.1M72.4 21.2l-0.4 0.5M139.1 157.4l0 1M20.3 98.7l0.1 0.3M180.1 68.3l-0.3 0.7M106 31.6l0.3 0.2" stroke="#726a7a" stroke-width="1.3" stroke-linecap="round" fill="none" opacity="0.55"/><path d="M44.3 167.7l0.2 0.8M145 173.1l-0.1 0M184.9 78.2l0.2 1.2M119.4 96.3l0.3 0.1M192 124l0.2 0.3M190.6 103.8l0 0.1M36.9 159.9l-0.2 0.4M193.8 92.4l0.5 0.3M80.6 90l0.3 0.1M142.2 156.4l-0.4 0.2M152.7 104.6l1.1 1.7M121.7 11.4l-0.1 0.5M33.6 75.5l-0.1 0.4M46.5 138.3l-1.7 0.2M164.1 172.6l1.1 0.2M73.7 69.1l0.8 0.9M60 22.6l-0.7 2M126.9 184.9l0.2 0.3M89.1 45.3l0 0.1M147.1 112.4l-0.1 0.2M184.4 147.1l0.3 0.1M162.1 97.9l0.2 0.3M57.7 150.5l0 0.2M162.5 173.4l-0.3 0.8M125.5 59.2l-0.2 0M19.6 58.8l-0.2 0.6M30.3 134l0.5 0.3M121 25.7l1.7 0.5M133.4 183.9l-0.2 0.7M178.1 129.7l0.3 0.8M147.1 157.8l-0.1 0M130.1 51.2l-0.6 0.4M56.5 181.4l0 0.1M192.3 126.9l0.6 0.2M71.6 97.8l0 0.5M178.5 147.1l-0.3 1.6M169.9 166.8l-1.4 0.7M83.2 164.2l-0.3 0.1M114.6 8.2l0.9 0.2M45 77l0.1 0.1M96.9 194.5l0.9 1.1M129.7 178.3l0.1 0.1M78.9 75.9l0 0.1M54.2 176.8l0 0M195.5 94.9l0.2 0.4M129.9 74l-0.3 0.1M115.8 9.6l-0.3 0.2M177.4 153.3l0.1 0.6M85.9 169l-0.2 0.1M61.7 144.8l-0.1 0.7M106.7 46.7l-0.4 0.4M175.3 102.1l-0.6 1.3M136 66.2l-0.3 0.1M98.8 192.6l-0.2 0.4M126.4 193.9l0.1 0.7M85.1 168.8l0 0.1M190.7 67.5l0.2 0.2M169.9 148.4l1.6 0.8M187 60.3l-0.4 0.8M92.3 154.6l-0.4 0.1M111.8 191.5l0.7 0.1M58.6 171.5l-0.6 0.8M73.4 143.3l0.3 0.3M156.2 58.2l0.1 0.4M19 136.8l-1.2 0.6M63.8 161.4l0 0M171.4 90l0.4 0.2M104.9 174.2l-0.2 0.4M197.5 98.5l0.3 0.5M20.6 137.1l-1 1.5M194.6 95.5l0 0M87.7 190.4l-0.4 0.5M128.6 144.9l-0.1 0.7M159 146.9l0 0.2M190.6 128l0.1 0.1M189.1 64.7l-0.3 0.1M100.4 169.1l-0.1 0.2M86.2 195.2l1 1.5M84.2 192.8l-0.2 0.5M139.1 89.8l-0.5 1.3M167.3 166.8l-0.8 0.8M91 180l0.3 0M122.5 189.2l-0.8 0.4M189.2 66.1l0.4 0.7M192.4 104.8l-0.4 0.2M142.7 185.1l0.1 0.4M59 118.9l-0.4 0.6M70.7 114.9l0.2 0.2M130.5 87.2l0.5 0.2M40.4 92.2l-0.7 0.3M180.1 143.6l-0.2 0M193.7 81l0.5 0.6M150.9 153.8l-0.2 0.4M137.9 164l-0.1 0.1M160 176.1l0.5 0.2M148.3 60.1l-0.3 0.9M191.6 72.5l-0.1 1.4M164.1 164.1l-1.1 1.4M140.3 129.2l0.1 0.1M103.7 190.8l0 0M189.2 116.8l-1.4 0.7M140.9 177l0.1 0.1M22 120.6l-0.1 0.5M179.4 151l-0.2 0.6M18.8 93.6l0.2 0M191.8 107l-0.1 0.3M110.5 185.6l-0.4 0.7M191.4 70l0.2 0.3M123.5 144.5l-0.1 0.1M150.9 24.6l-0.1 0.9M158.4 77.2l0 0M187.7 132.9l0 1.2M66.4 112.8l0.2 0.1M174.7 156.3l0.8 1.6M39.8 172.9l0.2 0.4M135.6 161.2l-0.3 0.2M60.9 130.7l0.7 0.1M174.2 102.8l-0.1 0.7M27.6 142.2l0.4 1.1M49.2 103.1l-0.7 0.2M181.1 73.3l0.1 0.7M59.5 61.3l-0.1 0.3M190.6 99.9l0.2 0.1M171.7 73.9l1.1 0.2M174.2 154.6l0.1 1M181.4 73.1l0.7 0.5M74.8 193.1l-0.8 0.5M145.2 66.8l0.3 0M166.8 128.7l0.3 1.1M88.6 194.2l-0.1 1.2M84.6 67.1l-0.6 1.4M189.9 79.3l0.4 1.2M80.4 192.6l0.1 0.3M92.1 54.9l-0.5 0.1M15.8 137.6l-0.4 0.4M110.2 90.3l0.5 0.4M176.3 161.3l0.2 1.2M83 191.6l0.9 0.8M177.6 44.8l0.6 0.2M126.8 140l0 0.9M168.1 106l0.6 0.6M34 155.1l0 0M49 178.2l0.1 0.8M143.1 28.6l0 0.1M179.4 111.9l-0.1 0.1M190.6 88l0.3 0.5M101.1 66.2l0.1 0.1M18.2 98.6l-0.7 0M159 137l1.3 1.4M75.1 185.3l-0.7 1M117.7 188.9l1.1 0.2M55.3 156.6l-1.5 0.6M39.3 172.4l0 0.5M173.5 147.1l0.5 0.8M162.8 72.5l0.9 0.1M40.3 169.3l-0.9 1.5M24.1 53.9l0 0M57.7 93.2l0.2 0.3M113.4 66.8l0 0.1M52.4 177.8l0.2 1.2M52.1 53.2l-0.2 0M86.6 188l0.2 0.5M150 181.4l-0.9 0.3M110.8 20.8l0.5 0.2M61.4 132.9l0.3 0.9M148.3 102.7l-0.1 0M187 136.2l-0.3 0.7M183.5 64.8l-0.4 0.9M42.7 171.6l-0.6 0.2M192.7 130l-0.2 0.1M162.5 136.6l-0.9 0.3M181.8 66.3l0.1 0M189.6 127.1l0.4 0.6M124.8 190.5l-0.4 0.7M194.5 117.9l0.3 0.2M137.7 61.4l-0.1 0.4M67.5 108.8l0.1 0.4M74.7 166.1l0.2 0.2M51.8 165.5l0 0M169.3 161.9l0.2 1M193.1 115.5l1.6 1.1M144.4 187.1l-0.7 0.3M70.7 29.8l-0.7 2.4M188.5 88.4l0.3 0.7M143.1 30l0.6 0M127.1 183.6l-0.9 0.5M52.8 175.7l-0.3 0.2M191 74.9l-0.6 0.2M125.9 188.1l-0.7 0.8M90.6 188.7l-0.1 0.4M168.7 50l0 0.6M182.6 82.6l0 0M180.8 136.3l-0.6 1.3M18.9 126.3l-0.4 0.5M102.5 174l-0.3 1.1M192.2 93.8l0 0M125.6 124.9l-0.2 0.4M116.7 168.4l-0.1 0M196.6 117l-1.2 0.6M155.2 135.5l0 0.1M17.2 134.4l0 1.3M192.7 89.2l0.1 0.1M175.4 162.7l0.1 0.1M85.1 189.3l-0.8 0.3M119 78.1l0.4 0.1M118 194l-0.4 0.3M188.5 130l0 0.1M131.3 120.1l0.3 0.6M190.2 107.7l0.1 0.1M92.2 173.1l-1.5 0.1M73 192.2l-0.3 0.3M24.9 114.8l1.2 0.9M190.6 126.9l0.4 0.2M145.5 33.6l-0.3 0M37.3 168.9l0.1 0.1M48.7 179l-0.5 0M151.3 166.6l0.5 0.5M176 155.9l0.2 0.2M149.3 174.2l-0.2 0M161 79.1l0.1 0.3M161.5 29.1l0.1 0.4M40.4 164.3l-0.2 0.1M145.4 61l-0.3 1M9.6 103.1l0.3 0.7M138.4 190l-1.3 1.1M171.6 157.8l-0.1 0.1M169.6 165.3l0 0.8M134.2 191.8l0 0.1M99.9 86.8l-0.4 0.4M61 30.3l-0.2 0.8M132.8 130l0.3 0.7M192.7 126.7l0 0.6M136.1 134.5l-0.1 0.1M27.8 123.5l0.1 0.1M127.3 185.4l-0.1 0.3M39 32.8l-0.1 0.7M156.1 61.9l-0.9 0.6M166.6 152.4l0 0.5M147.9 179.1l-0.1 1.1M160.3 164.4l0 0.8M71.7 130.3l-0.1 0M189.5 133.6l0.4 0M62.2 181.7l-0.1 0.1M89.8 187.6l0.2 0.1M153.3 68.7l-0.8 0.2M75.5 144l0.8 0.5M193.1 127.2l0 0.1M188.4 117.5l1.3 0.4M24.1 96l0.8 1M149.9 181.1l0.6 0.9M189.2 120l0.1 0M71.3 191.2l0 0.1M69.8 47.9l-0.6 0M134.6 191l0 0M8.6 111.8l0 0.2M111.7 68.8l0.2 0.1M105.2 44.3l-0.2 0.8M171 51.2l1.5 0.2M178.7 137.3l0 0.2M52.2 53l-1.5 0.7M22.6 123.7l-1.2 0.2M152.5 176.5l0.2 0.2M126.4 184.9l-0.3 0M156.1 179.4l0 0.2M33.9 122.5l0 0.4M131.6 80l0 0M69.4 138.7l-1.5 1.3M193.9 99.4l0 0.4M132.1 104.2l-0.6 1.2M101.2 188.6l0 0.2M41.3 150.7l-1 0.2M118 170l-0.6 0.1M170.3 162l-0.1 0M188.4 131.3l0.2 0.3M48.7 118.7l0.2 0.5M134.8 20l-0.6 0.4M175.7 144.4l-0.1 0.1M93.6 28.3l0 0M63.8 75.7l0.1 0.1M77.7 188.5l0.2 0.6M94.2 9.6l0 0.5M159 162.8l0.3 0.5M100.3 54.6l-0.1 0.2M176.1 52.7l-0.1 0.2M100.9 48.1l0.3 1M147.2 184.8l0 0M184 88.6l-0.4 0.5M196.3 98.5l-0.2 0M177.8 106.6l0.2 0.6M62.5 116.2l1 0.5M129.3 12.5l0 0.1M73.1 182.7l-0.2 0.8M112 167l-0.1 1M58.2 181.6l-1.7 0.2M167.3 73.3l0.6 0.6M179.3 70.6l0.1 1.2M184.6 101.3l0.3 0.1M85 64.4l-0.3 0.2M150.2 84.3l-0.1 1.1M168 59.1l0.4 1.2M29.8 146.1l0 0.1M182.5 141l0.1 0.1M59.1 51.4l0.4 0.5M44.8 166.5l-0.4 0.2M141.9 142.2l-0.7 0.4M191.2 128.9l-0.6 0.8M145.3 183l1.6 0M23.2 64.3l-0.4 1M173.4 146.4l0.1 0.1M197 112.1l0 0.4M66.7 179.1l-0.4 1.3M179.9 80.9l0.1 0.1M162.3 154.4l1.1 0.3M120 67l-0.2 1.6M48.3 157.1l0.6 0.7M50.4 171.3l-0.8 0.8M108.7 193.4l-0.8 0.1M139.5 187.6l0.2 0.2M172.3 156l1.4 0.6M142.2 152.1l-0.1 0.4M122.6 193.9l0.1 1.1M77.8 192.4l0.3 0.1M171.1 43.7l1.4 0.4M169 74.8l-0.5 0.1M153.1 106.7l0 0M185.1 68.9l1.1 0.5M89.3 176.2l-0.3 0.9M30.3 41.9l-1.4 0M189.8 108.7l0 0.2M137.4 190.6l0.5 0.1" stroke="#654a78" stroke-width="1.8" stroke-linecap="round" fill="none" opacity="0.7"/><path d="M86 20.9l0.2 0.6M81.7 21.7l-0.8 -0.9M89.6 33l-0.2 -0.3M131.3 41.7l-0.5 0.5M155.7 35.7l0.6 0.9M164.3 43.5l0 0.2M166 46l0 -0.5M162.5 41.5l0.1 0.5M42.6 57.4l-0.7 0M79.1 60l-0.9 -0.6M28.7 69.6l-0.9 -0.1M83.5 66.1l0.4 0.6M18.3 91.3l0.5 0.4M88.7 101.7l0.9 -0.7M126.1 87l-0.6 -0.9M188.7 106.1l-0.8 0M38.3 127l0.4 0.1M95.7 133.9l-0.6 0.7M91.3 140l0 0.4M32.2 155.7l-0.1 -0.4M157.4 170.4l-0.1 0.7M110.4 182.6l-0.9 0.4M115.7 156.5l-0.3 -0.9M87 166.1l0.2 0" stroke="#552c78" stroke-width="3.1" stroke-linecap="round" fill="none" opacity="0.85"/></g></g><path d="M156 192.7A101.6 101.6 0 0 1 9.7 139.4" fill="none" stroke="#e2e1e5" stroke-width="1.5" stroke-linecap="round" opacity="0.8" filter="url(#bl05)"/><path d="M6.9 78.4A101.8 101.8 0 0 1 96.3 3.3" fill="none" stroke="#dcdde0" stroke-width="1.4" stroke-linecap="round" opacity="0.7" filter="url(#bl05)"/><path d="M203.8 113.3A99 99 0 0 1 181 168.3" fill="none" stroke="#e8e4ee" stroke-width="1.6" stroke-linecap="round" opacity="0.8" filter="url(#bl05)"/><path d="M6.3 102.4A96.5 96.5 0 0 1 151.1 18.8" fill="none" stroke="#d9d8e0" stroke-width="1.2" stroke-linecap="round" opacity="0.6" filter="url(#bl05)"/><path d="M101 2v18" fill="none" stroke="#d8d7df" stroke-width="2.5" stroke-linecap="round" opacity="0.8" filter="url(#bl1)"/><path d="M2 3l8 -3" fill="none" stroke="#f0f0f0" stroke-width="2" stroke-linecap="round" opacity="0.8" filter="url(#bl05)"/><rect width="208.9" height="208.7" filter="url(#grain)" opacity="0.12" style="mix-blend-mode:soft-light"/></g>
<g transform="translate(1476.5 323.6)" clip-path="url(#pclip3)"><rect width="209.5" height="208.7" fill="url(#pbg3)"/><ellipse cx="104" cy="-3" rx="38" ry="6.5" fill="#75678c" opacity="0.9" filter="url(#bl1)"/><circle cx="105.2" cy="105.2" r="102.6" fill="url(#pwall3)"/><g clip-path="url(#pout3)"><path d="M19.5 154.7A99 99 0 1 1 190.9 154.7" fill="none" stroke="#735a86" stroke-width="6" opacity="0.6" filter="url(#bl2)"/><path d="M181 168.8A99 99 0 0 1 29.4 168.8" fill="none" stroke="#b3afb8" stroke-width="6" opacity="0.8" filter="url(#bl2)"/></g><g clip-path="url(#pfl3)"><circle cx="107" cy="103.5" r="98" fill="#a298a8"/><g filter="url(#bl8)"><ellipse cx="100" cy="85" rx="50" ry="44" transform="rotate(-20 100 85)" fill="#bbb3c0" opacity="0.9"/><ellipse cx="115" cy="135" rx="46" ry="26" transform="rotate(10 115 135)" fill="#aaa1b0" opacity="0.7"/><ellipse cx="80" cy="55" rx="22" ry="16" transform="rotate(-30 80 55)" fill="#c7c1cc" opacity="0.6"/><ellipse cx="112" cy="104" rx="30" ry="30" transform="rotate(0 112 104)" fill="#b9b1be" opacity="0.6"/></g><path d="M61.5 182.3A91 91 0 1 1 152.5 182.3" fill="none" stroke="#5a3574" stroke-width="12" opacity="0.62" filter="url(#bl2)"/><path d="M178.2 163.3A93 93 0 0 1 60.5 184" fill="none" stroke="#66447e" stroke-width="7" opacity="0.5" filter="url(#bl2)"/><path d="M37.7 143.5A80 80 0 0 1 147 34.2" fill="none" stroke="#66447e" stroke-width="10" opacity="0.3" filter="url(#bl2)"/></g><g clip-path="url(#pout3)"><g filter="url(#bl07)"><path d="M108.9 150.4l-0.1 0.3M186.6 63.8l-0.2 1.6M63 57.3l-0.3 0M33.8 154l0.1 0.8M143.9 17.7l-0.6 0.4M152 81.1l-0.5 0.4M41.6 130.3l-2.1 1.3M142.5 34.9l1.4 0.8M126.3 101.8l0.8 0.6M195.2 81.1l0.9 0.6M80.9 135.8l-0.5 0.5M56 31.8l-0.7 0.2M61.5 45.6l-2.8 1.8M185.8 63.6l1 0.3M41.9 64.9l-0.2 0.1M119.1 179.5l0.6 0.1M31.5 120.4l-2.7 0.2M51 84.7l-0.2 0.5M71 122.6l0 0.1M191.7 81l-0.8 1M20 70.7l-0.2 0.3M104.3 84.1l-1.2 1M89.8 195.9l-0.2 0.1M42.2 160l-0.7 1.1M27.3 76.1l0.3 0.5M42 52.1l1.1 0.9M27 152.4l0.9 0.1M94.3 187.4l2.4 0.6M21.4 112l0 0M149.2 20.6l-0.6 2.2M175.6 104.3l0.2 0.1M23.4 65.6l-0.6 1.6M72 72.7l-0.3 0.8M144.8 158.9l0.8 0.6M172.3 78.2l2.4 0.9M18.1 99.6l-0.6 1.2M32.5 46.7l-0.3 0.2M141.6 91.7l0.8 0.2M197.7 84.7l0.5 0.4M127.1 135.4l-0.2 1.8M198.6 108.8l0.4 0.1M48.1 94l0.7 0.3M140.8 182.4l-0.8 1.2M25.4 72.5l0.3 1.1M67.1 20l0 0.1M171 128.5l0.1 0.1M133.2 169.8l-0.8 0.7M18.9 110.1l-0.4 0.7M179 115.5l-0.3 0.5M108.3 19l0.6 0.8M42.2 48.5l-0.3 0.3M92.2 13.9l-0.1 0.2M29.4 122.6l-0.2 0M147.9 172.4l1.1 0.9M187.9 67.9l-1.9 0.1M68 26.1l-0.2 0.4M92.2 123l0.1 0.1M106.9 65.3l0.1 0.7M193.4 108l-1.1 0.6M156.1 28.9l-0.2 0.3M116.4 173.6l-1.9 0.5M100.5 160.5l0.6 0M161.4 29.5l-1.4 0.7M56.4 146.1l1.1 0.7M127 180.7l0.1 0.1M118.1 159.8l0.8 1.1M128.8 87.2l0.5 0.1M153.1 141.2l0 0.3M96.5 172.7l-1.4 0.6M191.5 103.3l0.5 0.8M147.9 153.4l0.9 0.9M191.3 115.2l-0.2 0.2M65.6 182l-0.5 0.5M18.7 92.6l0 0.5M161.2 31.9l0.4 0.3M69 189.2l0.6 0.3M145.1 18.1l-1.2 0.3M26.4 78.6l0.8 0.4M48.9 83.6l0.6 0M180.6 157.8l-1.1 0.1M117 193.4l-0.3 0.1M188.9 94.4l1.1 0.1M19.9 71.4l-0.2 0.8M101.4 27.4l-1.1 0.1M104.8 197.3l0 0.3M84.9 110l-0.4 0.4M41.4 107.2l-0.3 0.1M147.8 24.3l-0.3 0.1M176.1 61.2l0.4 0.5M156.9 72.3l-0.4 0.2M64.9 33.6l-0.4 0.5M177.8 144.6l0.8 0.1M86.3 189.7l0.4 0.1M18.7 93.3l0.5 0.1M136.3 122.5l-1.3 0.4M38.2 46.1l0 0M161.1 121.8l0.8 0.4M38.4 158.2l0.1 0.1M178.8 156.6l-0.7 0.3M153.2 25.1l0.3 1M65.8 105.9l-0.6 0.6M152.8 64.9l0.2 0.1M33.9 50.1l0.2 0.8M128.6 125.8l0.2 0.4M83.1 132.3l-2 1.8M101.9 60.7l0.9 0M153 183.1l-0.9 1.1M39.5 160l-0.6 0.3M132.9 192.8l-0.2 0M38 74.3l0 0M26 149.2l0.1 0M39.5 55.6l-0.6 2M35.8 151.4l-1.4 1.1M157.9 98.3l0 0.8M84.9 71.5l0.3 0.1M69.4 16.8l-1.3 1.2M169.7 160.4l0.2 1.3M201.4 104.2l0 0.9M186.3 59.7l0.9 0.9M30.6 144.5l-0.5 0.6M131 22.7l-0.4 0.4M178.5 128l0 0.1M63.9 81.2l0.1 0.1M158 114.3l0.2 2.1M97.8 187.8l0 0M61.7 91.8l0.1 0.2M57.5 80.9l0.5 0.6M200.5 101l0.1 1.5M129.9 14.3l0.7 0.4M31.3 72.5l-1.2 0.7M99 86.1l-0.7 0.6M188.9 106.8l-0.4 1.4M20.4 135.6l0 0M186.4 130.6l0.3 0.1M109.2 143.4l0.3 0.1M104.5 152.8l0 0M65.6 162.1l-0.3 0.1M52.5 55.5l-0.2 1.4M55.8 152.3l-0.6 1M116.9 10l0.8 0.6M20.6 137.4l0.8 0.6M104.5 45.5l0 0.4M74 146l-1.5 1.6M15.9 119.3l-0.1 0.5M131 186l0.4 0.2M33.5 150.2l0.4 0.2M167.4 46.8l-0.3 0.1M194.2 71l-0.5 0.8M104.6 70.9l0.2 0.6M196.7 114l0.2 0M197.6 96.6l0.2 1M63.7 94.6l-1.6 1.4M81.2 114l0.3 0.9M56.7 30.3l0.8 0.1M120 117.1l-2.3 0.1M68.2 21.2l0 0.2M164.1 176.3l-0.8 0.6M187.7 59l-0.3 0.6M140.6 133.8l1 2.2M100.1 196.3l0.1 0.6M46.5 135.6l-0.1 0.6M123 14l0.1 0.1M184.4 146.3l0.1 0.6M98.7 91.4l0.5 0.3M81 69.6l-0.5 0.1M182.2 97l-0.2 0.1M155.4 32.4l0.6 0.3M116.7 109.4l-0.1 0M145.1 18.2l0.3 0.8M104.6 195.5l0.4 0.2M43.8 101.1l0.5 0.6M176.9 95.2l-0.1 0.3M16.1 88.4l0 0M19.6 85l1.7 0.5M119.1 15.5l-0.2 0M38 89.6l0 0.4M193.7 106.7l0.5 0.5M166.9 40.6l-0.4 0.5M74.8 133.5l0.6 0.3M70.9 147.9l-0.1 0.4M151.7 162.8l0 0M113.1 10.1l-0.8 0.4M127.2 16.4l-1.3 0.1M43.9 154.5l0 0.5M126.1 17.3l0.2 0.6M123.5 148.6l-0.7 0M90.5 16.1l-0.1 0.1M44.3 61l-0.8 0.9M55.1 179.6l-0.3 0.3M72.8 165.6l0.3 0.1M45.9 31.7l0.9 1.2M29.1 140.1l-1.8 0.8M37.9 79.7l-0.1 1.5M196.2 98.1l-0.6 0.7M119.8 186.8l1.4 0.3M129.4 185.7l-0.8 0.7M90.9 190.8l0.1 0.1M31.6 146.3l0.1 0.3M64.2 24.4l0.2 0.1M24.5 114.9l-0.1 0.1M45.7 34.1l-0.9 0.5M119.8 116.5l-0.4 0.8M66.9 20.2l-0.1 0M145.6 18.9l0 0M23.3 136.8l0.3 0.1M23.6 98.3l-0.5 0.8M80.8 62.8l0.6 0.6M137.4 136.9l-0.4 0.6M112.5 192.9l0 1.4M52.1 37.6l-0.6 0.4M38.1 58.5l0 0M117.2 182.8l0 0.2M161.1 159.2l-0.2 1.1M141.4 164.9l0 0M109.4 161.5l-0.3 0M92.5 83.8l0.7 1.2M30.1 58.9l-0.2 0.2M138.3 162.7l-1.2 0.7M134.9 25.2l-0.5 0.8M36.6 67l-1.2 0.2M194.6 132.3l-0.5 0.1M97.8 33l-0.2 0.5M149.3 24.2l0.2 0.2M130.7 188.9l0.1 1.1M125.3 30.6l0 0M48.7 177.2l0 0.1M170.4 160.4l-0.5 0.5M106.4 151l0.3 0.3M45.3 41.6l0.2 0.4M141.3 32.6l0.4 0.2M70.7 161.5l-0.2 0.3M50.8 172l0 0.1M181.3 135.5l-0.2 0.1M168.3 174.8l0.5 0.1M110 157.7l-0.2 0M126 160l0.6 0.8M149.5 169.3l0.9 0.6M193.7 119.3l-0.3 0.4M56.9 29.8l1 0.2M62.1 56.9l0.6 1.2M169.8 66.9l0 0.9M138 15.3l0 0.8M139 152.8l-0.1 0.1M92.5 17.1l1 0.4M180.9 120.8l-0.1 0M94.4 118.5l0.3 0M199.4 111.8l-0.2 0M36.1 55l0.3 1M118.5 67.1l1.3 0.4M86.5 181.6l0.3 0.3M19.5 75.5l-0.4 0.4M156.1 33.4l0.2 0.1M185.9 125.7l0.5 0.1M146.1 35.1l2.5 0.6M149.1 174.7l0 0M65.1 153.8l-1.1 0.9M185.9 97.2l-2.7 0.5M165.3 90.6l-0.5 0.4M172.5 155.5l0.3 0.1M86.6 12.4l-0.7 0.3M62.8 79.1l0.3 0.2M176.1 46.8l-0.7 0.6M164.7 112.5l-1.2 0.1M53 176.6l-0.3 0.2M140.3 191.8l-0.6 0.1M161.2 94.6l-0.5 0.6M183 58.6l0 0M88.5 21l-0.9 0.5M43.8 76.8l-0.1 0.4M80.9 30.7l-0.1 0.3M113.1 52.9l0 0.1M134.5 16.1l0.1 0.2M193.4 130.5l0 0M180.8 69.2l-0.8 0.9M113.3 163.3l0.6 0.4M83.3 52.3l0.4 0.9M51 162.8l0 0.1M121.7 129.5l-0.8 1.6M193.8 123.5l-1.2 2M79 23.6l-0.2 1.1M195.8 99l-0.5 0.5M125.8 10.9l-0.3 0.6M118.7 16.8l-0.3 0.4M50.6 160.4l0.1 0.2M54.6 42l0.2 0.1M82.3 23l-0.6 0.7M73.2 62.3l1 0.7M31.9 133.9l-0.9 0.8M162.2 87.6l-0.5 0.2M36.8 165.9l0.4 0M137.8 183.6l2 0.5M37.2 162l-1.3 1M188.5 87.6l0 0M149.7 21.9l-0.9 0.5M179.9 101.5l1.6 1.4M34.3 98.5l0.7 0.3M55.1 49.3l-1 0.5M40.8 40.2l0 0.6M30.3 128.5l0.4 0.9M161.6 77.3l-1 1.1M149.3 144.5l-0.4 0.1M54.6 32.3l0.1 0.3M182.2 151.3l0.7 0.4M110.8 197.2l-0.3 0.1M88.6 24.2l0.1 0.7M41 37.4l-1.2 0.6M127.8 18.3l0.7 1M107.9 53l0.9 0.9M170.8 93.7l0.4 0M73.7 23.8l-0.3 0.1M98.2 163.2l-0.6 0.5M137.8 94.3l0 0.2M39.4 50.5l0 0.2M20.6 69.3l0.3 0.2M77.7 86.5l0.3 0.2M127.3 68.4l-0.1 0.6M14.9 86.6l0.2 0.1M183.4 64.9l-0.6 1.8M62.9 182.8l-0.2 0.2M176.3 166.6l-0.1 0.8M178 51.4l0 0.1M109.5 184l-0.1 0M107.9 22.4l0.5 0.5M76.6 189.8l-0.4 0.3M34 89.6l0.3 0.3M175 39l1.3 0.2M71 183.1l-0.6 1.2M93.7 17.2l-0.4 0.2M186.7 66.6l0.7 0.3M21.2 103.2l0 0M192.9 99.1l0.8 0.8M23.8 142.7l0 0M170.3 34.3l0.2 0M36 79.5l-0.2 0M67.9 25.3l-0.2 0.2M98.9 196.1l0 0M75.5 178.2l0.4 1.8M178.2 161.2l0.4 0.8M111.3 197.1l0 0.1M180.3 46.2l-1.1 0.1M166.4 36.4l0 0M72.5 88l0.1 0.3M116.6 142.1l1.3 0.7M156.4 90.5l0 0.1M81.4 160.2l-0.4 1.2M164.4 28.9l1.6 1.2M189.4 104.6l-1.1 1.2M18.6 95.2l-0.1 0.3M73.2 32.1l0 0M201.1 95l0.9 0.6M129 139.5l0.3 0.2M187.6 133.7l0 0M25 81.2l-0.2 0.1M13.4 92.4l0.8 1M121.4 185.9l0.2 0.1M22.2 136.7l0.3 0.9M125.7 74.5l0.1 0M191.2 76.4l0.1 1.3M85.4 26.8l0.5 0.3M113.2 131.4l1.1 0.8M146.8 28.9l-0.3 0.2M148.5 83.7l0.3 1.9M101.7 181.1l-0.5 1.3M129.2 29.5l-0.4 0.3M158.5 46.9l0.8 0.1M172.8 38.1l-0.1 0M144 70.3l0 0.8M119.7 86.4l-0.3 0.9M173.4 96.2l-0.3 0M154.9 34.9l-2.1 0.6M188.7 79.4l-2.1 1M59.7 159.8l0 0M148.4 177.5l-0.2 0.6M61 156.2l-0.4 0.6M114.8 37.3l0.2 0.4M87 44.8l-0.5 1.4M28.4 127.9l-0.9 0.8M118.6 188.7l0 0M182.2 94.1l-0.1 0.5M22.2 76.8l-0.3 0.2M45.9 32.2l-0.1 0.1M163.5 137.9l-0.2 0.2M180.4 80l-0.5 0.3M135.5 179.1l-0.1 0M48.4 145l-0.1 0.6M57.5 63.9l0.6 0.1M143.4 34.8l-0.2 0.2M138.7 59.7l-0.1 0.1M82.5 17.7l0.7 0.5M156.8 77.7l-0.6 0.2M80.8 189l0.1 0.3M168.3 167l0.4 1.1M55.5 82.5l0 0M33.6 52.9l-1.6 0.4M40.6 135l-1.3 0.7M111.5 11.3l-2 0.6M87.4 187l-0.2 0.4M45.2 51.6l-0.5 0.1M23.7 98.4l0.6 0.7M74.3 105.1l0.3 0.1M46.4 102.3l-0.4 1.2M200.8 92.6l0.1 0.1M43.8 49l0 0M55.8 176.7l1.7 0.7M144.4 28.3l0.4 0.8M101.7 190.8l0.2 0.3M131.1 176.3l0.2 1.4M133.9 58.1l0.6 0.1M156.5 164.8l-0.1 2.2M98.8 10.8l0 0.2M37 162.9l0.6 0.4M176.8 47.5l0.7 1M80.4 102.2l-0.6 0.4M38 165.6l0 0.5M107.8 186.4l-0.7 0.1M172.1 55.1l0.4 0.2M23.1 88.1l0.1 0.6M191.5 66.7l0 0.1M74.1 91.1l0.2 0M119.4 15.1l0 0M78.2 99.5l0.2 0.4M192.5 90.6l0 0M18.2 123.3l-0.4 0.5M196.4 97.9l0.2 0.1M102.9 164.2l0.1 0.5M46.5 92.9l-0.3 0.4M119.4 172.9l1.2 0.5M53.3 29.3l-1.2 0.1M63.2 31.3l-0.6 0.2M192.1 137.4l0.1 1.7M23 79.8l-0.6 0M68.8 17.6l0.3 0.3M187.3 55.9l-1.3 0.6M111.2 13.2l-0.4 0.2M162.1 155l0.4 0.2M82.1 90.6l0.4 0.3M40.4 38.8l0.5 0.4M85.8 191.1l0.2 0.2M147.9 146.6l-0.3 0.2M103.4 17.3l1.2 0.4M57.1 100l-0.1 0.8M124.2 183.2l-0.1 0.5M65.4 105.2l-0.3 0.4M128.1 91.6l0 0.5M106.6 137.5l1.1 0.2M180.4 49.6l1.3 1.6M196.2 79.5l-0.3 0.4M92.4 77.4l0 0M163.2 69.3l0 0M129.2 59.1l0.6 0.1M143.9 189.4l0.4 0.1M24.2 84.1l-0.6 0.2M118 14.9l0 0M110.6 9.4l-0.2 1M69.5 174.6l-0.3 0.4M23.9 82.1l-0.2 0.5M106.2 15.5l0.3 0.5M189.8 85.9l0.4 0.2M23.6 127.5l-0.9 0.5M149.9 22.9l0.2 1.4M86.2 193.6l-0.3 1.2M161.1 86.2l0 0M24.1 137.5l0.1 1.8M189.9 64.4l0.2 0.2M21.4 121.3l0 1.5M34.6 98.5l0.5 0.6M95.1 129l-0.6 0M62.6 158.1l0 1.2M147.9 166.6l0.2 0.2M22.8 81l0.4 0.1M195.1 125.3l-0.2 0.7M187.9 128l-0.9 0.8M106.9 23.9l-0.3 0.6M157.7 159.8l-1.8 1.6M63 31.4l-0.2 0.6M146.2 23.3l-0.2 0.1M100.5 107.6l1.1 1.4M160.6 171.5l0.2 0.5M127.5 140.5l-0.7 0.2M40.8 162.8l0 0.1M133.2 14l-1 0.5M136.7 63.4l1.1 0M159.4 32.2l0 0M39.8 43.4l0.3 1M37 58.8l0 0M171.3 61.5l0 0.3M85 71.7l0 0M47.2 40.1l-0.4 0.7M151.9 74.9l0.3 0.3M187.1 127.2l-0.2 0.5M92.2 73l0.1 0.4M40 143.8l0.1 0.2M132.7 104.2l1 0.5M58.4 50.4l0.4 0M42.5 165.6l-0.5 0.1M59.5 39.3l-0.4 0.9M50 28.7l-0.5 0.4M15.4 117.1l-1.6 0.7M34.4 141.7l1.2 0.4M59.7 50.2l-2.3 0.7M149.3 121.3l-0.8 0.3M193.1 142.2l-0.2 0.3M197.3 91l0.4 0M141.1 25.4l-1.6 0M21 98.3l-0.8 1.3M110.8 171.7l0 0.4M59.1 59.2l0.7 0.2M56.7 36.4l0.1 0.1M76.9 190.6l1.8 1.1M92 122.2l0.7 0.6M168.1 166.7l1 0.7M89.2 133.5l0.8 0.4M199.9 99.2l1.4 0.2M69.7 156.6l0.7 0.7M72.5 84.3l0.3 0.3M113.1 195.1l0.7 0.6M116.1 91.3l0.6 0.6M184.8 136.2l-0.2 0M25.4 150l-0.5 0.4M125.2 108.5l0.2 0.9M66 63.5l0.3 0.9M142.3 50.2l1 1.8M183.2 127.9l-0.1 0.1M65.6 63.6l-1 0.7M196 78.1l0.4 0.7M70.4 179.9l0.1 0.1M105.4 146.8l-0.9 0.7M155.8 179.5l0 0.1M167.4 166.9l0.2 0.3M33.9 126.2l-1.4 0.5M73.8 29.9l0.3 0.2M68.9 56.3l1.2 0.7M52.4 26.7l0.3 0.1M39.5 157.6l0.9 0.1M179.7 99.6l-0.2 0.3M14.6 120.2l0.7 0.5M126.8 136.7l1.5 0.8M61.2 60.1l0.2 0.5M184.9 51.9l-0.1 0M130.4 12.1l0.2 0.2M139.5 122.8l0.4 0.3M169 165.6l-0.7 0.5M141.8 108.9l-0.5 0.2M22.4 74.6l0.6 0.2M197.4 93.7l0.2 1.8M125.8 152.6l-0.1 0M178.6 155.8l-0.5 0.9M74.5 36.7l-0.3 0M176.1 61l-0.4 0.4M65 32.6l0.1 0.8M188.5 60.6l-0.2 1.4M135.9 51.3l-1.7 0M49.7 87.6l0 0M45.6 47.8l1.2 0.6M37.4 160.7l-0.2 0.2M48.1 163.1l-0.7 0.3M172.9 47.1l-0.1 0.2M146.2 27.2l0.1 0.1M112.4 10.4l-0.2 0.6M155.7 99.7l-0.6 0.1M127.9 174.4l-1 1M108 72.5l-0.1 0.7M141.6 35.9l0.3 0.2M100.4 196.1l0 0M29.4 105.1l0.6 1M128.5 13.7l-0.1 0.8M49.7 177.4l0.4 0.2M127.5 21.6l-0.2 1M54.7 38.8l-1.7 0.4M169.4 171.2l0 0.3M64.9 152.1l0.1 0.2M108.6 171.2l0 0.4M110.7 197l-1.1 0.4M47.1 35.9l0.5 0.1M31.8 155.2l-0.2 0.5M31 57l-0.8 0.9M166.9 142.2l0.5 0.4M25.6 86.1l0 0M33.9 94.3l0.3 0.6M194.1 101.5l-0.1 0.4M147.2 177l-0.5 0.6M43.9 94.6l0.5 0.9M176.8 144.2l1.3 0.8M144.8 32.3l0.6 0.2M193.8 126l0.3 0.1M125.8 17.9l0.7 0.3M38.5 38.5l0 0.1M96 182.4l-0.1 0.1M41.1 109.6l1 0.1M83.6 167.3l-0.5 0.9M118.4 194.8l-0.4 0.2M147.1 42.9l-0.1 0.6M123.5 186.9l0.1 0.3M16.3 104.7l0.3 0.5M172.1 145.7l-0.1 0.1M139.1 149.9l0 0.1M194.6 112.4l-0.9 0.6M103.5 28.6l0 0.3M191.4 144.3l1.6 0.6M145.8 17.7l-0.9 1.1M159.2 126.3l0.5 0.9M148.6 33l0.6 0.6M64.6 27.5l1.1 2.1M99.8 171.8l-1.9 0.8M60.8 178.4l0 0.1M152.8 171l-0.2 0.2M137.9 15.1l1 0.4M199.2 90.7l1.5 0.6M123 139.1l0 0.1M56 61.1l-0.4 0.6M157.1 178.2l-0.2 0.1M82.8 131.2l-0.1 0.5M98.6 25.3l-1.2 2.1M59.4 126.2l0.3 0.3M68.7 152.8l0.5 0.5M131.8 194.4l0.2 1.9M179.5 108.5l0.4 1.8M96.9 132l-0.2 0.6M198.5 110.5l0.5 0.2M90.4 121.5l-0.2 0.2M166.6 85.5l0 1.1M22.6 129.1l-1.1 0.8M77.4 16.3l1.2 0.1M144.3 22l-0.5 0.4M71.9 177.8l-0.1 0.3M153.5 112l-0.1 0.2M117.4 16l0.2 0.7M181.4 49.3l-0.3 0.2M50.7 33l0 0.2M87.1 191l1.3 0.5M93.7 190.1l-0.1 0.1M119.2 49.6l0.6 0.4M29.2 126.7l1.2 0.6M170 169.8l0.6 0.5M31.4 54.7l0.3 0.1M20.1 117.5l-1.1 1.4M33.1 45.6l0.3 0.2M192.9 89.2l-0.3 0.3M165.1 147.7l0.6 0.5M92.8 114.5l1.4 0M177 66l-0.7 0.4M110.1 155.8l0.1 0.1M28.9 78.5l-0.1 0.2M178.4 104.8l-1.1 0.3M21.3 72.7l0.1 0.1M148.9 20.7l0.1 0.4M76.1 25.1l1.2 0.8M161.6 154.8l0.1 0.1M129.6 44.4l1.9 0M49.6 175.2l-0.1 0.7M73 38.5l-0.3 0.6M161.8 96.4l0.1 0.2M95.5 17.8l-0.6 0.4M117.9 161.6l-0.1 0.1M72.6 181l-0.7 1.3M174.8 48.9l-0.7 0M21.2 64.5l1.2 1.8M133.2 33.2l0 0.4M48 150.9l0.1 0.3M145.3 94.9l-0.2 1M166.8 139.5l0 0M175.8 48.7l-0.1 0.6M184.3 58.2l0.4 0.4M103.4 21.8l0.5 0.3M146.6 59l0.4 0.1M173.9 141.1l-0.2 0.1M39 78.2l-0.3 0.6M69.8 98l-0.4 0.3M166.2 34.9l-1.5 0.7M143.1 39.4l-1.4 0.5M87.1 23l-0.8 1.2M50 57.6l0.1 0.1M146.6 153l0.4 0.1M120 165.8l0.4 0.1M52.2 29.8l0 0.2M164.2 154.5l-0.7 0.2M188.7 143.6l0.4 0.4M75.5 21.7l1.2 0.3M172.7 86.4l-0.8 0.7M109.4 121.2l0 0M145.4 21l-0.4 0.4M18.9 85.1l0.2 0M126.1 161.4l0.4 1M127.3 44l1.6 1.3M90.6 179.1l0.3 0.8M157.7 86l1 0M65.1 163.6l0 0.2M116.4 43.9l0.8 0.1M167.9 160.8l0 0.3M18.9 130.1l0.8 0.1M179.1 123.9l-0.4 0.7M118.8 187.9l0.7 1M176.6 44.1l-1 1.8M109.4 9.5l-0.3 0.2M99.2 175.1l0.2 0.2M36.4 161.4l-0.3 0.6M146.2 24l0 0.2M189.8 128.5l1.1 0.4M163 38.9l-0.9 0.3M63.2 106.2l-0.5 0.1M42.1 72.5l-1 1.3M47.7 104.4l0.7 0.1M49.7 44.9l-0.8 0.2M96.1 43.9l-0.5 0.8M80.9 159l-1.1 1M19.2 89.2l-0.6 0.3M67.3 83.3l-0.1 0M126.5 48.2l0.1 0.1M197.4 93.3l-0.5 0.2M99.8 17.4l0.9 0.7M97.6 23.6l-0.2 0.4M48.4 55.9l0 0M72.9 176.3l-0.1 0M52.9 168.9l-0.1 0.3M143.8 23.1l0 0.1M90.2 11.3l-1.9 0.9M117.7 145l1.1 0.6M105.1 170.2l-0.6 0.3M55.2 156.8l0 0M175.1 55.9l-0.8 0.5M26.9 151.3l-1.5 1.4M90.1 158.8l-0.1 0.3M54 63l-0.7 0M144.7 92.8l-0.4 1.2M37 109.3l0.1 0.6M65.8 29l-0.4 0.1M32.8 110.8l0.5 0.9M146.9 182l1.7 0.5M125.3 34.3l0.8 1.2M30.9 81.5l0.9 0.2M196 131l0.2 0.1M172.7 152.6l-0.8 0.6M102.7 197.6l0 0M79.2 32.5l0 0M92.1 135.5l-0.3 0.1M95.6 164.7l0.1 0M27.7 98.9l-0.1 0M101.4 81.3l-0.5 0.1M184.4 58.5l-0.1 0M82 22.1l1.2 0.4M146.9 23.5l1 0.4M143 90.1l1.6 1.2M90 183l-0.7 0.1M93.7 15.8l0.1 0.2M96.3 189.2l0.9 0.2M116 182.6l0 0.9M114.9 17.3l-0.8 0.7M25.3 107.7l-0.2 0.5M26 141.2l-0.2 0.4M35.4 54.8l1.1 0.4M163.5 40.4l-0.6 0.1M148.7 105.1l0 0M17.8 73.5l0.8 0.8M139.5 26.1l-0.7 1.1M89.2 13.6l-0.1 0.6M24.2 64.7l2 2.1M49.9 171.3l0.1 1.6M35.4 147.3l0 0M15.7 126.1l0 0.6M46.7 113.4l0.4 1.7M35.1 155.6l-1.2 0M67.4 187.9l-0.3 1.3M120.6 13.3l0.1 0.2M13.6 106.2l1.3 1.6M21 70.2l1.2 1.1M158.7 108.5l-0.7 1.7M80.7 191.9l0.4 0.7M83.6 180.1l-0.1 0.6M14.6 86.1l1 0.1M25.8 74.2l-0.7 0.9M102 194.1l0.2 0.6M104.5 59.9l0.5 0.8M47.9 120.6l0.1 0.2M200.9 104.4l0.9 0.6M121.5 15.7l-0.3 1M151.3 67.8l0.6 0.1M39.3 53.7l-0.1 0.2M183.4 150.1l-1.1 0.3M125.4 45.3l-0.4 0.1M47.1 167.4l0 0.6M79.2 135.4l0.9 0.6M164 172.5l0.5 0.2M40.4 156l0.4 0.2M88.5 195.4l-0.2 0.6M135.8 141.8l0.7 0.6M109.4 11.3l-1.5 1M109.2 145.6l-0.3 0.9M28 111.9l0.4 0M53.5 120.8l0.1 0.1M93.5 23.5l1.1 0.8M134.9 134.4l-0.2 0M86.1 119.8l-0.1 0.5M120.6 23.4l-0.1 0M27 144.2l-0.6 0M31.3 159.7l0 0M47.5 84.5l0.1 0.1M30.3 158.4l-0.3 0.4M83.1 73l0 0M197.4 93.1l-0.5 0.4M80.4 187.8l-0.2 0.2M131.6 67.8l0.6 0.3M119.8 187.2l0 0.1M45.6 174.9l-0.4 1M123.1 33.4l-1.8 0M75.9 23.9l-0.7 0.2M157.1 32.5l0.2 0M66 23.2l-0.2 0.2M146.9 165.4l0.1 0M96.2 75.5l1 0.2M130.2 63.8l0.1 0.2M128.4 13.5l-0.1 0.7M122.5 196l0.7 0.9M131.2 192.8l0.9 0.1M15 103.1l-0.2 0.5M99.3 18.8l1.3 0M121.1 103.9l-0.6 0M28.2 79.7l0.4 1M183 55.5l-1.5 0.4M193.7 125.1l-0.4 0.8M176.8 147.8l-0.5 0.5M27.2 85.5l-0.7 0.3M43.6 125.4l-0.2 0.4M185.2 79l-0.5 0.1M168.8 60.1l1.4 0.8M19.4 110.4l-0.1 1.2M88.1 95.7l0 0M16.3 114.6l-0.3 0.5M113.1 16l0.5 0.1M35.8 164.8l0.2 0.2M18.2 118l-0.3 0.2M69.9 105.6l-0.3 0.4M35.2 50.3l-0.1 0M68.5 17.4l-1.4 0.5M138.3 26.7l0.3 0.4M79.9 50.6l-0.8 1.1M115 53.9l-0.1 0.1M41.4 48l0.3 0.6M20.8 105.5l0.8 1.1M129.8 127.5l0.3 1.1M178 160l0.4 0.2M76.3 142.2l-0.1 0.2M25.6 75.2l-0.1 0M185.3 56.2l-0.3 1.1M177.8 164.2l-0.3 0.3M189.4 129.8l-0.3 0.1M21.6 117l-0.3 1M189.3 86.9l-2 0.3M51 33.1l1.3 0.2M153.5 87.7l0.7 0.1M186.1 88.3l0.2 0.6M142.7 81l-1.5 1.1M118.1 133.4l0.1 0.3M185.1 69.8l-0.2 0.1M118.1 194.9l0 0.9M197.9 93.2l-0.5 1.8M20.3 96l0 0.2M89.8 116.5l-0.3 0.1M100.5 24.7l-0.4 0.2M88 134.7l-0.3 1.1M158.5 75.8l-0.6 0.5M35.3 130.6l-0.4 1.2M195.4 129.5l0 0.1M34 80.8l0 0.1M183.4 130.2l-2.3 0.2M61.6 22.1l0.1 0.7M132.6 68.7l-1.3 0.3M29.2 111.1l-0.2 0.2M108.9 194.9l-0.2 0M109 188.2l0.4 0.4M27.7 79.3l0.1 0.1M30.9 95.9l0.6 0.6M187.5 146.4l0.2 0M167.3 41.5l-1.6 0.1M82.5 47.6l-1.7 0.6M98.6 162.9l-0.7 1.2M29.8 95.2l0 0.1M88.4 176.8l-0.9 0.5M166.4 44.2l0.2 2M62.7 83.9l-0.4 0.5M151.6 74.5l-0.1 0.6M30.1 112.2l0 0M168.3 174.1l0.6 0.2M48.6 33.7l-0.5 0.7M107.1 121.7l-0.6 0M147 185.8l0.3 0.5M88.9 163.7l-0.8 1.2M184.4 157.6l0.7 0.2M155.7 179.8l0.3 1.5M181.4 109.9l0 0.9M63.2 116.2l0.3 0.4M99.3 136l0.7 0.7M102 43l-1.6 0.1M145.1 154.1l-0.1 0M71.7 53.4l0.3 0.6M119.3 78.9l1 1.1M140.6 123.1l0.5 0.4M93.8 49.5l0.2 0.2M58.8 32.6l0.6 0.2M66.8 188l-0.6 0.1M157.1 28.5l0.1 1M93.6 14.7l0 0M44.9 165.4l0.5 0.4M163 170.9l-0.7 0.8M73.5 49.2l0.2 2M188.5 125.3l0 1.2M48.9 40.8l0.7 0.2M164.3 167.2l0.9 0.8M192.6 65.9l0.5 0.6M124.5 168.9l1.1 0.1M27.3 66.1l-0.1 0.8M117.4 39.3l0.2 0.4M115.2 19.6l-1 0M36 41.6l-0.9 0.1M73.5 141.1l1.5 0.5M159.3 94l0.6 0.1M148.5 188l-1.9 1.9M156 117.6l-0.9 0.3M159.2 31.7l-0.1 0M85.1 18.5l-0.1 0M174.4 147.6l1.3 0.6M144.8 109.3l0 0.1M38.7 167.6l-1.7 1.4M130.4 68l-0.3 0.6M83.7 63.7l-1.3 1M13.3 106.1l-0.5 1.5M73.2 184l-0.2 0.4M128 17.6l-1.3 0.9M67.7 20.9l0.1 0M78.4 100.7l0 0M169.2 51.9l1.6 0.1M73 181.5l-0.6 0.5M79.1 21.5l0.7 0.7M147.7 179.4l1.6 0.4M36.7 97.5l1.1 0.1M17.5 81.4l-1.1 0.6M107.1 164.3l0.5 0.4M175.5 84l-0.1 0M109.3 159.4l-0.1 0M134.3 25.8l-0.7 1.2M47 63.2l0.7 0.9M88.5 48.8l0.1 0.1M106 59.3l0.9 1.4M91.5 191.1l-0.3 0.2M62.3 84.3l-0.6 1.2M191.8 142.3l0.4 0.3M86 89.4l-0.4 1.3M143.4 171.7l0.6 0.1M198.1 112.1l-0.4 0.5M58.9 138.3l0.1 0.1M128 184l-0.5 0.6M150 35.3l0.1 0.5M167 164.2l-0.1 0.1M62.9 60l0.6 0M25 77.8l0 0.5M41 56.4l0.2 1M122.6 116.8l1.5 0.3M61.7 30.3l0.3 1M99.5 167.5l0.5 1.1M116.4 22.8l0.7 1.9M28 79.8l-1.1 0.3M160.6 101.8l0.6 0.4M59.1 121l-0.8 0M91.3 179.7l-0.5 0.6M64.2 61.9l0 0.1M59 43.8l1 1M27.1 68.2l0 0.1M58.9 168.8l-0.2 1.5M125.8 138.6l-0.3 1M98.1 126.7l0.7 0.3M194.5 87.2l-0.4 0.6M25 148.5l-0.4 0.8M173.4 61.3l0.6 0.8M127.5 193.9l0 0M42.1 165.3l0.4 0.6M80.9 183.3l-0.7 1.1M170.7 127.4l-0.9 1.4M137 110.3l0.3 0.4M98.3 170.4l-0.2 0.3M28.7 95.5l-0.1 1.3M24.5 77.5l-0.1 1.1M47.9 106.9l0 0.6M119.7 22.9l-0.4 0.5M96.8 64.7l-1.4 0.1M146.7 77.8l0.5 0.2M58.3 135.4l-0.1 0M26.7 117.2l-0.2 0.9M51.8 99.1l1 0.3M20.4 98.6l0 0.2M142 25.2l-0.2 0.6M173.9 152.5l0.1 0.1M131.6 187.7l0.2 0.9M62.3 132.9l-0.5 0.1M66.8 19l-0.3 0.4M104.8 170.5l-0.2 1M22.5 104l-0.3 0.2M14.4 94.7l1 0.6M34.9 55.2l1.5 0.1M188.6 107.3l0.3 0.6M46.1 90.3l0.8 0.9M73 57.6l-1 0.9M32.6 85.4l-0.3 0.6M192.1 66.4l0.7 1.1M57.3 72.1l0.1 0.1M65.8 174l-0.1 0.2M25.8 139.2l0.1 0.1M70.7 176.7l1 1M117.4 24.5l-0.2 1.3M117.2 14.8l-0.2 0.9M24.2 145.8l0.7 0.5M135 163.4l0.7 1.1M15.4 120.9l-0.4 0.7M144 23.6l-0.4 0.9M102.8 194.4l0.7 0.1M88.9 118.5l-0.1 0.5M70.9 178.5l-0.9 1M38.8 145.4l-0.1 0.2M166.6 142l-0.1 0.4M109.1 34.3l1.1 0.7M37.5 43.8l0.3 0.7M40.8 161.3l0 1.1M44.6 70.1l0.1 0.5M127.2 146.8l2.6 0.2M87.4 40.8l-0.2 0.2M67.7 176.7l0.2 0.9M162.5 42.2l0.3 0M154.8 175.9l0.5 0.3M164.8 131l0.6 0.1M57.6 39.7l0.1 0.4M33 51.9l-0.2 0.2M176.4 115.7l0.2 0.5M84.1 18l0.5 0.1M43.6 171.2l-0.3 0.3M61.6 38l0.9 0.1M27.6 145.5l0.9 0.2M170.8 44.1l-0.6 0.8M76.8 145.4l-0.1 0.1M180.1 51.7l0.8 1.4M22.3 116.8l0.9 0.9M69.6 47.4l0.4 0.1M61.3 36.5l0.7 1M180.9 55.3l0.4 0.3M197.8 121.3l0 0M19.5 133.9l0.3 1.6M169.8 65.3l-0.6 0.1M136.3 192.5l0.4 0.5M199.4 117.7l0.1 0M65.7 163.2l-0.9 0.9M115.3 142.5l0.2 0.2M169.7 36.2l-0.3 0.1M178.5 131.8l1.1 1M94.7 175l0 0.2M172.6 163.6l-0.7 1M33.6 88.9l0.1 0.3M36.4 158.1l1.6 0M182.2 83.1l0 0M181.8 111.1l0 0.1M109.3 44.3l-1.6 2.1M108.6 191l0.4 0.8M154.1 83.8l-0.5 0.8M135.8 54l0.3 0.4M40.4 82.7l0.3 0.1M53.3 48.2l0.5 3.4M19.3 113.1l-0.2 0.5M167 93.5l0 1M30.5 147.3l1.3 0.2M93.5 24.4l0.7 1.2M68.6 18.1l0.4 0M135.2 16.8l0.1 1.2M29.7 57.4l0.4 0.2M187.5 55.3l-0.4 0.3M68.9 17.1l-0.2 0.2M199.8 102.1l-0.5 1M62.4 155.6l0.5 1M62.4 96.2l-0.6 1.7M167.4 51.2l-0.2 0.5M41.8 38.9l-0.6 0.5M189.8 77.9l-0.5 2.1M88 182.2l0 1.3M24.7 141.1l0.2 0.4M190.3 96.8l1 0.7M100.3 75.2l-0.2 0.6M14.8 94l-0.5 0.1M107 165l0.3 0.2M178.7 162l-0.4 0.5M45.1 57.4l-0.2 0.2M127.6 11.7l-0.2 0.2M69.6 54.7l-2 1.6M179.4 139.3l0 0M29.9 51.2l0.3 0.4M86.5 14.8l0.2 0.1M119.3 195.3l0 1M75.3 187.1l-0.7 0.2M148.8 183.7l0.4 0.2M54.7 25.1l0.1 0.1M163.7 49.7l-0.1 0.2M57.5 38l-0.3 0.5M111.3 140.4l0.3 0.4M175.2 54.2l0.8 0.8M138.2 24.8l-0.6 0.7M63.4 142.7l0.2 0.3M48 109.6l-0.8 1.1M175.9 44.5l0.6 0.2M99.6 46.2l-0.8 1.1M26.1 87.2l-0.5 0.1M68.2 143.3l0 1.5M144.4 21.8l0.4 0.8M79.9 189.1l0.4 0.7M46 41.9l1.1 0.5M150.1 93l0.2 1.2M23.4 115.1l-0.6 0.6M194.9 133l-0.1 2M58.3 61.8l0.5 0.3M139.7 179.3l1 1.4M48.7 175.4l0.5 2.1M140.6 25.7l-0.5 0.6M19.8 130.3l0.8 0.7M36.1 143.1l-1.1 0.3M93.4 129.2l0.4 0.3M110 175.4l-0.6 0.2M42.6 143.9l0.9 0.7M49.7 155.1l0 0.7M169.7 139.2l0 0.1M161.5 129.2l-0.3 0.3M144.2 115.8l0.5 0.1M81.4 18.7l-1 0.8M125 185.9l0.1 0.1M49.2 166.2l0 0.4M142.1 169.1l-0.3 0.6M56.8 180.4l-0.1 0.1M107.8 21.1l0.7 1.7M28 79.1l0.6 0.3M16.7 93.1l0 0.2M133.6 100.2l-0.1 0.6M187.1 133.5l-1.4 0.1M130.4 188.4l-0.5 1M133 192.3l-0.3 0.5M24.7 102.7l-0.9 0.3M132.9 182.6l0.4 1.2M13.2 99.7l0.4 0.4M131.7 191.6l0 0M200.5 94.5l0 0.6M27.5 118.7l-0.1 0.1M15.8 89.2l0 0M165.7 172l-0.8 0.1M13.8 108.4l-0.6 1M186.1 80.1l0.7 0.2M149.7 85.1l-0.1 0.3M108.2 16.2l-1.2 1.1M158.3 168.3l-0.9 1.5M52.5 180.4l-1.6 2M138.1 189.7l-0.1 0M43 111.1l-0.2 0.5M48.1 46.2l0 0M77.3 131.5l-0.1 0.2M146.5 123.4l0.2 0.1M43.8 114.7l-0.4 0.2M133.1 25.5l0.6 0.5M177.5 103.7l-0.1 0.1M165.5 39.6l0.1 0.7M131.4 109.4l-0.2 0.3M197 100.9l0.1 1.3M169.6 159.6l0.1 1.1M62.3 25.8l-1.3 2.5M119.3 14.9l-1.7 1.8M30.2 52.7l0.4 1.1M78.4 38.9l0.4 0M178.7 154.4l0.2 0.3M88.2 137.9l0 0.2M142.2 129.6l-0.6 0.8M152.5 53.1l-0.1 0.2M190 87.2l-0.5 0.6M134.9 27.7l0 0M70.7 155.8l-0.9 0.8M156.6 162.4l-0.1 0.2M182.8 75.7l-0.2 0.3M192.4 85l-1.1 0.6M149.3 140.9l0.5 0.2M78.8 22.9l-0.6 1.3M138.3 101.9l0.8 0.6M164.2 176.1l-0.9 0.5M70.3 24.5l0 0M33.8 154.9l1 0.4M81 161.1l1.9 0.7M179 140.4l-0.6 0.4M45.1 140l0.2 0.1M162.4 162.9l-0.1 0.3M41.2 59.8l-2 1M72.2 83.9l0.9 0.3M144.1 31.2l0.1 0.3M90.5 122.5l-1.7 0.3M102.9 79.2l-0.6 1.1M16.3 109.6l0.3 0.8M107.4 160.1l-0.2 0.3M33.3 152.6l-0.1 0.4M56.6 51.4l1 0.3M23.1 121l0.4 0M89 186.4l-0.3 0.1M156.8 153.7l-0.9 0.1M178 53.1l0 0.1M108.5 101.8l-0.4 0.2M85 90.6l0.2 0.3M52.7 171.6l-0.2 1.2M30.9 148.1l-0.1 0.4M70.1 26.2l-0.2 0.3M174 90.1l-0.4 0.2M21.3 79.8l0 0M26.2 105.2l-1.1 0.7M158.5 113.7l0.3 0.1M164.3 90.3l1 0.7M69.1 83l2 0.3M114.4 55.7l-0.3 0M80 93.8l0 0M94.6 147l-0.6 0.5M14.5 104.7l-0.1 0.1M103.9 83.3l-1.2 0.8M20.8 65.5l-0.1 0.3M186.9 53.9l-0.5 1.3M30.2 53.5l1.2 0.1M166.3 53.1l-0.2 0.9M128.6 47.4l-0.6 0.2M171 81.3l0 0M166.1 154.3l-1 0.3M131.8 180.7l-0.4 0.3M158.4 182.4l-0.5 0.2M91.2 194.5l-0.5 0.2M53.9 28.4l-0.3 0.5M155.2 24.9l0.3 0.1M199.9 112l0 0.2M139.5 83.7l0.5 0.9M62.9 79l1 0.7M31.2 158.1l-0.1 1.3M106.9 15.8l-0.1 0M129.8 192.8l0.1 0M175.6 82.1l0.1 0.1M125.5 14.1l0.2 0.1M24 136.8l0 0.1M155 119.6l-1.7 0.3M122.5 51.3l1.4 0.1M150.9 103l0.7 1.1M37.5 44.1l0 0.8M30.7 50.5l-1.5 0.1M50 175.3l-1.3 1.4M31 48.5l-0.1 0.1M155.9 31.8l0 0.1M37 153.6l-1.3 0.1M77 89l0.2 0.2M177.6 164.5l0.7 0.2M200.2 98.8l-0.3 0.4M90 23.8l-0.9 1.1M17.1 118.1l0.1 0M76.8 156.4l-0.2 0.7M110.6 173.9l1.2 0.7M107.9 188.2l-0.4 0.5M120.1 161.3l0 0.2M20.4 71.2l0 0.1M81.4 178.5l-0.2 1.2M150 148.3l-0.7 0.8M145 171.6l1.4 0.4M127.6 170.9l-1 0.6M50.4 143l0 0M88.7 19.5l0.1 0.1M23.9 109.8l1 0.8M168.8 63.3l-0.1 0.2M184.2 155.9l0 0M182.2 104.4l1.4 1.8M169.5 136.1l1.2 0.8M195.7 125.5l2.3 1.8M34.5 102l0 0.7M86.9 16l0.4 1.6M116.4 85.5l0.7 0.1M54 175.4l0 1.1M44.5 116.6l0.6 0.1M100.8 185.7l-0.2 0.1M64.7 56.3l1.6 0.6M40 108.9l-0.4 0.6M15.4 80.6l0.7 0.2M128.5 11.8l1.3 0.2M64 20.6l0.1 0.1M38.1 124.1l0.1 0.6M110.2 106.9l-0.2 0.3M107 10l0 0M64.1 185.1l-0.1 0.3M196.2 94.7l2.7 1.6M62.9 63.6l-0.6 0.4M122.9 68.9l0.7 0M34.9 160.1l0.4 0.3M93.5 184.7l-0.2 0.7M122.9 98.8l1.1 0.2M157.9 70.1l-0.8 0.5M104.5 194.4l-0.1 0M35.6 142.9l1.1 1.6M169.1 171.2l0 0M187.9 151.5l0 0M132 13.3l0.7 0.6M100.8 17.9l0 0M141.1 182.2l-0.1 0.1M100.7 196.6l0 0.2M161.7 43.2l-0.7 0.1M194.8 108.1l0.4 0.1M95.1 10.2l-0.4 0.3" stroke="#5a3276" stroke-width="2" stroke-linecap="round" fill="none" opacity="0.55"/><path d="M51.9 155.2l-1.4 0.4M44.3 38.5l-0.6 0.5M196.4 92.3l-1 0M39.2 49.6l-0.7 0.4M75.4 125.8l0.1 0.3M79 124l0.7 0.4M140.8 30.6l0 0M120.7 164.3l-0.2 0.9M74.3 121.3l0.8 0.3M166.8 156.8l0.3 0.1M131.7 91.3l0.2 0.3M37.1 87.6l0.4 0.2M96 31l0.5 0.9M55 65.1l0 0M147.6 109.1l-1 0.6M64.9 55.1l-0.9 1.4M44.3 131.3l0.1 0M25.7 125.3l0.8 0.4M76.9 47.5l-1 0.5M186.3 135.8l0.8 0.9M159.1 95.2l0 0.4M134.8 58.4l-1.4 0.7M162.7 139.3l0 0.1M132.4 105.6l0.5 0.1M119.4 169.1l0.5 0.5M72.3 93l0 0.1M126.3 104.4l-0.2 0.1M76.6 111.8l0.4 0.9M86.9 181.9l-0.4 0.6M122.6 117.4l0 0.4M103.7 36.5l-0.2 0.2M63.6 184.7l-0.2 0.6M167.3 78.2l-0.8 1.5M116.2 99.2l0 0.1M126.9 69.3l0.7 0.2M88.5 69.6l0.2 1.3M111.6 179.8l0.2 0.4M34.7 84.7l-0.6 0.8M47.2 141.4l0.8 2M18.4 115.7l0.1 0.4M141.1 60.2l-0.6 0.1M168.6 123.6l0.6 1.7M133.6 182.8l0.1 0.2M196.3 95.6l0.4 1.4M65.9 120.2l-0.8 0M116.9 184.9l0.3 0.3M165.1 54.1l-2.1 1M62.7 150.8l0.1 0M69.7 144.1l0.3 0.4M26.7 108.7l-0.6 0.9M125.1 36.6l-0.1 0.1M153.2 90.6l0.5 0.4M108.4 120.2l0.4 1.5M68.2 156.3l-0.2 0.6M49.7 108.2l-2.4 1.8M111.8 19.5l-0.6 2.5M102.5 24.7l0 2.2M84.3 119.2l-0.2 0.2M146.9 114.1l-0.4 0M118.5 67.1l1.5 0.6M62.6 32.2l-1.2 0.6M169.4 78.9l-1 0.5M184.2 74.9l-0.8 0.2M134.1 154.2l0.1 0.7M182 133.4l0.7 1.7M106.7 138.7l0 0.5M157.6 142.1l-1.1 0M144.5 159.7l0 0M114.7 127.7l-0.1 0.1M143.4 78l0.1 0.3M156.3 133.4l-0.6 0.7M30.7 54.1l-0.1 0M157.3 123.9l1.2 0.2M41.6 45.5l0 0.1M124.1 69.3l1.1 0.2M46.6 114l-0.1 0.9M177.4 111l0 0.1M79 25.4l0 0.1M93.5 176.9l1 1.9M102 94.3l0 0.9M73.1 140.4l0.4 0.3M86.3 106.4l-0.8 0.6M39.4 98.4l-0.2 0.9M138.2 24.8l-0.8 1.6M126 109.7l-1.8 2M83.4 73.1l0.3 1M139.5 79.8l-0.4 0.8M162.4 142.7l0 0.3M101.5 45.7l-0.1 1.1M59.5 23.9l0 0.1M76 180.8l-1.8 0.1M175.5 44l-2.1 0.6M79.6 39l-0.4 0.5M122.5 18.2l0 0M70.4 133.6l-0.1 0.4M102.9 16l-1.6 0.5M173.9 82.2l0.1 1.2M37.5 124.4l0.4 1M16.4 114.2l0.2 0.7M96.7 146.3l0.2 0.2M40.5 38.5l0.5 1.5M194.1 72.2l-1.1 1.1M34.5 74.1l0 2.5M144.4 56.8l-0.4 1.1M89.5 101.3l-0.1 0.1M142.6 123.5l0 0M129 59.2l-1.5 1.1M56.4 106.3l-0.4 0.4M25 81.1l0.6 0.1M114.2 184.4l-0.4 0.8M98.1 56.9l-0.3 0.4M91.6 168.4l1 0.6M138 43.1l0.6 0.6M163.4 59.1l2.1 0.8M161.9 51.2l1.3 0.1M98.2 19.9l0.5 0.5M177.7 142.1l1 1.1M143.7 111.8l-0.3 0.4M164.8 67.8l-0.6 0.1M147.7 125.5l-1.8 0.8M54.1 30.4l-0.1 0M147 29.5l0.6 1.5M84.4 165.2l-0.5 0.1M34.6 68.8l-0.1 0.1M128.6 56.9l1 0.8M65.2 78.5l-1.1 1.7M157.7 171.4l-0.7 1.4M79.7 105.1l0.2 0.7M42.4 92.9l-0.6 0.4M14.4 112.4l0 0.1M162.9 79.4l0.8 0.7M185.8 89.6l-0.4 0.2M90.6 145.7l1.2 0.6M24.7 108.1l-1.6 0.9M56.9 181.5l0.4 0.2M93 194.2l-0.7 0.6M34.2 71.4l-0.9 0.7M80.5 123.2l-0.8 1.5M72.6 20.8l0.5 0.4M186.6 147.2l0.1 0.1M100.2 115.3l-0.4 1.1M76.8 56.7l0.1 0.1M53.8 43.2l-1.8 0.8M35.2 159.4l0 0M44.3 82.4l-0.1 1.1M20.4 67.4l0.4 0.2M81.4 184.2l-0.2 0.2M138.6 149l0 0.4M155.5 73.6l0.2 0.1M36.9 76.9l0.8 1M159.4 51.1l0.5 1.6M115.1 148.7l-0.5 0.5M169.5 129.1l-0.2 0.2M33 138.5l0.4 1.1M171.8 65.4l0.2 0.6M173.4 168l-0.5 0.6M43.1 52.3l1.5 0.6M88.2 66.4l0.5 0.1M95.4 63l0.7 1.3M167.8 163.4l-0.1 0M148.3 117.5l0.6 2.1M140.2 130.9l0 0.1M31.1 61.5l1 0.2M194.5 89.9l-0.4 0.9M29.8 125.8l0.1 0M85.7 42.3l-0.1 0.8M118.1 99.2l0.4 0.7M121.1 65.9l0 0.5M67.8 66.1l0.7 0.4M146.3 90.5l0.1 0.1M86.7 152.4l0.2 1.8M174.8 61.3l0.4 1M80.8 101.4l0.7 0.1M97.1 155.7l0.5 0.9M156.1 127.7l1 0.8M153.8 160.6l-0.7 0.3M69.3 85l-1.2 0.5M107.5 34l-0.3 0.5M135.3 63.4l-0.4 1.2M56.8 141.2l0.6 1.7M160.7 35.5l0.1 1.5M78.8 15.8l-0.7 0.2M98.5 77.3l1 0.1M87.9 34.4l-0.1 0.2M102.7 45.3l0 0M136.4 31.7l1.2 0.6M94 112.8l0.3 0.7M81.4 180.9l-1.1 0.1M166.1 113.4l-0.2 0.1M114.7 182.3l0.8 1.9M137.2 136.5l-0.5 0.7M122.7 107.6l0 0.5M118.7 71.2l-0.1 0.7M140 134.8l0.6 0.4M104.7 88.8l0.6 0.4M145.2 64l-0.8 0.8M143.4 160.2l-0.8 1.8M164.2 132.8l0.1 0.3M70.8 80.2l-1.8 1M70.7 25.5l0 0.1M110.7 178.2l1.2 0.5M125.3 107.6l1.3 0.2M129.5 67.9l-0.1 0.2M126.8 135.9l0.8 1M182 118.4l-0.2 0.2M146.8 145.8l1 0.4M140.5 113.5l0.2 0.4M84.2 20.5l-0.4 0.6M25.9 140.9l-1 0.4M160.3 136.6l0.9 0.2M57.6 103.7l-0.5 0.1M58.9 182.5l0 0.3M165.1 75.9l0.4 0.1M77.4 127.1l0.7 1.3M170.3 160.5l0.2 0.2M56.3 148.5l0.2 0.1M53.8 76.1l0.1 0.2M168.5 157l-0.7 0.5M55.3 63.3l0 0M88.1 117.7l-0.1 0.3M60.5 156.2l0 0M116.6 170.7l0 0.1M109.4 156.5l-0.2 0.3M127.1 137.6l0 0M173.8 86.1l1.5 0.6M115.7 170.5l0.2 0.3M110.9 82.6l-0.3 1.3M56 42.4l-0.8 0M129.3 47.1l0.9 1.3M191.7 75.2l0.3 0.3M66 140.3l0.1 1M117.9 14.5l0 0.9M169 171.4l-1.4 0.5M67.8 153.2l0.1 0.2M77 161l-1.6 0.4M131.6 130.6l-0.3 0.4M137.1 15.5l0.3 0.1M19.8 79.6l0 0.1M122.5 93.5l-0.4 1.4M126.5 139l-0.2 0.3M168 73.9l0 0.3M71.6 59.2l0.2 1.1M80.3 123.8l-0.6 0.8M123.6 21.2l-0.5 0.6M99.5 77.4l-1.1 0.5M111.4 70.9l1.1 0.7M161 68.5l0.6 0.9M106.4 172.3l2.6 0.4M102.4 48.9l0.3 0.2M187 95.6l-1 0.8M184.2 53.3l-0.1 0M75.3 32.7l-0.6 0.8M73.9 83.8l1.6 0.3M84.1 103l0.9 0.4M138 110.9l-0.1 0.1M99.3 190.4l2.1 1.1M72.6 86.6l-0.1 0.7M80.3 21.6l0.2 0.2M145.7 93.2l-0.1 0.8M106.9 43.7l0 0.8M194.7 99.4l0.2 0.3M117.4 61.1l-0.4 1.2M183 52.1l0.6 0.6M51.7 85.3l-0.3 0.7M132.6 145.7l0.8 0.4M99.5 134.2l-1.2 0.5M157.2 51.9l0.2 0.1M66.2 157.4l-0.2 1.9M199.1 111.6l-0.3 1M178.1 108.5l-1.7 0.6M137.1 158.3l-0.6 0.5M135 54.9l0 0M101.4 76.1l0 0.3M145.4 184.2l0 1.1M145.7 37.3l0.3 0M153.1 158.7l0.1 1.3M63.3 143.3l-0.7 0.4M168.3 142.8l0.4 1.4M151 98.8l-0.4 0.8M135.7 35.7l-1 0.7M114.7 179.5l-1.1 0.6M49 59.7l0.1 0.1M178.3 113l-0.8 0.5M64.2 84.7l1.3 0.3M82.9 157.3l-0.6 1.5M113.3 177.6l1.6 1.2M42.6 66.5l0.6 0.9M102.8 157.2l1.5 0.3M179.8 129.6l0.1 0.1M100.5 148.5l0.9 1M144.9 28.5l2.5 0.3M185 114.6l-1 0.2M109 87.1l0.6 0.1M32.9 138.6l2.6 0.8M125.6 95.5l-1 0.5M199.1 85.6l1.1 0.2M63 154.5l-0.5 0.3M112.8 148.6l0.5 0M21 138.3l-0.7 1.8M103.9 24.1l2.1 0.4M148.4 27.9l0.2 0.3M37.2 148.3l-0.4 0.1M136.4 26.6l-1.2 1.7M113.5 49.9l0.3 0.7M189.5 120l-0.2 0M122.7 139l-0.2 0.3M82.2 63.9l-0.1 0.8M168.3 125.8l2 0.1M50.8 108.5l-0.2 0.2M125.9 71.3l0 0.1M132.1 123.9l-0.5 0.4M73.2 78.2l-0.4 0.4M74.1 126.3l-1.6 0.9M56.1 146.9l-2 1.1M126.6 85.3l-0.6 0.1M155.7 72.6l-0.1 0.2M141.8 29.9l1.8 1.8M124.9 42.2l-0.6 0.8M172.3 143l0 0M176.9 60.8l-1.7 1.5M44 157.8l-0.3 0.7M100.5 119.2l0 2M142.7 170.5l0.3 1.2M92.3 90.8l-1.4 0.7M31.8 96.2l1.1 0.4M129.5 177.2l0.9 0.8M141.8 87.2l-0.4 0.7M121.6 133.5l0.2 0.7M44.9 103.4l-1.2 0.1M121.1 61l0.2 1M123.7 76.1l1.2 0.4M96.7 193.4l0 0.1M184 74.2l0.1 0.1M97.1 152.4l0.1 0.1M63 89.5l-0.6 1.7M84.4 87.2l0.8 1M113.1 63.4l-1 0.2M141.5 63.1l-1.7 0.7M103.6 129.2l0.9 0.4M126.1 87l0.4 0.7M182.7 103l-0.5 0M55.8 100.6l-0.3 0.3M127.4 22.5l0.3 0.7M129.6 35.9l0.3 0.1M96.5 74.3l0.1 0.9M48.9 134.9l-0.6 1M187.3 118.7l-0.1 0.6M132 68.6l-0.3 1.1M148.9 163.9l0 0M123.5 35.7l0.9 1M64 108.5l0.4 0.7M119.7 141.4l1.2 0.9M120.6 85.9l0.4 0.8M116.1 37.7l0.7 0.3M184.4 66.4l1.2 1.5M58 44.9l-0.2 0.3M97.6 155.9l0.8 2M159.9 169.2l-0.2 0.2M172.5 85.8l-0.1 0.9M118.1 177.1l0.4 0.5M145.3 142.9l0.7 0.1M172.9 126.3l-0.9 0.2M145.4 26.2l1 0.3M69.2 145.8l0.3 1.1M74.6 159.4l-0.7 0.7M97.7 111l1 1M180.8 153.6l-0.9 0.2M176.4 58.8l1.1 0.5M26.4 116.7l1.2 0.1M182.1 60.5l-0.2 1M164.7 159.1l0 0.2M37.6 124.2l-0.4 0.1M53.4 174.7l0.1 0.8M122 164.2l-0.4 0.7M31 84.4l0 0.1M175.4 40.8l0.7 0.6M87.9 65.2l0.1 0.1M71.9 73.3l0.5 1M156.9 91.5l0.9 0.2M103.5 100l0.1 0.1M154.4 125.9l-1.3 1.1M132.6 85.2l-0.5 0.4M118.7 166.4l0 0.1M130.8 21.6l0.6 1.3M119.9 74l0.1 0M138.2 164.2l-0.1 0.5M137.5 34.7l0.2 0.4M20.3 130l-0.2 0.7M163.5 127.6l0 0.7M94.7 140.9l0.1 0M85 52.8l0.3 0.7M105.1 181.7l-0.2 0.4M105.2 142.3l-0.1 0.1M170.8 76.3l-0.3 0.1M104.9 86.8l-1.2 0.3M126.3 156.8l-0.1 0.1M23.3 125.6l-1 0M40.8 87.3l-0.6 0.9M122.3 189.4l-0.4 0.6M151.2 163l1.2 0.5M150.8 151.2l-0.1 0.1M106 184.4l-0.1 0.1M150.7 159.1l-0.3 0.5M136.4 35.7l-0.3 1.1M112.2 21.5l-0.2 1.2M127.8 12.1l1.4 0.2M130.5 103.5l1.1 0M109.6 84l-0.6 0.4M66.7 109.8l-0.5 0.4M185.2 60.4l0.5 2.1M157.5 60.4l0.2 0.5M116 156.3l0.1 0.1M182.4 102.8l-0.1 0.1M156.4 84.2l-1.3 0.5M96.7 110.5l-1.6 0.1M74.1 58.7l0.4 0.7M16.4 125.8l-0.1 0.2M189.4 93.1l2 0.2M101.9 73l0 0.1M50.4 101.8l-0.1 1M163.6 31.9l-0.3 0.1M137.1 74.4l0.5 0.3M51.6 123.7l0.7 0.4M27.7 79.6l0 0M54 161l-0.2 2.8M124.3 67.8l0.1 0M89.4 167.7l0.2 0.2M119.7 36.3l-0.2 1.7M151 86.4l-0.8 1M59.5 77.7l0.6 0.1M63.7 74.6l-0.4 1.1M65.2 79l-0.5 0.3M88 119.8l0 0M115.1 164.1l0.6 1.2M18.6 115.4l0.1 0.9M20.8 77.8l0.1 2M104.3 51.5l-0.6 0.2M110.5 116.3l-0.3 0M137.6 47l1.1 1.2M60.8 109.1l0.6 1.7M72.7 52l-0.7 1.2M79.2 178.7l0.1 0M169.3 135.1l0.1 1M24.5 116.6l-0.5 0.9M147.5 172l0.5 0.8M87.5 34.5l-0.7 1.3M165.3 43.1l0.4 0.9M74.5 79.6l0 0.1M61.6 91.7l1.5 0.4M130.6 191.3l0.9 0.3M41.9 154.7l1 1.6M109.8 112.6l0.7 0.2M165.5 68.6l1.6 1.5M18.3 98.1l0.3 0.5M178.5 95.1l2.1 0.2M150.8 85.3l0.6 1.1M104.4 31.7l-0.4 0.6M19.1 95.6l0.5 0.5M167.4 77.7l-0.2 0.3M164.7 157.9l-1.1 0.1M148.2 167.4l0 0M27.7 151.4l0.1 0.8M111.9 187.4l-1.2 0.8M86.2 139.7l0.5 0.1M41.9 146.5l-2.1 0.4M86.8 33.9l0 0.1M84.1 74.1l0.8 1.2M130.7 31.7l-0.2 0.2M88.7 51.6l0.3 0.6M95.6 103.1l0.3 2.1M73.2 45.1l0.1 0M125.3 100.8l-0.1 0.2M74.1 31.2l0.4 1M81.2 64.2l-1 0.5M71.1 28.7l0 0M184.1 112.9l0.2 0.1M174.2 148.2l0.3 0.1M194.8 76.3l0 0M44.1 44.3l0 0.8M58 123.3l0.6 0.2M168.9 137.2l-1.4 0.1M33.6 156.5l-0.5 1M53.6 138.4l0.1 0.1M192.7 100.2l0.2 0.7M96.4 81.6l1.1 1.5M126.2 90.4l-0.6 0.1M111.6 18.7l-0.9 1M86.9 101.6l0 0.1M61.8 161.5l-0.4 0.1M79.2 31.6l-0.8 0.3M159.1 47l-0.3 0.1M118.4 31.3l-0.4 0.6M113.7 59.4l0.6 1.4M138.8 39l0.3 2.6M112.1 186.2l-0.5 1.3M71.7 63.8l0.1 0.7M57.1 85.9l0.6 1M70.9 96.1l0.4 0M160.7 155.7l0.5 0.3M81 49.2l0 0.1M118.3 61l0.1 0.3M59.2 179.4l1.2 0.5M70.2 81.7l0 1.4M97.1 27.2l0.7 0.3M95.2 155.2l0.2 1.3M173.8 88.5l0.8 1M102.7 134.9l-0.4 0.6M146.1 77.7l-0.1 1.4M166.2 75.7l0 0M67.7 28.2l0 0.7M111.3 178l0 0M118 95.7l0.4 0.3M121.6 18.3l0.8 1.9M133.8 28.4l-0.3 0.1M68 85.8l0.9 0.4M21.9 140.8l2.4 0.6M170 61l-0.6 0.3M47.4 105.2l2.2 0.7M133 73l-0.5 0.4M63.3 42.9l0.3 0.2M158.8 121.2l-1 0.1M102.3 12.2l-1.1 0.2M188.2 104.5l0 0M29.1 121.6l-0.8 1.1M172.8 59.6l-0.3 0.1M84.9 66.9l-0.6 0.3M122.7 185l-1 0.1M126.3 34l-0.3 0.1M161.9 173.5l-0.1 0.3M119.8 64l-0.1 0.6M166.9 151.3l0.4 0.4M73.5 32.3l-1.3 0.6M161.4 57.5l-0.7 0.9M48.8 85.3l-0.3 1.6M44.2 93.4l0.8 0.4M141.2 161l-0.1 0.3M77.9 122.9l0.9 0.2M96.9 176l-0.1 0.4M101.6 49.5l0 0M104.6 170.8l-0.1 0.4M117.1 178.9l-0.8 0.6M27.3 138.5l-0.4 0.3M107.6 193.9l0.9 1.3M127.5 55.6l0 0.5M131.7 107.3l-0.3 0.1M110 28.9l-1.4 0.2M64.3 52.3l-0.4 1.1M75.4 80l1.8 0.8M98.4 172.7l0 0M144.9 93.6l2.4 0.7M129.1 137.8l-1.7 2M139.1 33.3l-0.1 0.1M134.7 83.8l-0.3 0.7M96.7 72.3l-0.7 0.1M147.1 26.1l-1.9 1.4M78.3 83.9l-0.7 0.2M162.2 139.5l1.8 0.9M166.5 80.8l-0.4 0.6M151.9 28.4l-1.1 0.7M143.5 46.6l-1.6 0.4M131.3 63.4l0.1 0.1M156.1 76.9l0.5 1.6M69.9 79l-0.5 0.5M124.2 140.9l0.2 0.2M75.1 141.8l0 0M81.7 59.2l0.4 0.3M89.7 161.3l1.1 0.5M41.5 89.9l-0.1 0.5M65.1 125.2l0.3 0.4M90 170.8l-0.2 0.6M177.9 44l-0.4 0.1M183.7 106.4l0.3 0.2M65.4 109.4l-1 0.3M155.2 178.9l1.1 0.6M151.8 136.4l0.2 0M58.3 39.3l0.7 1M150 39.6l-0.6 0.7M50.9 178.3l-0.1 1.1M176.6 107.2l1.1 0.4M111.7 40.4l-0.1 0M65.2 156l-1.5 0.3M93.7 146.8l-0.1 0.1M194.9 112.5l0 0M49.4 175.4l-0.1 0.2M17.7 110.9l-1.5 2.6M66.9 86.4l0.3 0.5M145.6 145.3l0.5 1.4M186.7 114.2l0 0.5M73.9 188.9l-0.7 0.1M114 187.2l0.9 1.9M124.6 28l-0.9 0.4M154.4 88l0.8 0.2M134.8 53.9l2.6 1.5M101.6 63.6l-1 1.1M123.8 117.2l0.5 0.2M123.5 123.3l-0.1 0.4M134.8 177.5l-0.3 0.5M29.2 96.6l-0.4 0.9M152.7 77l0.4 0.2M73.5 158.4l0.1 1.1M168.7 131.7l0.5 0.5M127.8 56.4l0.2 1.2M25.6 111.3l0.9 0.1M90.7 141.6l0.8 1.2M121.8 102.6l-0.5 0.3M126.6 22.4l0.6 0.2M172.1 152.3l-0.4 0.3M175.5 165.7l0.7 0.4M169.9 50.8l-0.8 0.4M81.9 138.2l0 0.2M42.9 63.5l0.1 0.1M114.3 13.8l0 1.4M96.9 175.5l-0.5 0.9M126.8 91.6l0.3 0.3M151.3 175.3l0.7 1M60.7 84l-0.1 0.3M103.4 154.3l0.3 0.3M187.4 146.2l-0.3 1.9M140 183.9l0.1 0.2M17.6 129.4l0 0.7M146.7 116.2l-0.1 0M68.6 79.8l0.9 0.4M105.9 149.5l0.8 0.1M193.6 69l-0.5 0.7M106 152.3l0.4 0.7M172.2 90.3l0 1.3M47.8 109l-0.4 0M87.2 170.7l0 0M124 192.7l-2.4 0.8M159 70.8l0.1 0.3M112.5 133.2l0.9 0.1M87.8 11.9l-1.8 0.2M123.4 89.6l0.4 1M89.7 127.4l-0.3 0.7M154.8 93.8l-0.3 0.9M95.1 184.3l0.1 0.8M107.4 95.1l0.5 0.1M121 45.9l-1.9 1M138.9 33.2l0 0M142.1 140.5l-0.6 0.3M128.9 127.1l-0.8 0.5M63.1 104.3l2.9 0.7M152.1 101.5l-1.3 1.4M131.5 46.1l0 0.6M54.9 86.5l-1.4 0.6M108 180l0 0.4M19.6 127.6l0.1 0M116.2 46.6l-0.7 1.4M52.3 52.1l0.4 0M155.1 62.2l-0.5 1M151.5 136l0.1 1.1M47.4 164.6l0.7 0M155.4 87.9l0.8 0.3M82.5 120.7l-0.2 0.9M149.3 169.8l0.3 1.2M21.8 78.5l-0.1 0.2M17.5 127.7l-0.5 0.3M46.8 148.9l-0.3 0M150 119l0.1 1.1M100.4 117.3l-0.7 0.3M89.3 100.9l-0.3 1.1M139.7 55.8l0.1 0.2M32.1 74.2l-0.6 1.2M68.3 169.3l0.1 0.1M134.8 71.8l-0.1 0.5M81.4 78.6l-0.3 0.4M116.7 56.9l-0.3 0.2M182.3 141.2l-1 0.2M184.9 118.8l0.5 0.5M79 124.6l-0.2 0.2M152 141l0.7 0.5M85 67.5l0.9 1.9M124.3 64.7l-0.1 0.4M65.9 104.7l0.8 0.3M114.5 183.8l0.5 0.6M26 93.4l-0.3 0.1M74.1 74.7l-0.1 0.2M171.4 96l0.3 1.3M146.7 21.4l0.5 1.4M133.6 26.3l0.6 1M127.7 65.4l0.6 1.5M149.4 66.1l0.2 0.2M17.1 77.9l0.3 1M89.3 166.8l1.4 0.6M145 123.3l0.3 0.1M32 70.1l0.4 1.3M80.5 34.5l-0.2 0.4M23.9 142.5l0.1 0.7M147.4 84.6l0.2 0.6M185.4 131.9l-0.9 0.6M152.9 167.1l-0.3 1.5M46.9 175.2l-1.2 0.5M150.2 145.7l0.5 0.5M169.2 36.7l0.7 0.7M137.3 37.3l0.7 0.8M61.8 134l-0.2 0.2M90.1 112.6l0.2 0.2M96.2 84.9l0 0.3M170.8 117.1l0.2 0.3M157.1 69.3l-0.1 0.1M42.1 120l0 2M161 69.5l0 0.4M52.5 32.1l-0.1 0.6M65.2 95.7l0 0M85.4 38.2l0.1 0.6M119.2 42.6l0.6 0.4M136.2 16.1l0.5 0.9M108.7 24.2l0.2 0.1M181.3 125.7l0.6 0.4M123.1 129.5l-0.3 0.4M84.5 23.3l-0.5 0M85.5 183.6l0.1 0.8M79.5 71.7l-1.7 0.7M125.6 83.7l-0.7 0.3M156.9 40.2l-1.3 0.8M174.8 129.7l-0.1 0.6M108.8 36.1l-0.4 1.3M87 159.5l0.6 1.1M59.6 82.1l-0.4 0.1M82.3 129.7l-0.3 0.2M186.7 127.5l0.5 0.1M95.3 60.6l0.6 0.1M27.3 58.6l0.8 0.7M99.2 160.1l1.2 0.8M106.9 143.5l-0.6 0.5M35.7 109.1l-0.2 0.4M128.3 60l0.6 0.6M170.1 91.9l-0.3 1.3M147.4 98.1l0.3 0.4M62.9 100.1l0.1 0.2M41.9 66l-1.6 0.4M161.5 120.5l-0.2 2M48.4 78.2l0.2 0.6M175.5 78.8l0.8 1M181.3 54.9l0 0.2M93.6 83.8l-0.6 1M26 145.9l-1.2 1.5M66 114.1l-0.1 0.7M83.2 107.7l0.7 0.7M37 142.7l1.9 0.9M112.1 86.5l-0.5 0.2M163.9 141.5l-1.2 0.4M117.9 53.4l0.2 0.2M149.5 22.5l0.1 0.1M96.5 54.6l0.7 1M85.5 113.7l0 0.6M59 101.5l-0.6 0.4M59.9 66l0.7 1.4M113.5 169.4l-0.1 0.1M173.7 93.2l1.8 0.9M36.1 47.6l1.3 0.7M175.6 64.6l0.6 0.5M170.1 147.4l0.4 0.3M135.5 74.5l-0.2 0.2M139 189.8l0.3 0.4M182.5 140.6l0.7 0.8M90.5 101.2l-3.2 0.7M161 135.4l0.7 0.4M99.4 21.8l0 0M23.9 98.9l1.5 0.7M144 135.1l0.1 0.2M83.8 21.1l-1.1 0.3M152.5 127.4l0 0.4M119 109.2l0.4 0.5M126.8 15l-0.2 0.2M100.7 145.7l-1.9 0.2M24.1 59.9l0.4 0.2M76.1 100.3l1.1 0.2M57.8 175l1.4 0.2M47.6 157l-0.7 1.1M102 54.4l-0.5 2M55.2 60.6l0.7 0.1M152.2 42.5l0.7 0.4M114.2 104.3l0 0M167.9 94.7l0 0M139.7 180.1l1 1.1M175.2 102.2l0.5 0M28.5 78.7l-0.9 1.5M76.5 88.9l2.3 1M116.9 81.3l-0.2 1.2M135 56.4l-0.4 0.4M69.4 158l-0.1 1.3M68.7 167.1l0.1 0.3M139.9 168l0.1 0.1M145.3 100.9l-0.3 0.1M51 38.3l0.6 0.3M168.8 172.4l0.2 0.2M118.7 152.2l-0.6 1.6M139.8 190.8l0 0.1M127.8 135.8l0.7 0.1M47.4 167.8l-1.5 1.8M85.7 31.4l0.1 0.4M95.6 66.9l0 1.7M176.9 98.6l-0.3 1.3M32.3 90.5l0.5 0.4M23.1 110.7l-0.5 1M158.6 28.9l0 0.5M96.8 59.1l0 0M186 122.3l0.2 0.5M101.7 76.8l0 0M39.1 124.7l-0.3 0.5M162.9 43.3l-1 0.5M173.3 157.9l-0.3 0.3M65.1 57l1.2 0.2M129.6 102.7l0.4 0M198.5 124.7l0 0M190.7 121.1l0.2 2.4M46.7 118.5l0 2M113.3 161l-0.6 0.1M107 28.7l-0.3 0.1M42.1 161.4l0.2 0.4M112.9 159.1l0.1 0.1M130.3 78.8l0 0M163 71.2l-1.8 0.1M66.8 62.4l-0.7 0.5M176.3 119l-0.1 0.3M21.3 133.6l0.8 0.2M162 123.9l0.3 0.4M181.2 130l0.3 1.2M128.4 73.1l1.7 1.3M36 112.1l0 0.6M41.2 170.1l0.3 0.2M164.1 130.7l-0.1 0.3M153.7 126l-0.1 0.6M86.8 26.8l0.4 0.7M97.6 133.8l1.1 0.6M101.1 92l-0.1 0.5M180.9 148.7l0.2 0.1M97.9 37.8l-0.1 0.2M113 178.8l0 0.1M165.5 136.2l-0.2 0.7M56 88.5l-0.1 0.1M156.3 135.3l0.3 1M60.3 32.9l-1.2 1M35.1 136.4l-0.4 0.7M170.8 96.6l-0.5 0.1M87.2 161.5l-0.1 0.4M75.4 76.2l0.1 0.6M59.2 69l-0.2 0.4M124.2 131.4l-0.8 1.2M146.6 26.1l-0.2 0.1M194.7 72.5l0.3 0.9M81.3 186.6l-0.4 0.7M31.2 76.7l-1.6 0.1M62.7 116l0 0.7M189.9 78l0 1.2M24.8 68.2l0.6 0.5M122.8 168.8l-0.5 0.3M54.2 105.7l-0.3 0M28 63.4l0.6 0.2M135.2 183l0.2 0.2M146.4 163.7l0.4 0.1M48.4 82.3l-0.1 0.2M159.9 76.3l0.5 0.4M43.9 134.3l0.3 2.2M90.8 151.4l-0.4 1.1M66.9 20l0.5 1.1M197.5 117.3l0.2 0.3M74.8 91.6l0 1.2M64.4 102l0.1 0M128.6 186l0.3 0.2M121.7 129.9l0.5 2.1M156.6 37.3l-0.2 0.1M62.9 84.2l1.3 0.1M153.4 163.5l-1.2 0.3M113 160.9l0 0.2M149 88.7l-0.4 0.1M75.6 126.7l0.3 0.6M114.9 47.4l-0.1 0.6M98 50.1l-0.8 0.5M101.6 114.3l0.4 0.8M27.8 98.4l-1.1 0.3M175.1 79.6l-0.2 0.5M189.6 122.5l0.1 1.1M58.6 86.3l0.1 0.7M152.7 26.8l-0.1 0.3M80 64.2l-0.1 0M155.4 159.9l0 0.5M111 118.7l-0.4 1.4M181.1 74.3l-1.3 0.3M105.6 177.3l-0.3 2.1M110.8 31.7l-0.8 0.2M73.8 143.6l-0.7 0.3M48.2 42.8l0.5 0.2M43.3 138.1l0.4 0.1M159.9 88.2l-0.2 0.1M164.3 165.1l1.7 0.6M169.3 56l-0.1 0M60.9 135.9l0.2 0.1M117.8 34.6l0 0.1M24.7 148.8l-0.8 0.1M30.4 71.8l-0.2 0M182 157.8l0 0.1M153.8 58.1l0 0.2M149 164.5l-0.1 0.2M116.6 155.9l-1.4 0.4M149.1 31.9l0.6 0M41 142.4l-0.5 1M16.1 81.2l-0.2 0M45.5 125.2l0.1 3.5M70.4 29.3l-0.2 0.4M82.5 140.5l-0.1 0.4M66.3 162l0.5 0.8M23.4 79.6l0.4 0.1M28.9 75.7l0.1 0.6M133.4 172.1l-0.3 0.4M184.9 93.1l0.1 0.3M145.2 130.1l0 0.1M128.3 20.7l-0.1 0.2M117.1 92.3l0.1 0.3M172.7 132.8l0.6 1.2M140.4 60.1l-0.1 0.4M81 187.4l0.2 0.5M51 116.5l-0.1 0.9M36.4 92.6l0.1 0M66.9 72.8l0.2 0M38.8 66.9l1.4 0.2M78.9 137.6l-1.4 0.1M139.3 175.5l0.3 1.8M78.8 77.8l-0.9 1M72.4 172.9l-0.9 0.3M186.3 131.4l-0.4 0.7M103.5 114.4l0 0M49.6 98.9l-0.5 0.4M57.8 174l-0.4 0.3M131.9 101.8l0 0.1M112.8 28.9l0.1 0.3M29.4 133.8l1.1 0.5M71.1 120.7l-0.1 0.2M13.8 91.1l0.6 0.3M53.2 79.5l0.3 0.5M181.6 78.3l0 0M155.7 106.5l-0.4 0.3M170.3 38l0.2 0.5M63.5 178.6l0.3 0.2M51.1 48.3l-0.7 1.7M41.7 165.4l-0.5 0.1M137.3 154.9l0.2 0.2M118.8 79.5l0.9 0.5M108.6 118l-0.4 0.3M175.1 74.3l-1 0.7M165.8 134.1l-0.1 0.4M98.7 177.7l0 0.3M90.2 25.6l0.1 0.1M107.7 88.6l0.2 0M155.6 144.2l1.1 0.7M105.2 157.9l1.1 0.1M132.7 46.9l0 0.4M55.1 37.7l-0.2 0.2M69.6 181.4l-0.2 0.4M164.2 112.8l-0.9 0.6M67.2 131.3l-0.2 1.1M74.7 39.9l0.3 0.1M32 125.6l0.8 0.2M71.3 67.3l-0.3 0.2M157.8 33.3l-2 0.2M150.3 22.9l-0.6 0.6M153.2 167.9l-1.7 0.6M22.9 63.7l-0.6 0.5M54 88.2l0 0.8M73.2 36.8l-0.1 0M177.8 151.1l0.1 0.4M109.5 99.7l0.8 0.2M43.6 111.4l0.9 0.2M83 39.5l1.1 2.3M38.5 121.1l0 1.1M100.7 195.4l-1.1 1.1M60.3 156.4l-1.7 0.1M80.3 173.8l-0.1 0M44.2 85.2l0.9 0.2M151.4 147l0 0M118.3 36.7l-0.9 0.1M70.3 123.1l0.4 1.7M68.1 112.4l-0.7 0.4M33.9 49.7l-0.4 0.2M30.8 52.3l0.2 0.6M59.6 139.8l0.7 0.5M99.3 71.8l0.1 0.4M103.1 144.2l0.2 0.2M147 56l-0.6 0.1M115.3 103.7l-0.9 0M115.7 29.8l-1 2.3M36 93.9l0.3 1.1M100.2 182l-1.4 0.4M108.5 160.6l0.2 0.2M64.4 130l1.3 0.6M52 166.8l-1.6 1.3M121.3 138.2l0.2 0.3M130.3 53.1l0.2 0.6M39.1 149.4l-0.1 0.2M163.6 88.4l-0.2 1.1M143.9 94.3l0 0.5M14.5 98.7l0 0.1M198.7 108.2l-0.9 0.3M96.5 167.2l-0.1 0.3M172.6 115.2l-0.6 0.1M26.8 85.2l-1.3 1.8M13.2 107.8l-1.2 0.4M99.4 29.1l1.4 0.2M146.2 133.2l1.2 0M166 74l-0.3 0.1M183.7 156.4l0 0.2M80.2 111l1.2 0.9M151.1 33.9l1.8 0.4M19.6 129.4l-0.5 2.2M23.9 123.2l-0.7 0.8M151.5 151.4l0.1 0.1M116.5 22.4l-0.1 0.1M135.8 68.8l0.3 0.3M120.9 193.5l0.1 0M149.2 116.1l-0.6 0.8M23.1 80l0.1 0.6M55.5 71.8l0.2 0.1M61 64l1.8 0.8M70.6 185.9l-0.2 0.8M68.4 73.6l-1.5 2M108.6 41.9l0.6 0.4M51.9 55.2l2.1 0.5M172.4 113l-0.1 0M105.5 105.5l0.1 0.3M181.1 51.7l-0.2 0.6M90.7 108.1l1.8 0M163.8 65.4l0.1 0M123.6 110l-0.2 0M175.9 69.8l1 0.7M195.4 131.3l0.2 0M83.5 128.3l0.2 0.3M94.8 36.2l0.7 0.5M107.6 78.1l0.8 0.6M193.3 131.8l0.5 1M55.8 120.8l-1.2 0.1M164.6 162.1l1.7 0.7M136.6 83.9l0.7 1.3M39.8 110.4l2.2 1.2M43.1 123.7l-0.9 1M78 166.4l0.9 0.8M130 76.4l0.3 0.4M166.9 73.1l-0.1 0.1M130.9 23.9l0.5 0.2M138.5 124.2l1.7 1.2M145.2 129.6l0.9 0.4M81.6 159.2l-1 0.1M115.8 171.6l-0.9 1.2M137.2 106.1l0.5 0.2M118.9 152.3l0 0.3M60.4 143.5l1.6 2M167.3 46.5l0.2 0.3M38.3 147l1.7 0M181.1 103.5l0.8 2M179.4 77.6l-0.3 0.3M118.6 158.3l-1.9 0M64.3 136.9l0.3 0M134.2 74.4l0.4 0.5M60.6 158.4l0.3 0.8M130.1 146.6l-0.5 0.8M168.7 118.4l-1 0.8M176.6 156.4l2.4 1.6M62.5 54.3l-0.2 0.7M137.2 104l-0.3 1.7M159.7 160.7l0.8 0.5M46.6 35.7l-1.2 0.6M143.8 141.9l0.1 0M63.6 37.9l-0.1 1M187.5 59.4l-0.2 0.1M188.6 139.5l-0.3 0.1M129.1 34.1l0.7 0.3M101.2 85l-0.3 0.1M62.2 150.2l-0.3 0.3M149.5 28.2l-0.8 1M35.7 99.3l0.2 0.5M53.4 38.5l-0.2 0.4M53.6 63.6l-0.2 0M128.6 98.5l0 0.3M195.9 92.2l0.2 0.5M79.1 100.1l-0.6 0M57.6 79l-0.5 0.7M111.4 91.3l-1.1 2.5M120.5 172.8l1.1 2.1M85.9 190.5l-0.3 1.2M133.4 37.8l-0.1 0.2M102.1 185.4l-1.3 1M198.1 120.1l0 0.2M71.2 143.8l-0.7 0.6M43.5 150.1l-0.3 0.1M181 144.1l0.3 1.5M174.9 71.4l0.3 0.4M111.2 102.9l-0.4 0.3M159.9 177.4l-2.1 1.7M160.2 77.7l-0.1 1.6M78.5 154.3l0.3 0.2M97.1 58.5l0.1 0.1M42.3 116.4l0 1.3M56.6 59.6l0 0M107.8 187.4l1.4 1.5M19.8 76.6l-0.5 1.5M123 183l-0.4 0.7M184.9 69.9l0.2 1.4M120.8 87.7l-0.6 0.1M129.6 14.9l0.1 0.6M179.1 133.8l-1 0" stroke="#4e2768" stroke-width="2.5" stroke-linecap="round" fill="none" opacity="0.72"/><path d="M175.2 150.9l0.1 0.3M151 185.6l-0.1 0.6M108.2 189.6l0 1.2M30.1 151l-1.6 0.3M94.4 191.2l0.4 0.4M191.6 63.8l0.6 0.2M152.5 182l-0.7 0.6M175.3 135l-0.8 0.3M95.4 167.3l-0.1 0.7M117.6 193.4l0.3 0.6M127.4 18.9l1.1 0.1M160.5 94.4l0 0M38.8 157.6l1.3 0.7M118.9 92.7l0 0.7M82.1 170.1l-0.7 1.3M165.5 107.4l0.4 0.7M129.8 171.4l1.2 2.5M152.2 169.9l-0.5 0.2M151.1 183l0 0.2M160.6 28.6l0 0.1M151.4 58.6l0 0M26.3 103l-1.9 0.2M39.1 152.6l-0.3 0.1M122.9 14l-0.4 0.1M100.2 37.3l0.9 0M196.8 113.7l-0.1 0.1M32.1 160.2l-0.3 0.2M165 82.2l0.3 0.8M20.5 77.1l-0.1 0M185.1 99.7l0.6 1.4M143.9 76.2l0.2 2.7M182.5 158.1l0.4 0.4M16.9 116l-0.6 0.1M64 21.9l0.1 0.1M81.7 127.7l-0.8 1M15.7 111.1l-0.3 0.2M181.4 50.9l-1.3 0.3M175.9 77.9l0.6 1.7M25 113.7l-1.1 1.1M20.3 126.3l-1.8 0.7M143.1 117.4l0.2 0.7M193.5 70.7l-0.4 0M200.2 106.2l-0.9 1.1M111.5 13.9l-0.1 0.1M36.5 124.9l-0.7 0.8M155.5 182.6l-0.1 0M53.3 174.4l-0.3 0.2M98.4 143.6l1 0M24.2 128.6l0.2 1.4M27 61.1l-0.8 1.5M192.5 67.4l-0.5 0.4M83 187.4l-1.4 0.9M82.3 15.5l-0.4 0M172.4 72.3l0.5 0.5M147.3 23.1l0.9 0.4M156.6 64.3l0 0.1M89.7 133.5l-0.1 0.2M116.9 179.5l0.2 0.3M156 139.1l-0.5 1.2M82.4 16.4l-0.1 0.7M100.1 10.2l0.2 0.8M52.9 178.7l0.2 0.1M161.4 88.1l-0.8 0.3M143.3 37.8l-0.4 0.2M94.1 183.3l1.3 0.8M187.8 122.8l0 0.2M121.1 83l-0.2 0M40.7 96.1l0.1 1.6M84.1 15.6l-0.3 0.4M179.3 110.4l-0.2 0.4M75.8 55.1l0.2 0.2M27.7 79.3l-0.5 1.3M53.1 30.8l-0.2 0.1M64.3 85.6l-0.4 1.7M164.8 94.2l-0.6 0.2M172.6 51.4l-0.1 0.2M124.4 27.4l-0.3 3.4M81.3 183.1l-1.1 0.3M121.3 195.7l0.5 0M133.7 178.2l0 0M19.1 104.4l-1.1 0.4M69.5 122.6l0.4 0.1M125.9 58.5l-0.3 0.5M53 90.8l1.4 2.1M133.7 42.8l-0.2 0.2M84.7 15.5l-0.1 2.2M108.1 86.3l0.7 1.3M95 11.6l0.6 0.7M17.9 104.6l0.7 0.7M194.7 105.4l0 0.1M141.5 160.5l-0.1 0.4M55.8 80.4l0.4 0.4M21.1 97.2l0.5 0.4M30.2 136.9l0.1 0.1M197.8 93l-0.3 0.1M163.2 30.3l1 3.3M135.7 182.3l-0.5 0M134.5 188.8l0 0M195.1 131.1l-0.5 0M190.9 70.5l0.1 0.4M76.4 26.7l-1.8 1M122.2 15.1l0 0.1M186.2 63.6l0 1M135.7 186.9l1.2 2.2M29.1 150.5l0 0.1M142.4 186.3l0.6 1M137 153.5l0 0M119.3 160.2l-1.2 1.3M15.9 88.5l0.4 0.4M159.4 44.8l1.9 0.4M63.4 182.3l0.2 0.2M111.6 194.1l1 1.3M109.7 34.7l0.1 0.2M29.2 111.2l-0.4 0M136.6 154l0.2 0.7M48.5 153.7l1.7 0.3M22.6 81.6l0.6 0.1M64.3 41.8l1 0.2M35.5 130.9l-0.6 0.5M141.7 118.5l0.2 0M164.9 99.6l-0.5 0.3M93 155.4l2.4 1.7M79.5 31.7l0.4 0.1M78.2 93l-1.4 1.5M73.5 43.2l-1.8 1.8M93.6 191.9l1.1 0.2M123.8 14.9l-0.4 0.1M191.9 135l1 0.6M101.9 177.3l0.2 0.3M177.8 101.9l0.9 0.7M102.1 99.4l-0.3 0.1M172.8 126.7l1.7 0M121.1 193.1l0.8 1.2M116.9 39l-0.6 0.4M38.2 47.8l-0.4 0.1M99 180l1 0.4M45.3 62.1l0.7 1M109.5 33.9l-1.6 0.2M189.3 129.9l0 0.1M15.6 99.9l-0.6 0.9M97.7 132.8l-0.4 1.6M150.2 96.9l-0.8 0.3M70.5 99.8l0 0M79.5 164l0.1 0.1M109.9 144.4l-0.7 1.4M38.3 141.7l0.4 0.1M144.9 26.2l0.2 0.2M144.2 17.9l0.1 0M49 170.7l-0.9 1M133.5 187.9l-1 0.9M60.7 179.8l1 0.7M193.5 102.1l0.7 0.5M125.2 133l0.5 0.5M27.4 54l1.8 0.3M144.8 25.8l0.1 1.7M103.5 193.6l0.6 1.3M194.2 129.2l1.8 1M163.5 128.6l0.7 1.1M42.5 37.1l1.6 1.4M105.4 11.2l-1.2 0.3M163.6 51.3l-0.9 1.3M62.9 29.5l0.6 1.7M164.4 29.7l-0.2 0.4M123 15.3l-0.9 0.7M51.5 33.4l0 0.3M22.2 100.8l-0.2 0.2M107 21.4l-0.2 1.6M59.7 172.4l0.7 0.4M63.3 27.8l0.6 0.6M73.8 17.6l-0.2 0.2M48.5 84.7l-0.1 0.3M192.8 102.7l0.1 1.2M142.7 142.8l0.4 0.8M46.6 145.4l-0.4 1M135.8 185l-0.6 0.2M191.9 126.7l0.5 1M118.3 16.7l0.4 1M178.3 74.9l0.1 0.2M37.7 111l0.1 0.1M110.1 175.5l-0.2 0.6M77 52.6l-0.3 1.7M110.9 192.7l1.9 1M195.4 126.6l0.2 0.5M78.1 187.7l-0.5 1.4M159.3 155.1l0.9 0.3M111.9 25.2l0.5 1.2M70.3 137.4l0 0M66.6 151.7l-0.2 0.5M42.9 158l-1 0.4M26.4 60.1l-0.9 1.9M175.3 81.5l0.6 0.9M129.1 152.1l0 0.6M22.7 69l0.3 0.3M118.2 29.1l-0.4 0.3M30.2 150.8l-0.1 0.2M29.5 128.2l0.6 0.8M186.2 68.8l-0.6 0.6M188 67.1l0 0.3M59.7 39.3l0.1 0M49.3 120l0.5 0.3M153.1 32.4l-3 1.8M81.1 19.2l0.4 1.2M112.7 177.1l0.1 0.3M118.1 147.6l-0.8 1.3M49.2 161.9l-0.6 0.6M14.8 111.4l-0.2 0.1M35.5 45.7l-0.1 0.5M166.8 41.6l0.4 0.3M29.5 57l0.8 0.2M46.3 46.7l0 0M184.7 137.4l-0.5 1.1M19.2 70.6l0.2 0.1M68.7 179.6l0.7 0.1M22.4 82.6l-0.9 0.5M20.3 128.7l1.1 2.6M142.3 97l-0.3 0.4M19.4 109.3l-1.3 0.5M53.5 112.5l0 0M153 23.6l0.8 0.5M71.7 101.6l0.1 0.3M196.5 108.4l0.1 0.2M175.9 149.3l0.3 0.2M114.8 64.7l0 0.1M97.2 19.6l0.2 0.1M189.9 123l0.1 0.5M73.5 18.8l0.1 0.4M86.4 25.2l0.8 0.7M37.9 79.9l0 0.9M151.9 181.1l-0.5 0.3M115.8 193.5l-0.2 0.1M59.3 167.3l0.2 0.1M21.2 128.6l-0.1 0.6M91.5 13.7l0.2 0.2M183.7 155.7l-1.1 2.6M89.1 25.2l0.2 0.1M16.8 109.7l-0.4 0.3M22.9 68.9l-0.5 0.2M124.8 194.9l-0.3 0.5M53.7 27.5l-0.8 1.1M40.1 165l-0.1 0.2M64 20.9l0.1 0.1M55.9 173.3l-2.4 0.4M74.9 160.2l-0.4 1M121.5 100.5l0 0.1M21.1 102.1l-0.4 0.1M181.5 115l0.5 0.3M147.2 181.2l1.1 3M187 152.5l-0.6 1.4M195.8 126.9l0 0M189.6 61.8l-0.1 1.4M184.6 141.4l2 0.5M118.3 191.5l-0.4 1.8M44.7 156.1l-2.4 1.8M59.1 157.1l0.1 0.1M128 173.8l-0.4 1M109.4 91.3l0.1 0.7M196.7 81.5l1.3 0.3M154.9 175.3l-1.5 1.1M169.1 152.7l0.3 1.3M46 163.1l-1.5 0.9M192.2 94.4l0.2 1.7M181 150.7l1.7 1.2M55.4 168.9l0.8 2M178.8 150.8l-0.3 0.4M84.2 117.4l1.4 0.6M141.8 102.4l-0.1 0.2M160.2 32.3l0.1 0.1M110.9 193.3l0.1 0.1M141.6 190.5l0.4 0.1M188.4 90.3l-2.1 0.7M94.7 195.5l0.9 0.8M58.3 182l-0.1 0M131.1 186.6l0 0.1M168.9 38.5l0.2 0.7M181.3 59.3l-0.2 0M184.5 151.8l-0.2 0.1M67.7 142l0.4 0.2M127.9 44.5l-0.1 0M126.5 174.5l-0.4 0.3M141.4 174.1l0.1 0.9M39.7 162.9l-1 2M20.1 110.8l-0.2 0.2M167.7 157.8l-0.9 0.9M125.2 130.8l0 0.2M182 105.8l0.1 0.2M23.2 67l-1 0M138.6 187.4l-1 0.1M140.2 31.2l1.5 0.6M175.1 46l0.9 0.1M160.6 174.3l0.2 0.5M192.5 136l0.1 0.2M168.8 39.3l-0.2 1.1M111.7 167.8l-2.4 1M57.4 119.1l0.2 0.4M108.3 13.9l0 1.1M178.8 126.6l-0.2 0.5M182 47.1l0.9 0.6M154.9 42l2.4 1.2M18.8 98.9l0 0.1M104.3 191.3l-1.8 0.2M45.9 154.1l-0.4 0.3M18.4 88.8l-0.6 0M183 89.4l-0.4 2.4M149.6 187l0 0.7M104 180.9l-1.2 2.9M46.9 37.3l-0.5 1.4M100.5 40.9l0.6 1.4M50.1 36.6l0.3 0.4M150.4 93.2l0.7 0.7M167.3 135.2l-0.1 0.5M130 58.5l-0.1 0.1M74.8 150.4l0.1 0.2M155 165.1l0 0.6M151.1 38.4l-0.8 1.6M145.3 179.3l-0.7 0.5M37.6 154.6l0.9 0.7M48.3 145.9l-2.5 1.9M107.6 72.5l-0.2 0M120.3 195.7l0.2 0.1M28.9 55.3l-0.1 0M186 130.5l-1.1 0.5M148.3 25.7l-0.3 1.5M24.9 140.7l-0.1 0M196.5 108.3l-1.1 0.4M119.8 104.7l-0.1 0.1M195.2 114.8l0 0M142.2 16.7l0.1 0.4M128.5 179.7l0.2 0.2M22.9 129.1l0 0M75.3 17.2l0.2 1.4M198.9 84.3l0.6 0.1M34.6 51.3l-1.5 0.7M93.7 21.7l-0.2 0.4M67.5 158.5l-0.6 1.2M61.9 57l0.2 0.3M75 136l0.9 0.2M15.1 92.4l0.3 0.3M40.6 45.1l-1.2 1.6M41.2 162.2l0.9 0.5M76.4 111.2l-0.4 0.1M157.2 24.2l0.6 0.4M186.1 53.1l0 0M20.7 91.7l1.2 0M50.1 66.2l0 1.3M137.1 124.6l-0.5 0M137.9 17l0.5 0.6M27.4 106l0.3 0.5M116.3 189.3l-0.4 0.2M200.1 105l0.5 0.8M63.5 180.8l-1.5 0.5M101.6 194.4l-1.2 0.5M40.1 131.5l0 0.5M70.9 190l-2 0.3M190 68.5l-0.2 0.7M156.6 182.7l0.1 0.3M138.6 32.2l0.6 1.7M108.7 136.7l-1.8 0.4M62.3 179l0.5 0.5M110.9 51.2l0.9 0.1M23.1 138.2l1.6 1M200 113.7l-1.1 0.4M175 160.1l0.5 0M135.5 186.6l-0.5 0.9M16.2 112.7l-0.1 0.1M179.5 114.8l-0.2 0.9M140.9 98.1l-0.2 0.1M50.8 173.3l1.5 0.1M143.3 146.7l0.3 0.8M95.5 162.7l-0.4 0.3M169.8 136.6l0.3 1.4M180.1 64.1l0.3 0.4M21.1 120.7l0 1.6M167.7 33.8l0.3 0.6M77.7 175.6l-0.2 0.1M66.6 42.4l0.7 0.6M103.6 149.8l-1 0.6M45.6 48.2l0.3 0.2M170.9 172.2l-0.5 0.4M58.6 24.8l-0.1 0.3M130.8 188.3l-0.4 0.2M156.4 53.9l0.6 0.8M64.3 37.1l0 0.1M155.2 181.1l-0.1 0.8M111.7 25.5l0.6 0.1M101.8 138.3l-1.9 0.3M19.8 130.8l-0.2 0.3M154 154.5l-0.2 0.1M90.8 177.8l0.2 0.3M41.8 167.4l-1.1 0.9M167.2 40.9l0 0.4M181.8 145.8l-0.8 1.1M153.6 147.8l-0.1 0.5M152.5 25.8l0.3 0.4M86.1 25.4l0.5 0.6M66.1 172.9l-0.5 0.5M163.9 150.3l-1.9 0.7M40 120.1l1.1 0.2M111.4 13.4l-0.6 0.5M158.1 151.7l0.3 0.6M163.7 105.9l1.2 1.6M98.9 61.3l0.1 0.9M96.8 146.9l-0.6 0.3M171 167.4l-0.2 0M116.5 17l-0.1 1.3M56.6 51.4l1.7 0.4M95.9 19.1l0 0.6M105.2 17.2l-1.2 1.2M66.7 136.8l1.7 1.4M47.1 39.9l-0.2 0.5M46.2 101.6l-0.1 0.1M196.3 113.3l0 1.5M196.6 105.3l0.9 1.2M95.9 90.3l0.4 0.8M25.9 95.9l0 1.4M171.3 158l1.1 0.6M73.7 183l-0.2 0.3M20.4 83.4l-1.1 0.8M196.7 86.3l0 0.2M181.9 116.4l-0.4 0.8M197 123.2l1.2 0.1M135.4 170.9l0.2 0.6M93.5 131.7l-0.7 1.5M83.8 189.1l0.6 0.7M189.4 117l0.5 0.1M181.8 101.2l-0.6 0M45.4 47l0.4 0.3M111 53.4l0.2 0M57.7 33.5l-0.8 0.3M157.9 132l0.7 1.4M175.5 57.3l0.6 1.2M172.9 155.5l0 0.1M90.7 78.6l-0.1 0.1M29.9 124.8l-0.4 0.3M25 76.7l-1 0.1M166.4 152.7l0.2 0.1M18.1 124.6l0.5 1.2M103.8 41.5l0.6 0.6M30.7 50.7l0.7 0.2M103.6 17.2l-0.2 0.2M138.7 62.1l-0.2 0.4M81.9 121.1l3 1.9M132 185.7l0.5 0.1M90.8 99l0.1 1.4M63.5 27.3l0 0.1M22.9 140.9l0 0.9M48 70.6l-0.3 0.1M58.5 183.8l-0.4 0.7M79.7 27.2l0.6 0.7M54 42.5l-0.5 2.3M27.2 54.1l-0.3 1.4M184.2 107.3l-0.4 0.3M184.4 124.2l0.2 0.2M183.8 52.3l0.3 0.1M178.2 55.1l0.3 0.1M133.2 16.1l1.7 0.5M175.1 54.5l-1.6 2.1M76.7 135.6l-0.4 1.6M56.6 56.9l-0.1 0.1M196.4 101.7l1 0.2M186.1 119.7l0.1 0.6M99 10.4l-0.3 0.4M154.8 179.1l-1.3 0.7M147.4 55.5l-0.2 0.5M170 44.2l1.9 0.3M29.6 59.9l0.2 0.1M157.4 84.6l-1.2 0.5M187.1 78.1l0.1 0M144.8 187.3l-0.2 2.2M184.6 139l0 0.2M79.6 156.2l0.2 0.6M20.9 140.2l1.2 0.2M79.8 98.8l0 0.6M188.8 130l-0.5 0.3M72.9 187.3l-0.5 0.8M193.5 118.2l-1.5 1.5M161.1 62.6l-1.2 0M46.3 43.1l0.2 0.2M193.7 122.7l0 1M86.6 69.3l0 0.5M166.8 130.9l-0.4 0.7M80.6 188.7l0.1 0.4M66.2 180.9l0.6 0.2M111 26.1l0 0.1M197.5 110.9l-0.1 0.3M127 74.7l-0.1 0M18.6 92l0 0.2M154.2 116l0.7 0.7M136.3 187.8l0.6 0.3M182.2 159.4l-0.3 0.8M108.7 191.1l-0.2 0.3M78.1 184.8l0.5 0.8M52.3 177.8l-0.3 0.7M13.1 99.8l0.7 1M79.6 173.5l-0.6 0.7M156.2 183.3l-0.4 0.3M158.7 30.6l0.5 0.3M143.4 189.5l0.5 0.2M181.9 150.6l-0.4 1M173.1 37.1l0.1 0.1M194.4 100.3l1.4 0.3M196.8 120.5l-0.1 0.2M20.4 112.8l0.9 0.5M44.7 68.7l-0.2 0.1M192.8 104.7l0.2 0.1M71.5 34.3l0 0M131 16.6l0.8 0.4M64.7 172.7l0.6 0.5M32.7 140.7l0.5 0.3M189.5 121.6l-1.6 0.4M194.6 119.6l-0.4 2M41.6 168.1l0.9 0.8M62.7 132.5l1.2 0.2M134 190l1 1.3M165.3 37.2l0 0.2M98.9 111.8l-0.9 0.7M125.7 48.6l1.3 0.9M45.8 59.7l2.1 0.3M194.8 110.3l0.7 0.2M95.1 11.1l-0.2 0.2M196.4 119.4l-0.5 0.2M36.1 44.2l0.6 0.3M28.2 81.9l-0.2 0.6M144.8 154.7l-0.1 0.8M160.2 34.8l-0.3 0.8M131.9 13.2l0.1 0.3M99.3 196.8l-0.2 1M63 174.6l-0.7 0.8M113.5 195.4l1.1 0.8M42.6 105l1 0.4M165.5 156.2l-0.9 1.1M41.3 143.9l-0.4 0.6M46.9 31.9l-0.2 0.5M92.5 192.4l-0.2 0M61.4 184.3l-0.1 0.2M57.3 173.4l-0.1 0.5M193.4 70.7l-0.1 0.1M18.7 82.8l0 0.9M87.1 155l0.9 0.4M145 66.1l0.8 1M99 24.7l-0.5 0.7M78.8 14.5l-0.6 0.4M129.9 129.9l1 0.6M89 156.5l0.1 0.2M188.4 101.2l-1 2.4M171.5 39l1 0.2M148.8 31.3l1.2 0.9M129.7 74.9l0 0M38 138.2l0.7 0.1M127.8 85.8l-0.9 1M161.6 108.3l0.1 0.3M126.9 72.9l-0.2 0.1M87.6 177.9l-1.7 0.4M15.5 106.9l0.7 0.5M50.6 46.4l0.3 0.4M113.2 58.8l-0.3 0.4M150.7 27.2l0.5 0.9M183.8 150l1.8 1.1M107.9 11.2l1.3 1.6M18.2 90.8l-0.2 0.6M154.1 49.8l0 0M165.4 40.7l-1.4 0.8M192.9 133.4l0.3 0.3M189.3 60.6l0.4 1.3M127.3 183.6l1.2 0.5M94.6 18l-0.3 2.3M17.6 111.8l-0.1 0.3M30.9 152.8l0.9 0.4M190.8 118.7l-1.3 0.3M73.2 186.5l-0.1 0.7M40 157.7l-0.8 0.6M81.8 45.6l0.1 0.1M158 177.7l0.6 0.2M63.9 163.6l0.2 0.7M181.2 48.9l0 0M88.7 166.5l-0.6 0.5M197.6 96.3l0.2 0.5M177.8 158.1l0.1 0M53.4 180.3l0.3 0M198.4 112.7l0 0.5M103.2 146.5l0 0.3M101.9 30.6l-1.5 0.3M87.8 14l0.7 1.1M176.2 59.5l0.4 0.5M100.9 177.4l-0.4 0.4M162.1 134.9l-1.5 2.2M19.2 89.5l1.8 0.2M79.1 23.4l0.4 0.8M54.9 122.6l0.8 1.9M136.2 188.7l0.1 0.3M83.7 143.3l-0.3 1.1M146.8 134.8l0.4 0.1M115.5 77l0.9 0.4M180.9 99.7l0.8 0.5M26 149.7l-0.2 0.7M186.3 142.4l-0.2 0.1M91.1 194.7l-0.4 0.1M77.1 191.5l-0.3 0.5M88.9 15.9l-0.7 0.5M171.4 49.1l-1.2 0.4M84.7 180.3l-1 1.3" stroke="#43185e" stroke-width="2.6" stroke-linecap="round" fill="none" opacity="0.78"/><path d="M143.9 66.4l-0.1 0.5M128.5 60l0 0M53.5 59.7l-0.8 0.1M127.1 47.4l0.3 0.2M89.6 90.1l0.2 0.2M78.9 85.2l-0.8 0.1M107.8 99.5l0 0M135.6 53.8l-0.1 0.1M100.8 78.5l-0.6 0.5M96.4 99.6l-0.1 0M140.5 139.2l-0.7 0.1M63.8 170.1l-0.7 0.5M93.1 111.8l0 0M57.2 137.4l-0.7 0.1M100.8 86.4l0 0.4M86.2 100.6l-0.4 0M100 157.3l0.1 0.3M115.7 46.5l-0.2 0.5M103.5 150.9l-0.3 0.6M90.2 17l0.2 0M75 23.2l0.1 0.1M141.7 27.9l0.2 0.7M68.4 27.1l0.5 1.3M92.2 67l0.8 0.5M168.2 156.6l1.2 0.2M128.4 152.8l-0.5 0.1M109.9 56.1l-0.5 0.7M162.3 44.6l-0.7 0.9M145.8 100.6l-0.1 0M175.6 50.5l0 0.3M142.7 107.7l-0.2 0.3M92.5 142.2l-1.1 0.6M53.6 68.9l-0.2 0.3M147.1 25.7l0.1 0.2M109.7 97.1l0.6 0.1M82.2 85.7l-0.3 0.6M123 24.5l-0.9 0.3M122.1 40.7l0.5 0M186 62.6l-0.7 0.7M131.4 66l1.4 0.7M117.6 17.3l-0.3 0.5M90.3 169.6l-0.3 0.2M98.4 33.7l-0.1 0M48.2 128.1l-0.1 0.1M68.1 138l0.3 0.6M113.9 190.3l1.1 0.8M86.6 159.4l-0.1 0.2M69.8 91.7l0.3 0M152 84.1l0.1 0M115 65.5l-1.7 0.3M92.7 87.5l-0.8 0.2M87.3 180.8l-0.2 0M129.4 106.6l-0.5 0.8M128.2 127.5l0 0.2M46.1 76.9l-0.1 0M182.9 70.2l-0.1 0.1M105.2 118.8l-0.5 0.3M113.1 133.9l-0.6 0.7M54.3 86.7l0 0.9M144.7 46.7l0.3 0.3M35.1 138.4l0.3 0.3M53.2 42l0.9 0.7M37.2 96.5l-0.1 0.4M25.4 87.9l0.1 0M55.3 154.5l-0.3 0.7M155.4 60.7l-0.8 0.6M64.9 82l-1.2 0.7M97.5 118.9l-0.2 0.3M105 110.8l0.2 0.1M91.7 78.6l0.5 0.1M52.2 67.3l0.9 0.6M107.4 39l-0.8 0M186.1 107.4l-0.2 0.1M145.8 28.3l-0.4 0.2M71.6 167.1l-0.8 0M82.5 27.7l1.5 0.8M111.8 108.2l-0.1 1.4M172.9 55.6l-0.2 0.1M34.2 106.7l0.3 0.7M63.8 64.6l0 0M105.3 107.5l-0.1 0.3M172.6 113l-0.2 0.7M74.7 126.7l0.7 1.1M113.2 50.4l-0.2 0M170.1 70.6l0.3 0.2M180.6 152.1l-0.2 0.1M176.5 102.7l-0.1 0.1M97.4 125.8l0.3 0.5M92.6 130.8l0 0.2M126 86.6l0.1 0.6M115.5 71.1l-1.1 0.8M142.2 85.1l-0.1 0.1M161.2 50.5l0 0M78.2 148.5l-1.1 1.1M74.2 123.9l0.1 0.1M59.8 109.1l-0.4 0.1M107.4 71.8l-0.4 0.3M52.5 94.5l-0.6 1.3M109.4 105l-0.4 0.1M77.7 127l0.2 1M118 88.3l-0.5 0.1M103.4 112.2l0.6 0.3M55.6 164.2l0.8 0.3M111.8 91.1l0.8 0M93.1 21.1l-1 1.6M130.1 155.7l-0.7 0.4M173.8 90.1l-0.6 0.1M61.3 158.5l-0.6 0.9M159.8 162.1l0.5 0.2M105.7 104l1.4 0.1M33.1 102.2l0.8 1.4M166.4 121.5l0.1 0.2M42.8 126.2l0.1 0.1M76.1 110.9l-0.4 0.4M115.8 101.6l0.2 0.1M75 179.6l0.9 0.5M191 122.5l-0.5 0.3M53.7 136l0 1.2M86.9 184.5l-0.2 0.3M112.5 86l-0.4 0.1M176.2 99.7l-1.5 0.8M86.9 126.9l0 0M106.3 44l0.7 0.6M101.3 78.9l1 1M94.5 125.3l0.8 0.5M111.4 152.3l-0.2 0.6M120.6 123l-0.5 1M176.5 76.5l0 0M134.7 99l0.1 0M86.4 41.3l-0.1 0.3M133.2 182l-1.3 0.6M187.5 125.2l-0.3 0.2M66.6 56.2l0.2 0.3M166 89.6l0.4 0.5M88.7 156l0.1 0.1M62.9 87.2l-1.7 0.3M144.9 148.5l-0.3 0.8M86.1 64.6l0.4 0.9M121 55.3l-0.4 0.6M68.5 169.1l0.3 0.2M122.6 119.4l0.7 0.4M152.1 128.7l-0.5 0.5M149 128.1l0 0.1M185.4 124.2l0.7 0.3M167.8 69.4l0.2 0.8M126.9 115.8l-0.5 0.6M98.4 22.3l0.3 0.3M51.9 135.6l0.1 0M114 105.2l0.5 0.2M82 111.1l-0.2 1.4M63.8 59.2l0.4 0M163.1 101.5l0.6 0.1M140.2 109.5l0.3 0.5M51.6 168.3l-0.6 1M99.5 189.7l-0.3 0.2M101.1 153.4l-0.1 0.1M144.9 25.9l0.6 1M81.1 73.3l-1 0.4M94.4 177.3l-0.4 0.1M89.9 151.8l-0.1 0.2M181.2 63.1l-1.8 0.4M74.9 138l-0.8 1M76.6 175.1l0.2 0.5M162.5 151.1l0.3 0.2M80.8 63.3l0.1 0.1M71.7 27l-1.1 0.1M80.2 80.5l0.3 0.6M73.2 174.1l0.5 0.8M114.7 93.8l-0.3 0.6M142.8 40.4l-0.2 0M90.5 108.8l0.6 0.3M66.5 177.7l0 0.1M69.5 88.2l0.5 1.4M167.2 139.4l0.7 0.2M131.9 33.8l-0.3 0.1M157.6 67.1l0 0.8M109.2 33.5l0.5 0.4M89.1 175.4l-1.1 0.7M93.8 33.5l-0.2 0.6M164.2 42.4l-0.7 0.3M65.2 84.4l-0.3 0M190.1 109.7l0.1 0.1M105.3 109.5l0.6 0.2M114 117.3l0.7 0.2M141.7 157.2l0.3 0.2M123.2 147.6l-0.2 0.2M68.8 90l-0.8 0.2M110.2 105.3l0.2 1M190.6 75.8l0 0M132.7 22.7l-0.3 0M105.8 67.4l-0.2 0.4M109.7 45.8l0.2 0.5M72.1 42.8l0.1 0.1M77.6 44.2l-0.3 0.1M140.6 132.9l1.4 0.6M140.2 119.4l-1 0.2M145.1 104.5l-0.4 1M101.8 92.1l0 0M115.2 107.2l-0.1 0M70.2 49.1l-0.3 0M98.9 130.9l-0.2 0M142.1 182.6l-0.2 0.2M96 178.5l1.6 0.1M74.8 156.7l-0.4 0.9M86.8 77.5l-1.7 0.7M122.6 80.9l0.7 0.8M109 21.1l-0.8 0.1M132.1 40.8l0.1 0.9M135.3 41.5l0.6 0.2M157.3 70.8l0.9 0.1M59.4 153.2l0.1 1.1M99.2 152.4l-0.2 0.4M63.7 177.5l0.7 1.1M187.8 78.7l-0.2 0.5M140.9 122l1 0.3M152.3 56.8l0.2 1.4M110.2 141.2l0.2 0.1M172.4 107.6l0 0M32.5 102.6l-0.3 0.5M63.9 43.5l0.2 0.1M36.4 123.6l-0.2 0.1M136.6 130.4l-0.1 0.1M108.2 163.5l-0.8 1.1M140.7 118.7l1.2 0.5M175 86.9l0.4 0.5M116.7 104.9l-0.3 0.6M129.4 17.5l0.2 0.7M113.3 118.5l0.1 0M125.9 97l-0.7 1.4M101.6 104.3l0.2 0.1M78.4 169l-0.4 0.8M192.6 86.3l0.2 0.2M65.1 80.9l-0.4 0.5M31.2 105.3l0.4 0.2M107.6 134.1l-0.9 0.6M137.3 109.5l-0.9 0M59.6 158.6l-0.1 0M187.5 65.6l-0.4 0.4M62.3 58.3l-1 0M40.1 79.8l-0.5 0.2M46.1 129.7l1 1.5M160 170.8l-0.9 0.1M61.4 100.9l-0.2 0.4M86.9 67.9l-0.4 0.7M92 99.8l0 0.1M97.3 23.1l-0.1 0.5M139.2 34l0.4 0.2M166 137.7l-0.3 0M94 74.5l-0.1 0.1M193.3 106.3l-0.2 0.1M87.6 95.9l0.6 1.3M154.1 85.9l-0.1 0.2M91.3 145.2l0 0M52.8 84.9l-1.4 0M148 105.9l0 1M145.7 119.2l0.3 0.7M157.5 103.5l-0.2 0.2M65.8 99.1l0 0.1M119.4 95l-0.4 0.8M98.1 106.7l0.4 0.4" stroke="#dcd6e0" stroke-width="1.5" stroke-linecap="round" fill="none" opacity="0.5"/></g></g><path d="M206.2 105.2A101 101 0 0 1 7.6 131.3" fill="none" stroke="#e0dfe4" stroke-width="1.8" stroke-linecap="round" opacity="0.9" filter="url(#bl05)"/><path d="M207.4 114.1A102.6 102.6 0 0 1 16.3 156.5" fill="none" stroke="#828086" stroke-width="1" stroke-linecap="round" opacity="0.5" filter="url(#bl05)"/><path d="M8.6 131.1A100 100 0 0 1 11.2 71" fill="none" stroke="#ccc7da" stroke-width="2" stroke-linecap="round" opacity="0.7" filter="url(#bl1)"/><path d="M22.1 47A101.5 101.5 0 0 1 70.5 9.8" fill="none" stroke="#c9c6d6" stroke-width="1.1" stroke-linecap="round" opacity="0.7" filter="url(#bl05)"/><path d="M105 194v12" fill="none" stroke="#cdc8d2" stroke-width="3" stroke-linecap="round" opacity="0.6" filter="url(#bl1)"/><rect width="209.5" height="208.7" filter="url(#grain)" opacity="0.12" style="mix-blend-mode:soft-light"/></g>
</g>
<text class="b" transform="translate(1364 84.5) scale(1.03 1.04)" font-size="36" text-anchor="middle">pcDNA3</text>
<text class="b" transform="translate(1580.8 84.5) scale(1.03 1.04)" font-size="36" text-anchor="middle">Kir6.2</text>
<text class="b" transform="translate(1360.2 580.4) scale(0.99 1.04)" font-size="36" text-anchor="middle">SUR1</text>
<text class="b" transform="translate(1579.5 578.9) scale(1 1.04)" font-size="36" text-anchor="middle">Kir6.2/SUR1</text>
<g id="chart-cfa">
<text class="b" transform="translate(1506.5 671) scale(1 1.06)" font-size="37.6" text-anchor="middle">C33A - CFA</text>
<rect x="1315.1" y="919.9" width="79.4" height="192.8" fill="#808080" stroke="#000" stroke-width="3.2"/>
<rect x="1415.6" y="916.4" width="79.4" height="196.3" fill="#fd4141" stroke="#000" stroke-width="3.2"/>
<rect x="1515.6" y="839.9" width="79.4" height="272.8" fill="#ffa1a1" stroke="#000" stroke-width="3.2"/>
<rect x="1615.8" y="815.5" width="79.4" height="297.2" fill="#119cb5" stroke="#000" stroke-width="3.2"/>
<g stroke="#000" stroke-width="3.6" fill="none">
<path d="M1271.2 721V1114.5"/>
<path d="M1255.2 1112.7H1742.2"/>
</g>
<g stroke="#000" stroke-width="3.2" fill="none">
<path d="M1255.2 1015.18H1271.2M1255.2 917.65H1271.2M1255.2 820.12H1271.2M1255.2 722.6H1271.2M1354.8 1112.7V1129.6M1455.3 1112.7V1129.6M1555.3 1112.7V1129.6M1655.5 1112.7V1129.6"/>
</g>
<text class="b" transform="translate(1250 1122.7) scale(1.08 1.04)" font-size="28" text-anchor="end">0.0</text>
<text class="b" transform="translate(1250 1025.18) scale(1.08 1.04)" font-size="28" text-anchor="end">0.5</text>
<text class="b" transform="translate(1250 927.65) scale(1.08 1.04)" font-size="28" text-anchor="end">1.0</text>
<text class="b" transform="translate(1250 830.12) scale(1.08 1.04)" font-size="28" text-anchor="end">1.5</text>
<text class="b" transform="translate(1250 732.6) scale(1.08 1.04)" font-size="28" text-anchor="end">2.0</text>
<text class="b" transform="translate(1190 917) rotate(-90) scale(1 1.09)" font-size="32.4" text-anchor="middle">Ratio of Colony Formation</text>
<text class="b" transform="translate(1364.4 1155.6) rotate(-45) scale(1 1.04)" font-size="30" text-anchor="end">pcDNA3</text>
<text class="b" transform="translate(1464.9 1155.6) rotate(-45) scale(1 1.04)" font-size="30" text-anchor="end">Kir6.2</text>
<text class="b" transform="translate(1564.9 1155.6) rotate(-45) scale(1 1.04)" font-size="30" text-anchor="end">SUR1</text>
<text class="b" transform="translate(1665.1 1155.6) rotate(-45) scale(1 1.04)" font-size="30" text-anchor="end">Kir6.2/SUR1</text>
<g stroke="#000" fill="#000">
<path d="M1434.8 892.4H1475.8M1434.8 936.4H1475.8M1455.3 892.4V936.4" fill="none" stroke-width="3.2"/>
<path d="M1534.8 823.5H1575.8M1534.8 851.7H1575.8M1555.3 823.5V851.7" fill="none" stroke-width="3.2"/>
<path d="M1635 809.6H1676M1635 814.8H1676M1655.5 809.6V814.8" fill="none" stroke-width="3.2"/>
<circle cx="1330.9" cy="917.9" r="6" stroke="none"/>
<circle cx="1354.7" cy="917.9" r="6" stroke="none"/>
<circle cx="1378.3" cy="917.9" r="6" stroke="none"/>
<circle cx="1455.3" cy="890.5" r="6" stroke="none"/>
<circle cx="1455.3" cy="914.4" r="6" stroke="none"/>
<circle cx="1455.3" cy="936.6" r="6" stroke="none"/>
<circle cx="1555.2" cy="820.9" r="6" stroke="none"/>
<circle cx="1566.9" cy="842.6" r="6" stroke="none"/>
<circle cx="1543" cy="847.8" r="6" stroke="none"/>
<circle cx="1631.7" cy="817.4" r="6" stroke="none"/>
<circle cx="1655.7" cy="809.6" r="6" stroke="none"/>
<circle cx="1679.6" cy="813" r="6" stroke="none"/>
<path d="M1354.1 745.7H1656.2" stroke-width="3.5" fill="none"/>
<path d="M1354.3 799.1H1555.2" stroke-width="3.5" fill="none"/>
<path d="M1354.3 871.7H1455" stroke-width="3.5" fill="none"/>
</g>
<text class="st" transform="translate(1506.4 737.5) scale(1 1.07)" font-size="34.4" letter-spacing="5.4" stroke-width="1.5" text-anchor="middle">****</text>
<text class="st" transform="translate(1456.7 791) scale(1 1.07)" font-size="34.4" letter-spacing="5.4" stroke-width="1.5" text-anchor="middle">***</text>
<text class="bi" transform="translate(1405.3 851.2) scale(1.06 1.04)" font-size="30" text-anchor="middle">ns</text>
</g>
</g>
<g id="panel-c">
<text class="b" transform="translate(18 749) scale(0.97 1.02)" font-size="67">C</text>
<g id="chart-softagar">
<text class="b" transform="translate(447.3 746) scale(1 1.04)" font-size="39.5" text-anchor="middle">C33A - Soft Agar</text>
<rect x="249.1" y="1072.1" width="82.6" height="132.3" fill="#808080" stroke="#000" stroke-width="3.4"/>
<rect x="353.7" y="1039.7" width="82.6" height="164.7" fill="#fd4141" stroke="#000" stroke-width="3.4"/>
<rect x="457.7" y="1008.7" width="82.6" height="195.7" fill="#ffa1a1" stroke="#000" stroke-width="3.4"/>
<rect x="562.2" y="893.7" width="82.6" height="310.7" fill="#119cb5" stroke="#000" stroke-width="3.4"/>
<g stroke="#000" stroke-width="4" fill="none">
<path d="M204 799.5V1206.4"/>
<path d="M186.6 1204.4H693"/>
</g>
<g stroke="#000" stroke-width="3.4" fill="none">
<path d="M186.6 1070H204M186.6 935.6H204M186.6 801.2H204M290.4 1204.4V1223M395 1204.4V1223M499 1204.4V1223M603.5 1204.4V1223"/>
</g>
<text class="b" transform="translate(181.5 1215.4) scale(1 1.04)" font-size="30" text-anchor="end">0</text>
<text class="b" transform="translate(181.5 1081) scale(1 1.04)" font-size="30" text-anchor="end">1</text>
<text class="b" transform="translate(181.5 946.6) scale(1 1.04)" font-size="30" text-anchor="end">2</text>
<text class="b" transform="translate(181.5 812.2) scale(1 1.04)" font-size="30" text-anchor="end">3</text>
<text class="b" transform="translate(144 1003) rotate(-90) scale(1 1.08)" font-size="33.6" text-anchor="middle">Ratio of Colony Formation</text>
<text class="b" transform="translate(301.2 1249.4) rotate(-45) scale(1 1.04)" font-size="31.4" text-anchor="end">pcDNA3</text>
<text class="b" transform="translate(405.8 1249.4) rotate(-45) scale(1 1.04)" font-size="31.4" text-anchor="end">Kir6.2</text>
<text class="b" transform="translate(509.8 1249.4) rotate(-45) scale(1 1.04)" font-size="31.4" text-anchor="end">SUR1</text>
<text class="b" transform="translate(614.3 1249.4) rotate(-45) scale(1 1.04)" font-size="31.4" text-anchor="end">Kir6.2/SUR1</text>
<g stroke="#000" fill="#000">
<path d="M373.5 997.6H416.5M373.5 1079H416.5M395 997.6V1079" fill="none" stroke-width="3.4"/>
<path d="M477.5 968H520.5M477.5 1045.4H520.5M499 968V1045.4" fill="none" stroke-width="3.4"/>
<path d="M581.9 840.4H624.9M581.9 943.6H624.9M603.4 840.4V943.6" fill="none" stroke-width="3.4"/>
<circle cx="265.6" cy="1070" r="6.4" stroke="none"/>
<circle cx="290.4" cy="1070" r="6.4" stroke="none"/>
<circle cx="315.4" cy="1070" r="6.4" stroke="none"/>
<circle cx="395" cy="991.6" r="6.4" stroke="none"/>
<circle cx="382.4" cy="1063" r="6.4" stroke="none"/>
<circle cx="407.4" cy="1060" r="6.4" stroke="none"/>
<circle cx="499" cy="969.6" r="6.4" stroke="none"/>
<circle cx="499" cy="1002.4" r="6.4" stroke="none"/>
<circle cx="499" cy="1047.4" r="6.4" stroke="none"/>
<circle cx="603.4" cy="844.4" r="6.4" stroke="none"/>
<circle cx="603.4" cy="885.4" r="6.4" stroke="none"/>
<circle cx="603.4" cy="946" r="6.4" stroke="none"/>
<path d="M290.6 808.4H603.9" stroke-width="3.8" fill="none"/>
<path d="M291 905.4H498.6" stroke-width="3.8" fill="none"/>
<path d="M291 961.4H395" stroke-width="3.8" fill="none"/>
</g>
<text class="st" transform="translate(449.25 799.6) scale(1 1.07)" font-size="36.1" letter-spacing="5.7" stroke-width="1.6" text-anchor="middle">**</text>
<text class="st" transform="translate(397.05 896.4) scale(1 1.07)" font-size="36.1" letter-spacing="5.7" stroke-width="1.6" text-anchor="middle">*</text>
<text class="bi" transform="translate(343 941) scale(1 1.04)" font-size="33" text-anchor="middle">ns</text>
</g>
</g>
</svg>
</body>
</html>
